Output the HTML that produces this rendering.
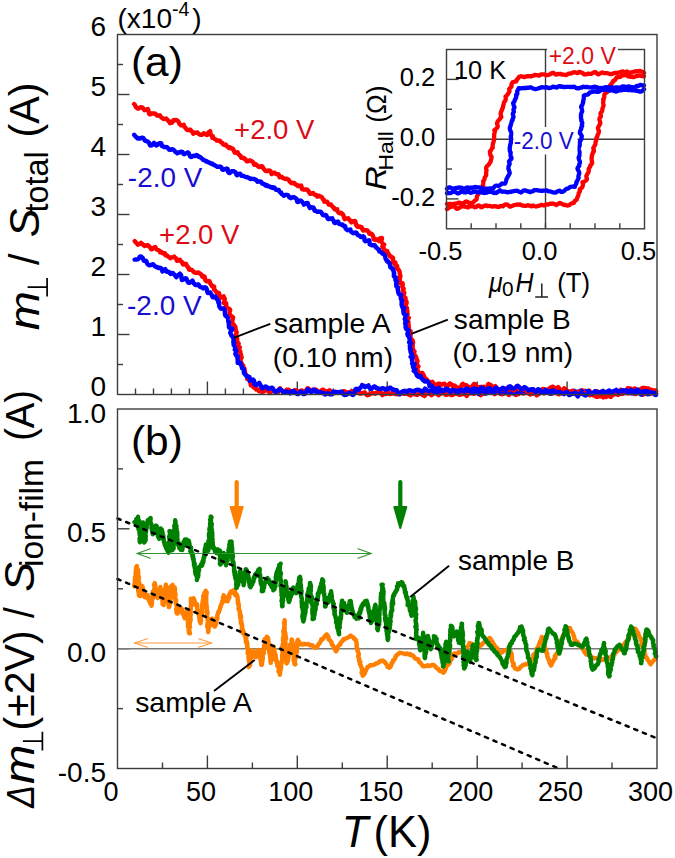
<!DOCTYPE html>
<html><head><meta charset="utf-8"><style>
html,body{margin:0;padding:0;background:#fff;}
svg{display:block;font-family:"Liberation Sans",sans-serif;}
</style></head><body>
<svg width="675" height="858" viewBox="0 0 675 858">
<rect width="675" height="858" fill="#fff"/>
<line x1="117.5" y1="364.5" x2="123.0" y2="364.5" stroke="#3c3c3c" stroke-width="1.40" />
<line x1="117.5" y1="334.5" x2="129.5" y2="334.5" stroke="#3c3c3c" stroke-width="1.40" />
<line x1="117.5" y1="304.5" x2="123.0" y2="304.5" stroke="#3c3c3c" stroke-width="1.40" />
<line x1="117.5" y1="274.5" x2="129.5" y2="274.5" stroke="#3c3c3c" stroke-width="1.40" />
<line x1="117.5" y1="244.5" x2="123.0" y2="244.5" stroke="#3c3c3c" stroke-width="1.40" />
<line x1="117.5" y1="214.5" x2="129.5" y2="214.5" stroke="#3c3c3c" stroke-width="1.40" />
<line x1="117.5" y1="184.5" x2="123.0" y2="184.5" stroke="#3c3c3c" stroke-width="1.40" />
<line x1="117.5" y1="154.5" x2="129.5" y2="154.5" stroke="#3c3c3c" stroke-width="1.40" />
<line x1="117.5" y1="124.5" x2="123.0" y2="124.5" stroke="#3c3c3c" stroke-width="1.40" />
<line x1="117.5" y1="94.5" x2="129.5" y2="94.5" stroke="#3c3c3c" stroke-width="1.40" />
<line x1="117.5" y1="64.5" x2="123.0" y2="64.5" stroke="#3c3c3c" stroke-width="1.40" />
<line x1="135.5" y1="394.5" x2="135.5" y2="388.5" stroke="#3c3c3c" stroke-width="1.40" />
<line x1="153.5" y1="394.5" x2="153.5" y2="388.5" stroke="#3c3c3c" stroke-width="1.40" />
<line x1="171.4" y1="394.5" x2="171.4" y2="388.5" stroke="#3c3c3c" stroke-width="1.40" />
<line x1="189.4" y1="394.5" x2="189.4" y2="388.5" stroke="#3c3c3c" stroke-width="1.40" />
<line x1="207.4" y1="394.5" x2="207.4" y2="381.5" stroke="#3c3c3c" stroke-width="1.40" />
<line x1="225.4" y1="394.5" x2="225.4" y2="388.5" stroke="#3c3c3c" stroke-width="1.40" />
<line x1="243.4" y1="394.5" x2="243.4" y2="388.5" stroke="#3c3c3c" stroke-width="1.40" />
<line x1="261.4" y1="394.5" x2="261.4" y2="388.5" stroke="#3c3c3c" stroke-width="1.40" />
<line x1="279.4" y1="394.5" x2="279.4" y2="388.5" stroke="#3c3c3c" stroke-width="1.40" />
<line x1="297.3" y1="394.5" x2="297.3" y2="381.5" stroke="#3c3c3c" stroke-width="1.40" />
<line x1="315.3" y1="394.5" x2="315.3" y2="388.5" stroke="#3c3c3c" stroke-width="1.40" />
<line x1="333.3" y1="394.5" x2="333.3" y2="388.5" stroke="#3c3c3c" stroke-width="1.40" />
<line x1="351.3" y1="394.5" x2="351.3" y2="388.5" stroke="#3c3c3c" stroke-width="1.40" />
<line x1="369.3" y1="394.5" x2="369.3" y2="388.5" stroke="#3c3c3c" stroke-width="1.40" />
<line x1="387.2" y1="394.5" x2="387.2" y2="381.5" stroke="#3c3c3c" stroke-width="1.40" />
<line x1="405.2" y1="394.5" x2="405.2" y2="388.5" stroke="#3c3c3c" stroke-width="1.40" />
<line x1="423.2" y1="394.5" x2="423.2" y2="388.5" stroke="#3c3c3c" stroke-width="1.40" />
<line x1="441.2" y1="394.5" x2="441.2" y2="388.5" stroke="#3c3c3c" stroke-width="1.40" />
<line x1="459.2" y1="394.5" x2="459.2" y2="388.5" stroke="#3c3c3c" stroke-width="1.40" />
<line x1="477.2" y1="394.5" x2="477.2" y2="381.5" stroke="#3c3c3c" stroke-width="1.40" />
<line x1="495.1" y1="394.5" x2="495.1" y2="388.5" stroke="#3c3c3c" stroke-width="1.40" />
<line x1="513.1" y1="394.5" x2="513.1" y2="388.5" stroke="#3c3c3c" stroke-width="1.40" />
<line x1="531.1" y1="394.5" x2="531.1" y2="388.5" stroke="#3c3c3c" stroke-width="1.40" />
<line x1="549.1" y1="394.5" x2="549.1" y2="388.5" stroke="#3c3c3c" stroke-width="1.40" />
<line x1="567.1" y1="394.5" x2="567.1" y2="381.5" stroke="#3c3c3c" stroke-width="1.40" />
<line x1="585.1" y1="394.5" x2="585.1" y2="388.5" stroke="#3c3c3c" stroke-width="1.40" />
<line x1="603.0" y1="394.5" x2="603.0" y2="388.5" stroke="#3c3c3c" stroke-width="1.40" />
<line x1="621.0" y1="394.5" x2="621.0" y2="388.5" stroke="#3c3c3c" stroke-width="1.40" />
<line x1="639.0" y1="394.5" x2="639.0" y2="388.5" stroke="#3c3c3c" stroke-width="1.40" />
<line x1="117.5" y1="468.9" x2="123.0" y2="468.9" stroke="#3c3c3c" stroke-width="1.40" />
<line x1="117.5" y1="528.8" x2="129.5" y2="528.8" stroke="#3c3c3c" stroke-width="1.40" />
<line x1="117.5" y1="588.8" x2="123.0" y2="588.8" stroke="#3c3c3c" stroke-width="1.40" />
<line x1="117.5" y1="648.7" x2="129.5" y2="648.7" stroke="#3c3c3c" stroke-width="1.40" />
<line x1="117.5" y1="708.6" x2="123.0" y2="708.6" stroke="#3c3c3c" stroke-width="1.40" />
<line x1="162.5" y1="768.5" x2="162.5" y2="762.5" stroke="#3c3c3c" stroke-width="1.40" />
<line x1="207.4" y1="768.5" x2="207.4" y2="755.5" stroke="#3c3c3c" stroke-width="1.40" />
<line x1="252.4" y1="768.5" x2="252.4" y2="762.5" stroke="#3c3c3c" stroke-width="1.40" />
<line x1="297.3" y1="768.5" x2="297.3" y2="755.5" stroke="#3c3c3c" stroke-width="1.40" />
<line x1="342.3" y1="768.5" x2="342.3" y2="762.5" stroke="#3c3c3c" stroke-width="1.40" />
<line x1="387.2" y1="768.5" x2="387.2" y2="755.5" stroke="#3c3c3c" stroke-width="1.40" />
<line x1="432.2" y1="768.5" x2="432.2" y2="762.5" stroke="#3c3c3c" stroke-width="1.40" />
<line x1="477.2" y1="768.5" x2="477.2" y2="755.5" stroke="#3c3c3c" stroke-width="1.40" />
<line x1="522.1" y1="768.5" x2="522.1" y2="762.5" stroke="#3c3c3c" stroke-width="1.40" />
<line x1="567.1" y1="768.5" x2="567.1" y2="755.5" stroke="#3c3c3c" stroke-width="1.40" />
<line x1="612.0" y1="768.5" x2="612.0" y2="762.5" stroke="#3c3c3c" stroke-width="1.40" />
<line x1="117.5" y1="648.7" x2="657.0" y2="648.7" stroke="#7a7a7a" stroke-width="1.60" />
<rect x="446.5" y="49.5" width="198.0" height="179.3" fill="#fff"/>
<polyline fill="none" stroke="#ff0000" stroke-width="4.40" stroke-linejoin="round" stroke-linecap="round" points="134.7,241.1 135.3,241.8 135.9,242.5 136.6,243.1 137.2,243.8 137.8,244.6 138.5,244.5 139.3,244.0 140.0,243.6 140.9,242.8 141.5,243.1 142.1,243.8 142.7,244.4 143.4,244.9 144.1,245.6 144.8,246.0 145.6,245.5 146.2,245.6 146.9,245.1 147.5,245.2 148.1,245.1 148.8,245.9 149.3,246.8 150.1,247.3 150.7,248.2 151.2,249.4 151.8,249.3 152.6,249.0 153.5,248.1 154.4,247.4 155.2,247.1 155.8,248.0 156.3,248.9 156.8,249.7 157.6,249.9 158.5,250.1 159.0,250.4 159.4,250.8 159.9,251.1 160.0,252.2 160.9,251.6 161.6,252.1 162.2,252.9 162.9,253.4 164.0,253.1 164.9,253.2 165.1,253.9 165.3,254.7 165.5,255.4 166.1,255.4 166.8,255.3 167.4,256.0 168.1,256.7 169.0,256.9 169.6,257.5 170.3,258.2 171.2,257.5 171.8,257.5 172.5,257.3 173.3,257.0 174.1,256.5 174.7,257.4 175.3,257.9 176.1,258.3 176.5,259.4 176.8,260.6 177.4,260.8 178.3,260.4 179.1,260.0 179.9,259.8 180.3,260.4 180.9,261.3 181.5,261.9 182.3,262.4 182.6,263.6 183.1,264.5 183.9,264.2 184.7,263.9 185.4,263.8 186.0,263.9 186.3,264.3 186.6,265.5 187.3,266.3 187.8,267.2 188.6,267.7 189.0,268.9 189.1,269.7 189.7,269.8 190.5,269.6 191.2,269.7 191.8,269.8 192.5,270.5 193.1,271.2 193.7,272.0 194.4,272.5 195.3,272.7 195.8,272.7 196.3,272.6 196.8,272.7 197.2,272.9 198.0,272.5 198.9,272.7 199.6,273.3 200.3,273.9 201.1,274.3 201.7,275.2 202.0,275.9 202.2,276.5 202.6,276.9 203.4,276.4 204.1,276.2 204.5,276.6 204.9,277.4 205.0,278.7 205.2,279.8 206.0,280.7 206.7,280.9 206.9,281.4 208.0,281.1 208.8,281.0 209.5,281.1 209.9,282.0 210.1,283.2 210.8,284.0 211.3,284.8 211.7,285.8 212.0,286.2 212.9,286.1 213.3,286.2 213.8,286.5 214.2,286.7 214.0,288.2 214.1,289.5 214.9,290.1 215.6,290.9 216.1,291.8 216.3,292.1 216.5,292.4 216.7,292.8 217.5,292.6 218.1,292.6 219.0,293.2 219.3,294.3 219.4,295.6 219.2,297.0 219.7,298.0 220.2,297.9 220.8,297.8 221.6,297.5 222.6,296.9 223.6,296.4 223.9,297.5 224.7,298.3 224.7,299.8 224.3,301.2 224.1,302.5 223.8,303.1 224.9,303.0 225.7,303.1 226.2,303.3 225.8,304.0 226.3,304.9 225.9,306.3 226.4,307.2 227.3,307.9 228.6,308.5 229.1,308.7 229.5,309.1 229.9,309.4 230.2,309.9 230.1,310.5 229.5,311.7 229.4,312.8 229.8,313.8 229.6,315.0 230.5,315.8 231.3,316.0 231.7,316.4 231.8,316.8 232.6,317.1 233.1,317.4 232.9,318.6 232.5,319.8 232.4,320.9 232.0,322.1 232.0,323.2 232.3,323.4 232.3,323.7 232.5,324.0 232.8,324.1 233.6,324.2 234.1,325.2 235.1,326.2 235.4,327.3 235.5,328.5 235.5,329.7 235.9,330.0 235.9,330.5 235.9,330.9 236.1,331.3 236.2,331.7 236.7,332.5 236.4,333.5 236.0,334.6 235.5,335.6 235.7,336.6 236.1,337.0 236.6,337.3 236.5,337.8 237.1,338.2 237.2,338.7 237.1,339.6 236.7,340.7 237.4,341.5 237.6,342.4 238.0,343.3 238.6,343.7 238.2,344.2 237.9,344.8 237.6,345.3 238.3,345.7 238.7,346.6 239.8,347.3 239.3,348.4 238.7,349.5 238.4,350.6 239.5,350.8 240.0,351.1 240.3,351.4 240.1,351.8 240.3,352.2 240.3,353.2 240.8,354.2 241.1,355.2 241.1,356.3 241.7,357.3 241.5,357.8 241.2,358.4 240.9,358.9 240.7,359.5 240.2,360.1 240.6,361.2 241.1,362.2 241.6,363.2 242.1,364.3 242.6,365.3 243.2,365.5 242.5,366.1 242.4,366.5 242.5,366.9 243.3,367.0 243.6,367.9 244.5,368.6 244.6,369.6 244.7,370.6 244.9,371.6 245.1,372.0 244.7,372.6 244.4,373.1 244.9,373.4 245.4,373.7 245.8,374.5 246.4,375.3 247.2,376.0 248.1,376.6 247.4,377.9 247.4,378.4 247.2,379.0 248.0,379.2 248.8,379.3 250.0,379.2 250.3,380.2 250.4,381.3 250.5,382.3 250.5,383.4 250.7,384.4 250.7,385.0 250.9,385.4 251.8,385.5 252.7,385.5 253.1,385.9 253.2,386.9 253.8,387.5 254.6,388.0 255.3,388.5 256.0,389.1 256.4,389.6 257.2,389.4 257.8,389.3 258.3,389.7 258.7,390.1 259.0,391.3 260.0,391.2 260.7,391.0 261.4,391.5 262.2,392.1 262.9,391.7 263.7,391.6 264.4,391.0 265.1,390.2 265.8,389.8 266.6,390.3 267.3,390.7 268.0,390.9 268.8,391.7 269.6,392.9 270.3,393.0 271.0,391.9 271.7,391.0 272.5,390.5 273.2,390.1 273.9,390.4 274.6,391.2 275.3,391.5 276.0,392.1 276.7,392.5 277.4,391.1 278.1,390.5 278.8,389.8 279.5,389.1 280.2,388.4 280.9,389.6 281.6,390.3 282.3,391.3 283.0,392.6 283.7,392.8 284.4,392.5 285.1,392.1 285.8,391.1 286.5,389.8 287.2,389.6 287.9,389.7 288.6,389.8 289.3,390.2 290.0,391.0 290.7,391.6 291.4,391.6 292.1,391.6 292.9,391.8 293.6,391.6 294.3,390.6 294.9,390.2 295.6,390.1 296.3,390.6 297.1,391.2 297.8,392.0 298.5,391.8 299.2,391.3 299.9,391.1 300.6,390.9 301.3,390.7 302.0,390.5 302.7,391.2 303.4,391.4 304.1,391.4 304.8,391.0 305.5,391.0 306.2,390.3 306.9,389.4 307.6,388.3 308.3,388.4 309.0,389.3 309.8,390.2 310.5,391.5 311.2,391.7 311.9,390.8 312.6,389.8 313.3,390.1 314.0,390.3 314.6,390.2 315.4,389.4 316.1,389.7 316.8,390.2 317.5,391.0 318.1,391.8 318.8,392.5 319.5,391.9 320.2,391.8 320.9,391.2 321.7,390.5 322.4,389.7 323.2,389.8 323.8,390.5 324.5,390.6 325.3,390.8 325.9,391.9 326.5,392.3 327.1,392.4 327.9,391.4 328.7,390.7 329.4,390.2 330.1,390.6 330.7,391.3 331.4,391.9 332.2,392.3 332.8,393.4 333.5,393.4 334.3,393.2 335.0,393.0 335.7,392.5 336.4,391.9 337.1,392.4 337.8,392.9 338.6,392.9 339.3,392.8 340.0,392.7 340.7,392.6 341.4,392.7 342.1,393.1 342.8,392.1 343.6,391.1 344.3,391.1 345.0,391.5 345.7,392.0 346.5,392.1 347.2,392.5 347.9,392.4 348.6,392.8 349.3,392.6 350.0,392.3 350.7,391.9 351.5,391.3 352.2,391.2 352.9,391.3 353.6,391.9 354.3,392.5 355.0,392.5 355.7,392.2 356.5,392.0 357.2,392.3 357.9,391.8 358.6,392.3 359.3,393.1 360.0,393.6 360.7,393.5 361.4,393.6 362.1,393.3 362.8,392.9 363.5,392.8 364.2,392.6 364.9,392.5 365.6,393.6 366.3,394.5 367.0,395.1 367.7,395.2 368.4,395.0 369.1,394.4 369.8,394.3 370.5,393.9 371.2,393.5 371.9,393.1 372.6,392.9 373.3,393.2 374.0,393.4 374.7,393.4 375.4,393.8 376.2,392.7 376.9,392.2 377.6,391.9 378.3,391.6 379.0,390.6 379.7,391.1 380.4,391.7 381.1,393.0 381.7,394.3 382.4,395.1 383.1,394.5 383.9,394.0 384.6,393.3 385.3,393.9 386.0,393.6 386.7,393.8 387.4,393.4 388.1,393.4 388.8,393.0 389.5,393.9 390.2,394.1 390.9,393.8 391.6,393.7 392.3,393.0 393.0,392.1 393.7,392.8 394.4,393.8 395.1,394.1 395.8,394.0 396.5,394.2 397.2,393.9 397.9,394.1 398.6,394.1 399.3,394.0 400.0,392.8 400.7,392.5 401.4,392.2 402.1,393.0 402.8,393.3 403.5,393.8 404.2,393.9 404.9,393.9 405.6,393.6 406.3,393.7 407.0,393.5 407.7,394.2 408.4,394.4 409.1,394.4 409.8,395.0 410.5,395.4 411.2,394.7 411.9,394.3 412.6,394.0 413.3,394.0 414.0,394.0 414.7,394.4 415.4,394.3 416.1,394.8 416.8,394.7 417.5,394.7 418.2,393.9 418.9,393.9 419.6,393.8 420.3,393.7 421.1,393.4 421.8,394.2 422.5,394.9 423.2,395.2 423.9,395.4 424.6,395.9 425.3,395.0 426.0,393.9 426.7,393.0 427.4,393.4 428.1,393.4 428.8,393.8 429.5,393.9 430.2,394.1 430.9,394.9 431.6,395.2 432.3,394.6 433.0,393.9 433.7,393.8 434.4,393.3 435.1,392.8 435.8,393.2 436.5,392.9 437.2,393.6 437.9,394.6 438.6,395.3 439.3,394.4 440.0,393.9 440.7,393.7 441.4,393.6 442.1,392.7 442.8,392.0 443.5,392.1 444.2,393.0 444.9,393.6 445.6,394.9 446.3,394.9 447.0,394.6 447.7,394.4 448.4,394.0 449.1,394.1 449.8,394.4 450.5,394.6 451.2,395.0 451.9,395.0 452.6,395.0 453.3,394.5 454.0,394.2 454.7,393.8 455.4,393.5 456.1,393.4 456.8,393.7 457.5,394.1 458.2,394.3 458.9,394.7 459.7,394.9 460.3,394.1 461.1,394.4 461.8,394.3 462.5,394.2 463.2,393.4 463.9,393.2 464.6,393.0 465.3,394.0 466.0,395.0 466.7,396.0 467.4,394.7 468.1,393.6 468.8,392.6 469.5,392.8 470.2,392.9 470.9,393.4 471.6,393.4 472.3,393.5 473.0,393.5 473.7,393.9 474.4,393.7 475.1,393.2 475.8,392.7 476.5,392.6 477.2,392.6 477.9,393.0 478.6,393.4 479.3,393.6 480.0,394.6 480.7,395.1 481.4,394.1 482.1,394.1 482.8,393.7 483.5,393.6 484.2,392.9 484.9,392.8 485.6,392.1 486.3,392.1 487.0,392.3 487.7,392.7 488.4,392.7 489.1,392.8 489.8,392.4 490.5,391.8 491.2,391.8 491.9,392.7 492.6,392.9 493.3,393.0 494.0,393.2 494.7,394.1 495.4,393.5 496.1,392.8 496.8,392.6 497.5,392.6 498.3,392.7 499.0,392.9 499.7,393.2 500.4,393.9 501.1,393.9 501.8,394.2 502.5,393.8 503.2,394.0 503.9,393.6 504.6,393.4 505.3,392.6 506.0,393.1 506.7,393.1 507.4,393.5 508.1,394.1 508.8,395.0 509.5,394.5 510.2,393.3 510.9,392.1 511.6,391.6 512.3,391.1 513.0,392.5 513.7,393.4 514.4,393.9 515.1,394.3 515.8,395.0 516.5,394.7 517.2,394.3 517.9,393.8 518.6,394.0 519.3,393.4 520.0,392.9 520.7,392.5 521.4,392.2 522.1,393.0 522.8,393.5 523.5,393.5 524.2,393.3 524.9,392.8 525.6,392.2 526.3,391.6 527.0,391.6 527.7,391.8 528.4,392.7 529.1,393.4 529.8,394.2 530.5,394.5 531.2,394.0 531.9,393.7 532.6,393.4 533.3,393.1 534.0,393.1 534.7,393.5 535.4,393.9 536.1,394.1 536.8,395.3 537.5,394.5 538.2,394.5 538.9,394.0 539.6,393.0 540.4,392.0 541.1,391.8 541.8,391.8 542.5,392.2 543.2,393.1 543.9,393.4 544.6,393.1 545.3,392.7 546.0,392.1 546.7,391.9 547.4,391.4 548.1,391.6 548.8,392.2 549.5,392.4 550.2,393.1 550.9,393.8 551.6,393.4 552.3,393.6 553.0,393.0 553.7,392.4 554.4,392.4 555.1,392.2 555.8,392.7 556.5,393.1 557.2,393.3 557.9,393.8 558.6,394.3 559.3,394.1 560.0,393.4 560.7,393.0 561.4,392.4 562.1,392.4 562.8,392.5 563.5,392.6 564.2,392.9 564.9,392.7 565.6,392.2 566.3,392.0 567.0,391.3 567.7,391.3 568.4,391.9 569.1,393.1 569.8,394.4 570.5,393.9 571.2,393.4 571.9,392.6 572.6,392.5 573.3,393.0 574.0,393.5 574.7,393.0 575.4,392.4 576.1,392.8 576.8,392.7 577.5,392.5 578.2,392.6 578.9,393.9 579.6,393.8 580.4,393.4 581.1,392.4 581.8,391.6 582.5,390.4 583.2,391.0 583.9,391.6 584.6,392.2 585.3,392.7 586.0,393.4 586.7,393.2 587.4,392.5 588.1,391.9 588.8,390.7 589.5,390.8 590.2,392.2 590.9,393.7 591.6,393.5 592.3,394.0 593.0,394.1 593.7,393.4 594.4,393.0 595.1,392.2 595.8,391.9 596.5,391.4 597.2,391.2 597.9,392.1 598.6,393.0 599.3,394.1 600.0,394.8 600.7,394.3 601.4,393.4 602.1,393.0 602.8,393.0 603.5,393.1 604.2,393.2 604.9,393.1 605.6,393.2 606.3,393.7 607.0,394.0 607.7,393.8 608.4,393.7 609.1,393.6 609.8,393.2 610.5,393.3 611.2,393.5 611.9,393.4 612.6,393.5 613.3,393.7 614.0,393.8 614.7,393.7 615.4,393.4 616.1,392.9 616.8,392.1 617.5,391.4 618.2,391.6 618.9,391.6 619.6,392.1 620.3,392.7 621.0,393.8 621.7,394.0 622.4,393.9 623.1,393.6 623.8,393.3 624.5,393.0 625.2,392.4 625.9,392.4 626.6,392.4 627.3,392.8 628.0,393.4 628.7,392.7 629.4,392.2 630.1,392.0 630.8,391.8 631.5,391.8 632.2,392.7 632.9,393.4 633.6,393.5 634.3,393.4 635.0,394.1 635.7,394.0 636.4,393.7 637.1,393.0 637.8,392.5 638.5,392.2 639.2,392.8 639.9,392.7 640.6,393.4 641.3,393.9 642.0,394.7 642.7,394.4 643.4,394.5 644.1,394.3 644.8,393.8 645.5,393.3 646.2,393.5 646.9,392.9 647.6,392.2 648.3,392.8 649.0,393.7 649.7,394.1 650.4,393.8 651.1,393.4 651.8,392.9 652.5,391.8 653.2,392.0 653.9,391.9 654.6,392.1 655.3,392.8 656.0,393.2"/>
<polyline fill="none" stroke="#0000ff" stroke-width="4.40" stroke-linejoin="round" stroke-linecap="round" points="134.6,259.6 135.3,259.5 136.0,259.6 136.7,259.6 137.3,259.4 137.9,259.3 138.6,258.7 139.1,257.8 139.7,256.9 140.9,256.4 141.3,256.8 141.9,257.4 142.7,257.8 142.9,258.9 143.4,259.7 143.8,260.6 144.4,260.8 145.2,260.7 145.9,260.6 146.3,261.1 146.6,261.6 146.8,262.9 147.4,263.8 148.0,264.6 148.8,265.0 149.7,265.4 150.4,265.1 151.1,264.9 151.8,264.7 152.4,264.4 153.1,264.2 153.8,264.8 154.3,265.6 154.9,266.4 155.7,266.6 156.4,267.3 157.2,266.9 157.7,267.3 158.2,267.7 158.7,268.0 159.6,267.6 160.3,268.0 161.1,268.2 161.8,268.7 162.1,270.0 162.4,271.6 163.2,271.0 164.3,270.0 165.3,269.1 165.6,269.9 166.0,270.4 166.5,271.6 167.3,271.8 168.3,271.8 169.2,271.9 169.7,273.0 170.2,273.2 170.5,273.9 171.2,273.7 171.9,273.4 172.7,272.9 173.4,273.5 174.0,274.4 174.7,275.0 175.4,275.7 175.9,276.7 176.3,277.2 177.2,276.3 178.1,275.2 179.1,274.3 179.9,273.6 180.6,274.4 181.2,275.4 181.4,277.0 181.6,278.6 181.9,280.1 182.7,279.8 183.5,279.3 184.5,278.7 185.2,278.3 185.9,278.3 186.5,278.8 186.8,280.1 187.3,281.0 187.8,282.0 188.4,282.6 188.9,282.8 189.6,282.7 190.6,281.9 191.6,281.2 192.5,280.5 193.0,281.7 193.4,282.9 194.0,283.7 194.8,284.2 195.4,285.1 196.0,285.1 196.6,285.0 197.2,284.7 197.9,284.3 198.4,284.5 199.0,285.2 199.5,286.2 200.1,286.9 200.9,287.1 201.9,287.1 202.3,287.5 202.6,288.0 203.1,288.4 203.9,287.9 204.8,287.3 205.9,287.6 206.5,288.6 206.9,289.6 207.1,291.0 207.3,292.2 207.8,292.4 207.8,293.0 208.6,292.9 209.5,292.6 210.3,292.5 210.7,293.4 211.3,294.2 211.8,295.1 212.2,296.1 212.6,297.1 213.0,297.1 213.3,297.3 214.0,297.0 214.8,296.6 215.4,296.5 215.8,297.7 216.4,298.6 217.2,299.4 217.8,300.3 218.6,301.3 218.9,301.6 218.7,302.0 218.4,302.5 219.0,302.4 219.2,302.6 219.1,304.1 219.1,305.5 219.4,306.7 220.0,307.8 220.9,308.7 221.6,308.6 222.0,308.6 222.7,308.5 223.0,308.6 223.6,308.5 224.3,309.4 224.7,310.5 224.8,311.8 224.9,313.1 225.0,314.3 225.0,314.7 225.3,315.0 225.3,315.5 225.5,315.8 226.5,315.9 226.8,316.9 227.7,317.7 228.0,318.7 228.1,319.8 228.4,320.8 228.2,321.2 228.3,321.6 228.5,322.0 229.0,322.2 228.9,322.6 228.8,323.7 228.8,324.8 229.0,325.8 228.9,326.9 229.3,327.8 229.8,328.0 230.2,328.2 231.0,328.3 231.6,328.5 232.3,328.7 231.8,330.1 230.6,331.7 230.2,333.0 230.9,334.2 231.4,335.4 231.4,335.6 231.5,335.8 232.1,335.9 232.2,336.1 232.2,336.3 232.9,337.4 233.4,338.5 233.5,339.7 233.5,341.0 233.3,342.3 233.8,342.5 234.1,342.7 234.2,342.9 234.0,343.3 233.7,343.6 233.6,344.9 234.4,345.9 235.0,346.9 235.1,348.1 235.2,349.3 235.1,349.5 234.8,349.8 235.2,350.0 235.4,350.2 236.2,350.2 236.3,351.3 236.0,352.5 235.3,353.8 235.8,354.9 236.5,355.8 237.2,355.9 237.5,356.1 237.7,356.3 237.8,356.5 237.8,356.7 237.4,358.1 237.6,359.2 237.7,360.4 237.7,361.6 237.7,362.9 238.9,362.6 239.6,362.6 240.1,362.7 240.1,363.1 240.7,363.1 240.6,364.4 241.1,365.3 241.7,366.1 241.8,367.3 242.1,368.3 242.5,368.5 243.0,368.7 243.4,369.0 243.9,369.1 243.9,369.6 243.8,370.8 243.9,371.9 243.9,373.1 244.8,373.8 245.3,374.8 245.8,375.0 246.2,375.3 246.5,375.8 246.6,376.4 247.4,376.3 248.3,376.7 249.5,376.9 249.6,378.1 249.6,379.5 249.6,380.9 250.7,380.3 251.2,380.3 252.2,379.8 253.1,379.5 253.2,379.9 254.0,380.5 254.2,381.6 254.2,382.9 254.2,384.2 255.2,384.8 255.9,384.8 256.4,385.1 257.3,384.5 258.2,383.7 259.2,382.8 259.8,383.8 260.3,384.8 260.9,385.7 261.4,387.0 261.9,388.1 262.5,388.2 263.4,387.6 264.2,387.1 265.1,386.6 265.8,386.4 266.5,387.0 267.2,387.4 267.7,388.5 268.3,388.8 269.0,388.7 269.6,388.6 270.4,387.9 271.0,387.8 271.6,388.1 272.3,387.8 273.0,388.5 273.6,389.7 274.2,390.8 274.9,391.6 275.6,392.3 276.3,391.4 277.1,391.0 277.8,390.5 278.5,390.1 279.3,389.1 280.1,389.4 280.8,389.8 281.5,390.1 282.2,391.0 282.9,391.8 283.6,391.8 284.3,391.8 285.0,391.5 285.6,391.9 286.3,391.7 287.1,391.9 287.8,392.2 288.6,392.4 289.2,393.0 290.0,393.5 290.7,392.6 291.5,391.6 292.2,391.1 292.9,391.1 293.6,390.9 294.3,391.6 295.0,392.3 295.7,392.9 296.4,393.3 297.1,394.0 297.8,394.1 298.5,393.9 299.3,393.0 300.0,391.9 300.7,391.5 301.4,392.1 302.3,392.9 303.1,394.0 303.7,393.6 304.4,394.0 305.2,393.7 305.8,392.8 306.4,391.3 307.0,390.2 307.6,389.3 308.3,389.5 309.1,390.0 310.0,391.5 310.7,391.9 311.5,392.4 312.1,391.4 312.7,390.5 313.4,389.7 314.2,389.7 314.6,389.9 314.9,391.2 315.8,391.3 316.6,391.3 317.4,391.6 317.9,392.6 318.7,392.2 319.4,392.0 320.0,392.2 320.4,392.7 321.1,392.6 322.0,392.8 322.8,393.0 323.7,393.2 324.4,393.7 325.1,394.5 325.7,394.3 326.4,394.0 326.7,393.8 327.1,393.4 328.1,393.3 329.0,393.9 329.8,394.3 330.3,394.1 331.0,394.3 331.7,394.4 332.2,393.4 332.8,392.6 333.3,391.6 334.3,391.7 335.2,391.7 335.7,392.3 336.1,392.2 336.9,392.2 337.8,392.1 338.6,392.1 339.3,392.2 340.0,391.9 340.7,391.8 341.4,391.7 342.1,391.8 342.6,392.9 343.3,393.7 343.8,394.6 344.6,395.0 345.4,394.9 346.2,394.8 347.1,394.4 347.7,393.7 348.4,393.1 349.2,392.7 349.9,393.1 350.7,393.6 351.3,393.7 352.2,394.7 353.0,395.1 353.9,394.1 354.5,392.7 355.0,391.6 355.2,390.1 355.6,388.9 356.1,388.9 356.6,388.8 357.4,389.1 358.1,389.5 358.9,389.8 359.4,388.7 360.2,388.0 360.9,387.2 361.6,386.3 362.0,385.1 362.4,385.4 362.8,385.4 363.6,385.6 364.3,386.1 364.9,387.2 365.7,386.6 366.4,386.3 367.0,386.1 367.7,385.7 368.4,385.4 369.0,386.7 369.5,387.9 370.3,388.0 371.0,388.9 371.8,388.8 372.6,387.7 373.3,387.0 374.0,386.5 374.7,386.5 375.5,386.9 376.2,387.9 376.9,387.9 377.6,388.2 378.4,388.7 379.1,389.0 379.8,388.7 380.6,388.9 381.3,388.8 382.0,388.5 382.7,388.1 383.5,388.3 384.2,388.5 384.9,389.3 385.6,389.7 386.4,389.3 387.1,388.5 387.7,388.5 388.2,388.6 388.7,388.8 389.7,387.7 390.6,387.8 391.3,388.5 391.9,389.3 392.9,389.1 393.5,390.0 394.1,390.1 394.8,390.0 395.3,390.2 396.1,390.1 396.7,390.1 397.3,391.1 397.7,392.7 398.6,393.6 399.4,394.3 400.1,394.2 400.7,393.1 401.5,392.4 402.2,391.7 402.9,391.3 403.7,390.9 404.4,391.4 405.1,391.1 405.8,391.5 406.5,391.9 407.3,392.3 407.9,390.7 408.6,390.4 409.4,390.3 410.2,390.4 410.9,390.6 411.6,390.7 412.3,391.2 413.0,391.4 413.7,391.0 414.4,391.5 415.1,390.8 415.8,390.2 416.5,390.0 417.2,389.9 417.9,389.7 418.6,390.0 419.3,390.0 420.0,390.7 420.7,390.6 421.4,391.4 422.1,391.7 422.8,391.6 423.6,390.9 424.3,389.7 425.0,388.6 425.7,389.1 426.4,389.8 427.2,390.4 427.9,390.8 428.6,391.1 429.3,391.3 430.0,391.0 430.7,390.6 431.4,390.3 432.1,390.0 432.9,390.4 433.6,391.1 434.3,391.8 435.0,392.7 435.7,392.8 436.4,392.7 437.1,392.5 437.8,392.2 438.6,390.8 439.3,390.1 440.0,390.0 440.7,390.1 441.4,390.2 442.2,389.8 442.9,390.8 443.6,391.0 444.3,390.5 445.0,390.4 445.7,390.2 446.4,390.0 447.1,390.2 447.9,390.4 448.6,390.2 449.3,390.8 450.0,391.6 450.7,392.0 451.4,390.8 452.1,390.5 452.9,390.1 453.6,389.2 454.3,389.8 455.0,390.2 455.7,390.9 456.4,391.7 457.2,391.9 457.9,391.9 458.6,391.8 459.3,391.8 460.0,390.7 460.7,389.9 461.4,389.8 462.2,390.4 462.9,390.3 463.6,391.3 464.3,391.7 465.0,391.2 465.7,390.8 466.4,390.5 467.2,390.0 467.9,389.7 468.6,390.4 469.3,390.9 470.0,391.3 470.7,391.5 471.4,392.0 472.1,391.9 472.9,391.8 473.6,392.1 474.3,392.2 475.0,391.2 475.7,391.3 476.4,391.2 477.1,391.6 477.9,392.5 478.6,393.9 479.3,392.7 480.0,391.7 480.7,390.6 481.4,389.9 482.1,390.2 482.9,390.9 483.6,391.2 484.3,391.6 485.0,392.3 485.7,393.6 486.4,393.4 487.1,392.7 487.9,391.2 488.6,390.2 489.3,389.6 490.0,390.4 490.7,390.8 491.4,391.5 492.1,392.1 492.9,392.7 493.6,392.6 494.3,392.4 495.0,391.8 495.7,391.1 496.4,390.0 497.1,390.0 497.9,390.2 498.6,390.8 499.3,391.3 500.0,392.1 500.7,392.1 501.4,391.7 502.1,391.5 502.8,391.3 503.5,390.6 504.2,390.7 504.9,391.5 505.6,392.1 506.3,392.1 507.0,392.8 507.7,392.5 508.4,392.0 509.1,391.7 509.8,392.2 510.5,391.7 511.2,391.9 511.9,392.6 512.6,392.4 513.3,393.2 514.0,393.4 514.7,392.7 515.4,392.7 516.1,392.0 516.8,391.2 517.5,391.0 518.2,391.4 518.9,392.0 519.6,391.9 520.4,391.9 521.1,392.0 521.8,391.7 522.5,391.6 523.2,391.4 523.9,391.1 524.6,390.9 525.3,391.0 526.0,391.4 526.7,391.7 527.4,391.8 528.1,391.5 528.8,391.1 529.5,390.5 530.2,389.9 530.9,389.8 531.6,389.5 532.3,390.3 533.0,390.9 533.7,391.0 534.4,391.3 535.1,391.5 535.8,391.0 536.5,390.7 537.2,389.7 537.9,389.3 538.6,389.8 539.3,391.0 540.0,391.7 540.7,391.6 541.4,391.8 542.1,392.1 542.8,392.0 543.5,392.1 544.2,392.0 544.9,391.4 545.6,391.0 546.4,391.0 547.1,391.8 547.8,392.2 548.5,392.3 549.2,393.4 549.9,393.6 550.6,393.7 551.3,393.1 552.0,391.9 552.7,392.3 553.4,391.8 554.1,391.4 554.8,391.8 555.5,391.8 556.2,391.5 557.0,391.0 557.7,391.4 558.4,391.5 559.1,391.5 559.8,391.5 560.5,392.0 561.2,392.3 561.9,392.6 562.6,392.8 563.3,392.7 564.0,392.1 564.7,392.4 565.4,392.4 566.1,391.9 566.8,391.3 567.5,391.2 568.2,391.8 568.9,392.2 569.6,392.6 570.4,392.8 571.1,392.7 571.8,391.8 572.5,391.4 573.2,391.7 573.9,390.8 574.6,391.1 575.3,391.6 576.0,391.8 576.7,391.6 577.4,392.1 578.1,392.1 578.8,391.9 579.5,391.2 580.2,390.7 580.9,390.6 581.6,391.6 582.3,393.0 583.1,392.2 583.8,392.4 584.5,392.6 585.2,392.2 585.9,391.5 586.6,391.4 587.3,391.2 588.0,390.9 588.7,390.9 589.4,391.9 590.1,393.3 590.8,394.4 591.5,394.0 592.2,393.5 592.9,392.8 593.7,392.2 594.4,391.7 595.1,391.1 595.8,391.9 596.5,392.6 597.2,393.4 597.9,393.6 598.6,393.5 599.3,393.5 600.0,393.4 600.7,393.1 601.4,393.1 602.1,392.4 602.8,392.0 603.5,391.7 604.2,392.5 604.9,393.4 605.6,393.9 606.3,393.1 607.0,392.6 607.7,391.4 608.4,390.9 609.1,390.5 609.8,390.8 610.5,392.0 611.2,392.7 611.9,393.9 612.6,394.7 613.3,393.8 614.0,393.1 614.7,392.2 615.4,391.5 616.1,390.9 616.8,391.9 617.5,393.0 618.2,393.8 618.9,393.1 619.6,393.6 620.3,392.5 621.0,392.0 621.7,391.6 622.4,391.4 623.1,390.5 623.8,390.4 624.5,390.5 625.2,390.9 625.9,392.2 626.6,392.9 627.3,392.5 628.0,391.9 628.7,391.8 629.4,392.0 630.1,392.2 630.8,393.1 631.5,392.6 632.2,393.0 632.9,393.0 633.6,393.0 634.3,392.9 635.0,392.4 635.7,392.1 636.4,391.8 637.1,391.1 637.8,391.3 638.5,392.1 639.2,392.7 639.9,393.3 640.6,394.3 641.3,394.5 642.0,394.1 642.7,393.3 643.4,392.0 644.1,391.4 644.8,391.4 645.5,391.5 646.2,392.7 646.9,393.2 647.6,394.3 648.3,394.1 649.0,393.5 649.7,392.7 650.4,392.6 651.1,392.2 651.8,392.5 652.5,392.6 653.2,393.3 653.9,393.8 654.6,394.5 655.3,394.6 656.0,393.9"/>
<polyline fill="none" stroke="#ff0000" stroke-width="4.40" stroke-linejoin="round" stroke-linecap="round" points="134.1,104.1 134.9,104.7 135.4,106.0 135.9,107.3 136.7,107.6 137.4,108.4 137.9,108.6 138.6,108.5 139.4,107.8 140.0,107.8 140.9,107.1 141.8,107.3 142.7,107.6 143.2,108.7 143.9,109.4 144.5,110.2 145.2,109.8 145.9,109.5 146.3,109.8 147.1,109.4 147.8,109.1 148.3,110.1 148.6,111.5 148.9,112.9 149.4,114.1 150.3,114.4 151.1,113.9 152.0,113.3 152.4,113.5 152.9,113.6 153.5,113.7 154.5,113.5 155.3,113.7 156.0,114.2 156.5,115.1 157.2,115.7 157.8,115.6 158.4,115.7 159.0,115.7 159.8,115.2 160.2,115.8 160.8,116.7 161.4,117.5 162.1,117.9 162.8,118.4 163.6,119.0 164.4,118.9 165.2,118.9 166.1,118.6 166.4,119.2 167.1,119.4 167.7,120.1 168.2,121.0 169.2,121.2 169.8,121.9 169.9,123.2 170.5,122.7 171.7,122.9 172.4,122.3 172.9,121.3 173.3,120.2 174.2,120.6 174.6,120.2 175.2,120.0 175.8,120.0 176.2,119.9 176.3,120.2 176.9,120.3 177.5,120.5 177.7,121.0 178.2,121.3 178.7,122.2 179.1,123.2 179.6,124.1 180.5,124.6 181.1,125.4 181.9,125.4 182.8,125.2 183.8,124.8 183.6,125.9 184.1,126.2 184.6,127.0 185.4,127.5 185.8,128.5 186.5,129.1 187.0,129.9 187.6,129.9 188.1,130.1 188.9,129.8 189.7,129.6 190.4,129.6 190.8,130.7 191.6,131.2 192.3,131.8 192.8,132.7 193.3,133.7 194.1,132.7 194.8,132.6 195.4,132.7 196.0,132.8 196.7,132.4 197.5,132.5 198.2,133.2 198.8,134.0 199.6,134.3 200.1,134.8 200.8,134.9 201.6,134.9 202.4,134.6 203.1,133.8 203.8,133.2 204.4,133.5 205.1,133.8 205.8,134.3 206.6,134.9 207.2,135.0 207.7,134.0 208.3,133.0 208.8,132.0 209.6,131.7 210.1,131.2 210.4,132.0 210.4,133.2 210.6,134.3 211.3,135.2 211.9,136.1 212.8,136.2 212.4,136.8 212.2,137.2 212.3,137.8 213.2,137.7 213.8,138.4 214.6,138.9 215.4,139.3 216.1,139.9 216.8,140.6 217.4,140.6 218.0,140.5 218.6,140.5 219.0,140.7 219.7,140.6 220.2,141.6 221.0,142.2 221.9,142.6 222.6,143.3 223.1,144.5 223.6,144.6 224.0,144.8 224.4,145.1 225.2,144.8 225.8,144.6 226.4,145.4 226.9,146.3 227.7,146.7 228.3,147.4 229.0,148.0 230.0,147.3 230.2,148.0 230.6,148.3 231.1,148.5 231.8,148.4 232.8,148.7 233.4,149.5 233.8,150.7 234.3,151.8 234.9,152.7 235.6,152.6 236.3,152.5 237.0,152.4 237.7,152.3 237.9,152.9 238.3,153.9 239.1,154.5 239.7,155.2 240.5,155.8 240.9,156.9 241.1,157.3 241.3,157.7 242.2,157.4 242.3,158.0 243.0,158.0 244.0,158.0 244.5,159.0 245.5,159.1 246.0,159.9 246.5,161.0 246.9,161.4 247.6,161.2 248.2,161.2 248.8,161.1 249.8,160.3 250.5,160.9 251.5,161.0 252.2,161.5 252.9,162.1 253.5,162.8 253.8,163.5 254.0,164.2 254.3,164.8 255.0,164.7 255.7,164.3 256.5,164.7 257.2,165.4 257.7,166.3 258.6,166.4 259.3,167.1 260.0,166.7 260.8,166.3 261.2,166.7 262.1,166.2 262.5,166.5 262.9,167.8 263.4,168.7 264.1,169.1 264.6,170.0 265.2,170.8 265.9,170.7 266.4,171.0 267.0,171.1 267.7,171.0 268.6,170.4 269.5,170.5 270.3,170.8 270.8,171.8 271.2,172.8 271.6,174.1 272.5,173.4 273.2,173.3 274.0,172.8 274.7,172.7 275.1,173.2 275.8,173.8 276.6,174.1 277.5,174.3 278.5,174.1 278.9,175.3 279.2,176.2 279.5,177.2 280.2,177.1 280.9,177.0 281.7,176.7 282.3,177.4 282.9,178.1 283.8,178.2 284.5,178.7 285.3,179.0 286.1,178.6 286.8,178.6 287.3,178.9 287.8,179.3 288.4,179.5 289.0,180.4 289.5,181.3 290.2,182.0 290.8,182.6 291.5,183.2 292.4,182.8 292.9,183.0 293.5,183.0 294.1,183.0 294.7,183.1 295.0,184.3 295.8,184.6 296.6,184.9 297.4,185.3 297.9,186.1 298.4,186.2 299.1,186.0 300.0,185.6 300.5,185.7 301.2,185.5 301.5,186.7 301.8,188.1 302.1,189.3 303.2,189.2 304.0,189.7 304.8,189.5 305.4,189.5 306.1,189.4 306.7,189.6 307.3,189.7 307.9,190.4 308.4,191.1 308.9,192.0 309.4,192.6 309.9,193.5 310.2,193.9 310.9,193.7 311.7,193.4 312.4,193.2 313.1,193.0 313.7,193.9 314.4,194.5 315.3,194.8 316.3,195.0 316.8,195.9 317.1,196.6 317.6,196.7 318.4,196.2 319.2,195.8 319.6,196.2 320.5,196.5 321.3,196.8 322.1,197.6 322.6,198.6 323.2,199.5 323.8,199.6 323.9,200.4 324.3,200.7 324.3,201.7 325.1,201.5 326.1,201.7 327.2,201.7 327.6,202.7 328.2,203.6 328.7,204.5 329.2,204.6 329.6,204.7 330.4,204.4 330.9,204.5 331.2,204.9 331.8,205.6 332.4,206.5 333.1,207.2 334.0,207.7 334.3,208.9 334.6,209.2 335.0,209.5 335.7,209.5 336.1,209.7 337.2,209.2 337.3,210.4 337.7,211.4 338.1,212.2 338.8,212.8 339.7,213.2 340.8,212.7 341.3,213.0 341.3,213.7 341.9,213.8 342.5,213.9 343.1,214.7 343.6,215.7 343.8,217.1 344.3,218.3 344.8,219.2 345.7,218.7 346.4,218.5 346.9,218.6 347.6,218.5 348.3,218.3 348.9,219.2 349.5,219.9 350.2,220.6 350.7,221.5 351.3,222.4 352.2,221.7 353.1,221.2 353.7,221.1 354.2,221.1 354.9,220.9 355.5,221.7 355.7,223.1 355.9,224.6 356.8,225.2 357.1,226.4 357.4,226.8 357.9,226.9 358.4,227.0 359.1,226.8 359.9,226.5 360.7,226.8 361.6,227.1 361.8,228.4 362.4,229.0 362.8,230.1 363.3,230.5 364.3,230.0 364.9,230.2 365.6,230.2 366.4,230.1 367.3,230.3 367.9,231.2 368.6,231.8 369.1,232.8 369.3,233.7 370.1,233.7 370.8,233.6 371.4,233.7 371.8,233.9 371.6,234.5 372.6,235.1 373.1,236.0 373.3,237.1 373.6,238.1 373.7,239.3 374.1,239.4 374.4,239.6 374.7,239.8 375.2,240.0 375.7,239.3 375.8,239.3 376.5,239.4 377.1,239.4 378.1,240.3 378.9,240.9 379.4,239.8 379.9,238.4 380.6,238.2 381.9,237.9 382.0,238.7 381.6,239.9 381.2,241.0 381.7,242.0 382.2,242.9 382.8,243.8 383.2,244.2 384.2,244.5 383.7,245.1 383.0,245.7 382.3,246.3 382.7,247.3 383.8,248.3 384.4,249.3 383.9,250.5 384.7,251.2 385.0,251.3 385.4,251.3 385.9,251.4 386.5,251.3 387.1,251.0 387.6,252.2 388.1,253.2 388.8,254.1 389.4,255.0 389.8,256.2 390.3,256.4 390.9,256.5 391.0,257.0 391.5,257.2 392.3,257.1 393.1,258.0 393.0,259.2 392.8,260.5 392.6,261.8 393.5,262.6 394.3,262.5 395.4,262.4 395.2,262.9 394.8,263.4 394.4,264.0 395.3,264.7 396.4,265.3 397.2,266.1 397.3,267.2 397.0,268.5 397.7,268.6 397.7,268.9 397.7,269.3 398.0,269.5 398.4,269.7 399.1,270.6 399.6,271.5 399.6,272.6 399.9,273.6 399.9,274.7 399.7,275.2 399.7,275.6 400.4,275.8 400.5,276.2 400.2,276.7 400.0,277.9 399.8,279.1 399.8,280.3 399.6,281.5 399.9,282.5 400.4,282.7 400.0,283.1 401.3,283.0 402.0,283.1 402.6,283.2 402.8,284.3 402.5,285.4 402.3,286.6 402.8,287.5 403.5,288.4 403.7,288.9 403.1,289.6 402.8,290.1 402.7,290.6 403.2,291.0 403.7,291.9 404.3,292.7 404.1,293.7 403.6,294.7 402.9,295.8 403.0,296.2 403.6,296.6 404.4,296.9 404.9,297.3 405.3,297.6 405.6,298.7 405.5,299.9 406.2,300.9 406.6,302.0 406.4,303.2 406.3,303.4 406.5,303.6 406.0,303.9 405.6,304.3 405.0,304.6 405.4,305.7 405.9,306.9 406.9,307.9 407.0,309.1 406.8,310.4 406.4,310.7 407.0,310.8 407.4,311.0 407.4,311.3 407.2,311.5 407.4,312.7 407.6,313.8 407.4,315.0 407.2,316.2 407.2,317.3 407.7,317.5 408.3,317.7 408.9,317.8 408.5,318.1 408.4,318.4 407.8,319.7 407.7,320.8 408.5,321.8 408.4,323.0 408.3,324.1 408.3,324.3 408.2,324.6 408.1,324.8 408.4,325.0 408.7,325.2 408.6,326.4 408.9,327.6 408.6,328.8 409.1,330.0 409.8,331.1 410.6,331.2 410.3,331.5 410.1,331.8 410.1,332.1 410.3,332.4 410.1,333.6 410.4,334.7 410.5,335.9 410.5,337.1 410.0,338.4 410.2,338.7 410.6,339.0 410.7,339.3 410.9,339.6 412.0,339.7 412.8,340.6 412.9,341.6 413.1,342.5 412.9,343.6 412.7,344.7 412.7,345.1 412.7,345.6 412.7,346.0 412.3,346.6 412.1,347.1 412.4,348.0 413.0,348.8 413.1,349.7 413.6,350.5 414.1,351.3 414.5,351.6 414.2,352.1 413.9,352.5 413.5,352.9 414.1,353.2 414.2,354.4 415.1,355.4 415.8,356.5 416.3,357.5 416.6,358.7 416.6,359.0 416.5,359.3 416.5,359.5 416.7,359.7 417.0,359.9 417.5,361.0 417.2,362.1 416.7,363.4 415.9,364.7 416.9,365.6 417.6,365.9 418.3,366.1 418.5,366.4 417.8,367.0 417.4,367.5 417.4,368.8 417.7,370.1 418.0,371.1 418.5,372.0 419.1,372.8 419.6,372.9 419.9,373.3 420.4,373.4 421.3,373.2 422.3,372.9 422.8,373.8 423.4,374.6 423.8,375.6 424.3,376.5 424.6,377.6 424.5,378.3 425.1,378.5 425.5,378.8 425.9,379.1 426.7,379.1 427.0,380.0 427.4,380.9 428.1,381.5 429.4,381.7 429.5,382.8 429.3,383.5 429.7,384.1 430.5,383.5 431.6,382.7 432.5,381.9 433.1,382.7 433.7,383.7 434.1,384.9 434.5,386.1 434.9,387.3 435.3,387.6 436.6,387.4 437.1,385.6 437.4,384.3 438.1,383.6 438.8,383.8 439.2,383.7 439.9,383.9 440.7,384.2 441.0,385.0 441.0,384.7 441.9,384.5 442.8,384.2 443.8,383.9 444.6,383.7 445.1,384.6 445.6,385.4 446.2,386.2 446.1,386.9 446.1,386.9 447.0,386.6 447.8,386.0 448.4,384.8 449.2,384.2 449.9,383.4 450.7,384.0 451.5,384.4 452.0,385.1 452.3,385.7 453.3,386.1 454.3,385.4 454.7,385.6 455.0,386.0 455.4,386.2 455.8,386.4 456.2,387.5 457.1,387.7 458.1,388.7 458.9,388.1 459.1,387.6 460.2,387.4 460.8,386.7 461.5,386.1 461.8,385.0 462.2,384.1 462.9,384.0 463.0,383.9 463.4,384.3 464.1,384.9 464.8,385.6 465.8,385.2 466.5,385.2 466.9,385.8 467.4,386.2 467.9,386.7 468.8,386.9 469.5,387.3 470.4,388.3 470.8,387.4 471.4,387.6 472.0,386.8 472.6,385.8 473.2,385.1 474.1,383.9 475.0,384.1 475.6,384.9 476.2,385.7 476.8,386.5 477.4,387.2 478.1,387.9 478.9,387.4 479.7,387.1 480.1,386.9 480.7,386.9 481.5,387.0 482.3,387.5 482.8,386.9 483.4,386.8 484.1,386.8 484.8,387.4 485.7,387.5 486.6,387.9 487.3,386.9 487.8,385.3 488.3,383.9 489.1,384.3 490.0,384.7 491.0,385.2 491.6,386.1 492.1,387.4 492.7,387.6 493.6,387.0 494.4,386.6 495.2,386.1 495.7,386.6 496.3,387.9 496.8,389.1 497.7,389.3 498.5,389.5 499.3,389.8 500.0,389.6 500.7,389.6 501.4,389.4 502.2,389.0 502.9,388.6 503.6,389.4 504.3,388.9 505.0,388.7 505.7,388.4 506.4,389.2 507.1,389.8 507.9,390.2 508.6,389.8 509.3,389.2 510.0,388.8 510.7,389.1 511.4,389.0 512.1,388.9 512.9,389.6 513.6,390.1 514.3,390.4 515.0,389.3 515.7,388.0 516.4,386.6 517.1,386.9 517.9,388.1 518.6,389.2 519.3,388.3 520.1,388.2 521.1,388.7 521.5,389.4 521.8,390.1 522.4,390.2 523.3,389.7 524.1,389.4 525.0,389.7 525.8,390.0 526.4,390.8 527.2,391.3 527.8,391.9 528.2,392.6 528.6,393.2 529.1,393.7 529.9,394.2 530.9,393.8 531.5,393.6 532.1,393.2 532.6,392.9 533.4,393.2 534.1,393.3 534.8,392.7 535.4,392.1 536.1,391.5 537.0,391.6 537.6,390.7 538.2,390.5 538.8,390.3 539.6,390.8 540.2,390.9 540.9,391.1 541.5,390.4 542.2,389.8 542.7,389.0 543.5,389.1 544.3,389.2 545.1,389.7 545.8,389.7 546.5,390.0 547.3,390.5 548.0,390.5 548.6,389.8 549.1,388.7 549.8,388.1 550.5,387.6 551.2,387.2 551.9,387.3 552.4,386.8 553.0,386.8 554.0,387.9 554.8,388.2 555.3,388.7 556.1,388.3 556.8,387.8 557.5,387.7 558.2,387.1 558.9,387.9 559.5,389.2 560.1,390.4 560.9,390.6 561.7,391.0 562.5,390.2 563.3,389.3 564.1,388.3 564.7,388.5 565.3,388.9 565.8,390.3 566.6,390.5 567.2,391.2 567.8,392.1 568.5,392.7 569.2,392.4 570.0,391.5 570.7,391.3 571.4,391.0 572.1,390.8 572.8,391.5 573.5,391.5 574.3,391.6 574.9,392.3 575.5,393.4 576.2,392.9 576.9,392.8 577.6,392.5 578.4,391.8 579.2,391.5 579.8,392.3 580.5,392.9 581.2,393.2 582.0,393.0 582.8,393.5 583.4,393.4 584.1,393.1 584.9,392.8 585.5,393.0 586.1,393.3 586.7,394.2 587.5,394.3 588.2,394.6 588.9,394.9 589.6,395.2 590.3,394.9 591.2,393.8 591.7,394.3 592.4,394.5 593.0,394.6 593.7,395.6 594.5,395.3 595.2,396.0 595.9,396.6 596.6,396.8 597.4,396.8 598.1,396.7 598.8,396.3 599.5,395.6 600.3,395.5 601.0,396.1 601.7,396.6 602.4,396.7 603.2,397.4 603.9,396.8 604.6,396.8 605.3,397.0 606.1,397.0 606.8,396.1 607.5,395.5 608.3,395.8 609.0,396.1 609.7,396.2 610.5,396.9 611.1,396.9 611.6,395.7 612.3,395.1 613.1,394.7 613.9,394.4 614.7,394.1 615.2,393.8 615.9,394.1 616.5,394.1 617.2,394.5 618.0,394.9 618.7,394.4 619.3,393.5 619.9,392.4 620.3,391.0 620.8,389.8 621.8,390.9 622.5,391.1 623.1,391.1 623.8,391.5 624.6,392.0 625.1,391.2 625.8,390.6 626.4,390.0 627.2,389.6 627.8,388.2 628.5,388.3 629.2,388.7 629.8,388.8 630.5,388.6 631.2,389.7 632.0,390.1 632.7,389.9 633.4,389.0 634.1,388.8 634.8,388.4 635.5,388.8 636.3,389.6 637.0,390.5 637.7,390.7 638.4,390.8 639.1,390.0 639.7,389.4 640.5,389.3 641.2,389.2 641.9,388.3 642.5,387.9 643.2,387.9 643.9,388.1 644.5,388.0 645.3,388.4 646.0,388.3 646.7,388.4 647.3,388.5 647.8,388.8 648.6,388.5 649.2,389.2 650.0,389.6 650.8,390.0 651.8,389.8 652.5,390.5 653.0,390.6 653.6,390.8 654.3,390.4 655.0,390.4 655.5,390.5 656.1,391.3"/>
<polyline fill="none" stroke="#0000ff" stroke-width="4.40" stroke-linejoin="round" stroke-linecap="round" points="134.2,134.9 134.9,135.6 135.6,136.5 136.2,137.4 137.0,137.5 137.7,138.6 138.4,138.4 139.1,138.5 139.8,138.6 140.6,138.1 141.4,137.9 142.2,137.6 143.3,137.8 143.7,138.8 144.4,139.4 144.8,140.4 145.1,140.7 145.8,140.6 145.9,141.1 146.5,141.1 147.2,141.1 147.8,141.9 148.8,142.5 149.3,143.6 149.7,144.7 150.4,145.5 151.1,144.9 151.9,145.2 152.6,144.4 153.3,143.5 154.0,142.8 154.8,143.6 155.5,144.7 156.2,145.5 156.9,145.2 157.6,145.0 158.4,143.6 159.1,143.4 160.0,143.3 161.0,143.1 161.3,143.6 161.6,144.9 162.0,146.2 162.8,146.4 163.7,146.6 164.4,147.1 165.0,147.2 165.6,147.1 166.2,147.0 166.6,147.3 167.2,147.3 167.7,148.0 168.5,148.4 168.9,149.5 169.7,149.9 170.6,149.8 171.5,149.3 172.1,149.2 172.7,149.3 173.3,149.5 173.7,149.9 174.5,150.6 175.0,151.6 175.8,152.1 176.7,152.3 177.3,153.3 178.2,152.4 178.8,152.5 179.3,152.6 180.0,152.4 180.8,151.6 181.6,151.8 182.4,151.9 183.0,152.7 183.5,154.0 184.3,154.2 185.1,153.5 185.8,153.3 186.5,153.1 187.3,152.6 188.0,152.4 188.6,153.1 189.2,154.3 189.7,155.5 190.3,156.6 191.1,157.0 191.8,156.8 192.6,156.1 193.4,155.8 194.3,155.9 195.2,156.0 195.7,155.5 196.2,155.0 196.9,155.1 197.6,155.6 198.3,156.1 198.5,156.7 198.9,157.0 199.5,157.0 200.2,156.9 200.5,157.4 201.3,158.0 202.0,158.7 202.8,159.3 203.4,160.1 204.6,160.3 205.1,160.5 205.5,160.7 205.9,160.9 206.2,161.5 206.9,161.3 207.5,161.9 208.3,162.3 209.1,162.5 209.8,162.9 210.4,163.5 211.1,163.4 211.7,163.3 212.2,163.5 212.5,164.1 212.9,164.6 213.8,164.7 214.7,165.0 215.3,165.7 216.1,166.2 216.9,166.4 217.3,166.9 218.0,166.7 218.6,166.6 219.2,166.8 220.0,166.4 220.7,166.8 221.4,167.3 221.8,168.4 222.3,169.5 223.0,169.9 223.7,169.6 224.4,169.4 225.2,169.1 225.7,169.2 226.6,168.5 227.5,168.8 227.9,170.3 228.2,172.0 228.8,172.9 229.7,173.1 230.6,172.3 231.4,171.4 232.1,171.1 232.7,171.2 233.3,171.1 234.2,171.3 234.9,171.9 235.6,172.4 236.1,173.6 236.6,174.9 237.1,175.3 238.1,174.5 238.9,174.1 239.6,173.7 240.2,173.9 240.8,174.9 241.5,175.7 242.3,175.8 243.2,175.9 244.0,176.1 244.5,176.7 245.1,176.8 245.8,176.9 246.4,177.2 247.1,177.0 247.8,177.5 248.5,177.8 249.3,177.9 249.9,178.8 250.6,179.1 251.4,178.8 252.1,178.8 252.7,178.9 253.3,178.9 254.0,178.9 254.7,179.4 255.5,179.7 256.3,179.9 256.8,180.9 257.4,181.7 258.2,181.4 259.0,181.4 259.6,181.5 260.4,181.4 261.0,181.7 261.6,182.4 262.0,183.5 262.9,183.8 263.8,183.9 264.6,184.3 265.0,184.8 265.2,185.4 265.7,185.7 266.6,185.0 267.1,185.1 267.7,186.2 268.7,186.3 269.7,186.4 270.4,187.1 271.3,187.5 272.0,187.1 272.6,187.1 272.8,187.9 273.6,187.3 274.1,187.4 274.8,188.1 275.4,188.9 276.0,189.9 276.9,189.9 277.8,190.1 278.7,189.9 279.0,190.7 279.4,191.3 279.7,191.9 280.3,192.2 281.2,192.6 281.5,194.0 282.4,194.3 283.3,194.8 283.8,195.8 284.9,195.1 285.6,194.9 286.1,194.8 286.6,194.9 287.3,194.9 288.1,195.3 288.8,196.3 289.4,197.4 290.2,197.8 290.9,198.2 291.9,197.5 292.7,197.0 293.1,197.4 293.7,197.4 294.3,197.3 295.1,197.9 295.9,198.4 296.6,199.0 296.9,200.6 297.3,201.9 297.8,202.0 298.5,201.7 299.4,201.0 300.0,200.7 300.7,200.5 301.4,201.1 302.1,201.8 302.8,202.6 303.4,203.5 304.0,204.6 304.8,204.0 305.7,203.4 306.5,203.1 307.0,203.1 307.7,202.9 308.0,204.2 308.5,205.3 309.0,206.2 309.4,207.3 310.0,208.1 310.8,207.7 311.6,207.3 312.3,207.2 312.8,207.4 313.4,207.4 313.9,208.4 314.3,209.4 314.5,210.7 315.6,210.8 316.4,211.2 317.0,211.3 317.4,211.8 318.3,211.5 318.8,211.8 319.6,211.6 320.6,211.7 321.3,212.3 321.8,213.1 322.2,213.8 322.7,214.7 323.0,215.2 323.6,215.3 324.2,215.2 325.0,215.1 325.7,214.9 326.4,215.5 326.8,216.6 327.3,217.7 327.8,218.8 328.5,219.2 329.5,218.6 330.2,218.4 330.7,218.7 331.5,218.5 332.2,218.3 332.6,219.4 333.1,220.3 333.8,220.9 334.1,222.1 334.6,223.0 335.2,223.0 336.1,222.5 337.0,221.9 337.9,221.5 338.3,221.9 338.7,223.0 339.1,224.0 340.0,224.0 340.8,224.5 341.6,224.8 342.4,224.6 342.6,225.3 343.0,225.7 343.7,225.7 344.4,225.7 345.2,226.1 345.3,227.6 345.7,228.6 346.3,229.3 347.0,229.9 347.4,230.3 348.2,230.0 349.0,229.7 349.5,229.9 350.4,229.5 350.6,230.7 351.1,231.7 351.7,232.3 352.6,232.6 353.3,233.2 354.1,232.8 354.7,232.8 355.2,232.9 356.0,232.5 356.5,232.7 357.0,233.7 357.4,234.8 358.1,235.4 359.0,235.5 359.8,235.9 360.2,236.4 360.7,236.9 361.3,237.1 362.2,236.6 363.2,236.2 363.9,236.9 364.3,237.8 364.5,239.1 364.6,240.5 365.3,241.2 366.4,240.6 366.9,240.7 367.4,240.9 368.1,240.8 369.2,240.2 369.5,241.5 369.6,243.0 369.7,244.3 370.8,244.6 371.6,245.2 372.2,245.2 372.8,245.3 373.5,245.2 374.3,245.1 374.8,245.1 375.3,245.9 375.6,246.8 376.0,247.6 376.9,247.9 377.5,248.6 377.8,249.0 378.3,249.2 378.9,249.3 379.1,249.7 379.2,250.4 379.2,251.6 380.4,251.7 381.1,252.3 381.8,252.9 382.3,253.7 383.0,253.7 383.3,254.1 383.7,254.3 384.1,254.5 384.4,255.0 385.0,255.8 385.3,256.9 385.4,258.2 385.8,259.1 386.4,260.1 386.9,260.3 387.3,260.6 387.7,260.9 387.3,261.6 388.2,261.6 388.9,262.5 389.5,263.4 389.9,264.4 390.0,265.5 390.3,266.5 390.6,266.9 390.5,267.5 391.2,267.7 391.6,268.0 392.3,268.2 393.1,268.8 392.9,270.0 393.5,270.8 393.7,271.8 393.9,272.7 394.2,273.1 394.2,273.6 394.0,274.2 393.9,274.7 393.8,275.2 393.9,276.2 395.0,276.8 395.9,277.6 395.4,278.7 395.5,279.7 395.4,280.1 395.9,280.4 396.2,280.7 396.1,281.2 396.8,281.4 396.5,282.5 396.1,283.7 396.3,284.6 396.3,285.7 396.5,286.7 397.2,286.9 398.0,287.2 397.8,287.7 398.0,288.1 398.0,288.6 397.7,289.8 398.1,290.8 398.1,291.9 398.5,292.9 398.7,293.9 399.0,294.1 399.6,294.2 400.1,294.3 400.7,294.5 401.2,294.6 400.6,295.9 400.8,297.0 400.8,298.1 401.0,299.1 401.5,300.1 402.1,300.3 402.2,300.6 402.2,300.9 402.1,301.3 401.6,301.8 401.7,302.9 401.6,304.0 401.6,305.0 402.0,306.0 402.3,307.0 403.1,307.3 403.7,307.6 404.3,307.9 403.7,308.5 403.3,309.1 403.2,310.1 403.4,311.0 403.5,312.0 403.5,313.0 403.9,313.9 404.3,314.1 404.6,314.4 404.7,314.7 405.5,314.9 406.5,315.0 406.0,316.3 405.3,317.7 404.7,319.0 405.3,320.1 406.2,321.1 406.7,321.4 406.0,321.8 405.7,322.2 405.6,322.6 405.1,323.0 405.3,324.0 405.7,325.1 405.8,326.1 405.5,327.3 406.1,328.3 405.9,328.6 406.0,328.9 406.5,329.1 407.4,329.3 408.0,329.5 408.6,330.6 408.1,331.8 407.5,333.1 407.4,334.3 407.8,335.4 408.0,335.6 408.9,335.7 408.6,336.0 408.7,336.2 409.1,336.4 409.1,337.5 409.6,338.5 409.6,339.6 409.6,340.8 409.5,341.9 409.1,342.4 409.9,342.6 410.6,342.9 411.1,343.2 411.0,343.6 410.0,344.8 409.8,345.9 410.0,346.9 410.0,347.9 409.9,349.0 410.2,349.3 410.6,349.6 410.9,349.9 410.4,350.4 410.4,350.8 410.5,351.9 411.0,353.0 411.9,354.0 411.8,355.2 411.1,356.4 410.7,356.6 410.6,356.8 411.0,356.8 412.1,356.8 412.9,356.7 412.4,358.2 412.0,359.6 412.1,360.9 412.5,362.1 412.7,363.4 412.2,363.8 413.0,364.0 414.0,364.0 414.8,364.2 413.9,364.7 413.8,365.8 413.0,367.0 413.5,367.8 414.3,368.6 415.1,369.4 414.8,369.8 414.3,370.4 413.8,370.9 414.3,371.2 414.9,371.6 415.6,372.5 416.1,373.3 416.5,374.2 416.7,375.4 417.5,375.9 417.9,376.1 418.1,376.6 419.1,376.2 420.1,375.8 420.7,375.9 420.8,377.2 421.2,378.2 422.2,378.7 422.7,379.6 423.3,380.5 424.1,380.2 424.4,380.6 424.7,380.9 424.8,381.5 425.6,381.3 427.0,381.3 428.0,381.7 428.6,382.8 429.1,383.9 429.6,385.0 429.4,385.9 429.7,386.2 430.1,386.4 430.9,386.3 431.7,385.8 432.3,386.8 433.0,387.5 433.8,387.9 434.3,389.2 434.9,390.2 435.6,389.9 436.3,389.4 437.0,388.9 437.8,388.5 438.6,387.8 439.2,388.6 439.9,389.5 440.6,390.8 441.4,391.2 442.1,391.2 442.9,390.1 443.5,390.5 444.3,389.8 444.9,389.9 445.7,389.1 446.5,388.6 447.2,389.0 447.9,389.4 448.6,389.8 449.3,390.7 450.0,390.7 450.7,390.6 451.4,390.5 452.1,390.4 452.8,389.8 453.6,390.3 454.3,390.5 455.0,390.8 455.7,390.8 456.4,392.1 457.2,391.7 457.9,391.0 458.6,390.4 459.3,390.1 460.0,389.8 460.7,389.9 461.4,390.0 462.1,390.0 462.8,390.5 463.6,390.7 464.3,389.9 465.0,389.7 465.7,389.2 466.4,388.6 467.1,388.4 467.8,389.0 468.6,390.3 469.3,390.7 470.0,390.5 470.7,390.2 471.4,390.6 472.1,389.6 472.8,389.0 473.6,388.7 474.3,388.4 475.0,389.6 475.7,389.3 476.4,389.1 477.1,389.4 477.8,390.0 478.6,389.6 479.3,389.4 480.0,389.2 480.7,388.5 481.4,387.6 482.1,388.0 482.8,388.5 483.5,388.7 484.3,390.1 485.0,390.8 485.7,390.8 486.4,390.4 487.1,389.4 487.8,388.6 488.6,388.3 489.3,388.4 489.9,388.3 490.7,389.4 491.5,390.3 492.2,391.1 492.9,390.7 493.6,390.2 494.3,389.2 495.0,388.3 495.7,388.1 496.3,387.5 497.1,388.6 497.9,389.5 498.6,389.9 499.3,389.9 500.0,389.6 500.8,389.3 501.5,388.8 502.2,388.3 502.9,387.7 503.6,388.3 504.3,389.0 505.1,389.5 505.8,389.9 506.5,389.8 507.2,388.7 507.9,388.0 508.6,386.8 509.3,386.5 510.1,386.2 510.9,386.8 511.7,388.2 512.4,388.1 513.1,388.3 513.8,388.5 514.6,388.0 515.3,387.8 516.0,387.2 516.8,386.3 517.5,385.7 518.3,386.2 519.0,386.8 519.7,387.5 520.4,388.4 521.1,389.2 521.8,389.5 522.5,389.3 523.3,388.3 524.1,387.3 524.8,387.2 525.5,387.8 526.3,388.2 527.0,388.8 527.7,389.5 528.3,390.4 529.0,390.1 529.6,389.9 530.3,389.6 530.9,389.9 531.7,389.2 532.5,389.2 533.3,389.2 533.9,390.4 534.5,391.3 535.1,392.0 535.8,391.7 536.5,391.3 537.1,391.2 537.9,390.3 538.7,389.4 539.5,389.8 540.1,390.2 540.7,391.1 541.4,391.9 542.1,392.6 542.8,392.3 543.5,392.4 544.2,391.6 544.9,390.8 545.6,389.8 546.3,390.5 547.0,391.4 547.7,392.4 548.4,392.3 549.1,392.0 549.8,391.0 550.5,391.2 551.2,391.5 551.9,391.7 552.6,390.7 553.3,390.5 554.0,390.6 554.7,391.3 555.5,391.7 556.2,391.8 556.9,391.9 557.6,392.1 558.3,392.2 559.0,392.0 559.7,391.9 560.4,392.6 561.2,392.7 561.9,393.3 562.6,393.5 563.4,393.6 564.0,394.1 564.8,393.3 565.6,392.5 566.3,392.1 567.0,391.8 567.6,393.1 568.3,394.1 568.9,395.0 569.7,394.8 570.6,394.6 571.4,393.7 572.0,393.8 572.7,393.7 573.4,393.7 574.1,393.2 574.9,393.2 575.8,393.0 576.4,394.2 577.0,395.5 577.8,396.5 578.4,395.4 579.0,394.0 579.7,393.8 580.4,393.1 581.0,392.5 581.8,393.0 582.5,393.8 583.3,394.4 584.0,394.8 584.7,395.2 585.5,395.5 586.2,394.7 586.8,394.0 587.5,393.5 588.2,392.7 588.8,393.0 589.5,392.8 590.2,393.0 590.9,393.6 591.6,393.7 592.3,393.5 593.0,393.3 593.7,392.9 594.4,392.4 595.1,392.0 595.8,392.3 596.5,392.4 597.2,392.5 597.8,392.4 598.5,392.4 599.3,392.2 600.0,392.2 600.7,392.8 601.4,391.8 602.1,391.1 602.9,391.3 603.6,391.2 604.3,391.9 605.0,391.9 605.7,392.5 606.4,392.7 607.2,392.7 607.9,392.4 608.6,392.1 609.3,391.7 610.0,392.1 610.7,392.3 611.4,392.0 612.1,391.7 612.8,391.7 613.5,391.0 614.3,390.7 615.0,390.6 615.7,390.6 616.4,389.8 617.1,390.6 617.9,391.6 618.6,391.8 619.3,391.5 620.0,391.2 620.7,391.0 621.4,390.9 622.1,390.3 622.9,390.9 623.6,390.8 624.3,391.3 625.0,391.2 625.7,390.6 626.4,390.3 627.1,391.5 627.9,392.4 628.6,392.6 629.3,391.8 630.0,390.9 630.7,390.0 631.4,390.6 632.1,390.6 632.8,390.8 633.6,391.2 634.3,391.7 635.0,391.6 635.7,390.9 636.4,390.3 637.1,389.7 637.8,389.7 638.6,390.6 639.3,391.7 640.0,392.0 640.7,392.2 641.4,391.8 642.1,391.8 642.8,391.7 643.6,391.4 644.3,391.5 645.0,391.2 645.7,391.5 646.4,391.2 647.2,391.6 647.9,391.4 648.6,392.6 649.3,392.8 649.9,392.4 650.5,392.2 651.0,392.4 651.6,392.5 652.5,392.7 653.5,392.6 654.3,393.0 654.9,393.9 655.5,394.8 655.9,395.0"/>
<line x1="545.5" y1="49.5" x2="545.5" y2="228.8" stroke="#3c3c3c" stroke-width="1.40" />
<line x1="446.5" y1="139.2" x2="644.5" y2="139.2" stroke="#3c3c3c" stroke-width="1.40" />
<line x1="471.2" y1="228.8" x2="471.2" y2="223.3" stroke="#3c3c3c" stroke-width="1.40" />
<line x1="496.0" y1="228.8" x2="496.0" y2="223.3" stroke="#3c3c3c" stroke-width="1.40" />
<line x1="520.8" y1="228.8" x2="520.8" y2="223.3" stroke="#3c3c3c" stroke-width="1.40" />
<line x1="545.5" y1="228.8" x2="545.5" y2="223.3" stroke="#3c3c3c" stroke-width="1.40" />
<line x1="570.2" y1="228.8" x2="570.2" y2="223.3" stroke="#3c3c3c" stroke-width="1.40" />
<line x1="595.0" y1="228.8" x2="595.0" y2="223.3" stroke="#3c3c3c" stroke-width="1.40" />
<line x1="619.8" y1="228.8" x2="619.8" y2="223.3" stroke="#3c3c3c" stroke-width="1.40" />
<line x1="446.5" y1="79.4" x2="458.5" y2="79.4" stroke="#3c3c3c" stroke-width="1.40" />
<line x1="446.5" y1="109.3" x2="452.0" y2="109.3" stroke="#3c3c3c" stroke-width="1.40" />
<line x1="446.5" y1="169.0" x2="452.0" y2="169.0" stroke="#3c3c3c" stroke-width="1.40" />
<line x1="446.5" y1="198.9" x2="458.5" y2="198.9" stroke="#3c3c3c" stroke-width="1.40" />
<polyline fill="none" stroke="#ff0000" stroke-width="4.30" stroke-linejoin="round" stroke-linecap="round" points="644.0,72.8 643.0,72.2 642.0,71.7 641.0,71.3 640.0,71.0 639.0,71.0 638.0,71.4 637.0,71.5 636.0,71.2 635.0,71.4 634.0,71.8 633.0,72.0 632.0,72.1 631.0,72.7 630.0,73.1 629.0,72.8 628.0,72.2 627.0,71.4 626.0,71.8 625.0,72.0 624.0,71.8 623.0,71.3 622.0,71.5 621.0,72.0 620.0,72.2 619.0,72.3 618.0,73.1 617.0,72.9 616.0,72.9 615.0,73.0 614.0,73.2 613.0,73.6 612.0,74.0 611.0,74.1 610.0,74.0 609.0,73.7 608.0,73.3 607.0,73.2 606.0,73.1 605.0,73.2 604.0,73.2 603.0,72.7 602.0,72.4 601.0,73.1 600.0,73.3 599.0,74.2 598.0,74.4 597.0,73.6 596.0,72.5 595.0,72.0 594.0,72.4 593.0,72.8 592.0,73.5 591.0,73.9 590.0,73.9 589.0,73.7 588.0,73.6 587.0,74.2 586.0,74.3 585.0,74.5 584.0,74.3 583.0,73.2 582.0,73.1 581.0,72.3 580.0,72.0 579.0,72.0 578.0,73.0 577.0,73.0 576.0,72.6 575.0,72.4 574.0,72.2 573.0,72.5 572.0,73.0 571.0,73.4 570.0,73.6 569.0,73.6 568.0,73.9 567.0,74.6 566.0,75.1 565.0,74.9 564.0,74.7 563.0,74.6 562.0,74.5 561.0,74.0 560.0,74.0 559.0,74.1 558.0,73.9 557.0,74.4 556.0,74.7 555.0,74.0 554.0,73.2 553.0,72.8 552.0,73.1 551.0,73.7 550.0,74.3 549.1,74.7 548.1,75.0 547.1,75.1 546.1,75.2 545.0,74.6 544.0,74.4 543.0,74.4 542.0,74.4 541.0,74.5 540.0,75.0 539.1,75.7 538.0,75.3 537.0,75.1 536.0,75.2 534.9,74.8 534.0,75.5 533.0,75.8 532.0,75.9 531.0,76.5 530.0,76.1 529.0,76.1 527.9,76.3 526.9,76.1 525.9,76.6 524.8,77.0 523.8,77.0 522.7,76.6 521.7,76.6 520.7,76.2 519.6,76.5 519.0,77.0 518.6,77.7 517.9,78.5 517.2,79.3 516.6,80.2 516.3,81.4 514.8,81.6 513.6,82.0 512.4,82.4 511.9,83.4 511.5,84.4 511.5,85.8 511.4,86.7 510.4,87.5 509.8,88.4 509.1,89.2 509.4,90.4 509.5,91.5 508.9,92.4 508.4,93.3 507.8,94.1 507.3,95.0 506.4,95.8 505.5,96.6 505.7,97.7 505.8,98.8 505.5,99.8 505.3,100.8 504.5,101.6 504.0,102.5 503.7,103.6 503.6,104.6 503.1,105.6 503.1,106.7 502.9,107.7 502.2,108.6 502.1,109.7 501.6,110.6 501.2,111.6 500.8,112.6 500.6,113.6 500.8,114.8 501.1,115.9 501.3,117.1 500.4,117.9 500.0,118.8 499.2,119.7 498.4,120.5 497.8,121.4 497.3,122.3 497.0,123.3 497.3,124.5 497.6,125.6 497.7,126.7 497.2,127.7 496.3,128.5 495.4,129.4 494.3,130.2 494.9,131.4 494.7,132.5 494.3,133.5 494.2,134.6 494.1,135.6 494.1,136.7 494.2,137.8 494.1,138.9 494.0,139.9 493.8,140.9 493.5,141.9 493.3,142.8 492.8,143.8 492.7,144.8 492.6,145.8 492.6,146.8 492.7,147.9 491.7,148.7 491.3,149.6 490.8,150.6 489.9,151.4 490.0,152.5 490.1,153.5 490.3,154.6 490.7,155.7 491.6,156.9 491.4,157.9 491.3,158.9 491.0,159.9 490.7,160.9 490.6,161.9 489.9,162.8 489.2,163.7 488.8,164.6 487.9,165.4 486.9,166.2 486.4,167.2 486.1,168.1 486.2,169.2 486.6,170.4 486.3,171.3 486.1,172.3 486.1,173.4 486.3,174.5 486.0,175.5 485.5,176.4 484.9,177.3 484.5,178.3 484.5,179.4 483.9,180.3 483.2,181.1 483.3,182.2 483.2,183.3 482.9,184.3 482.9,185.4 483.5,186.6 482.5,187.4 482.2,188.4 481.6,189.3 480.8,190.0 480.5,191.0 480.0,191.8 479.2,192.5 478.4,193.2 478.2,194.3 477.6,195.1 477.1,196.0 476.8,197.0 476.8,198.2 476.5,199.4 475.4,200.2 474.5,200.9 473.7,201.8 472.8,202.6 471.4,202.9 470.2,203.0 469.2,203.3 468.1,202.2 467.1,201.7 466.1,201.5 465.1,201.9 464.1,202.9 463.1,202.9 462.1,203.6 461.0,203.4 460.0,202.9 459.0,202.6 458.0,203.0 457.0,203.5 456.0,203.7 455.0,203.5 454.0,204.0 453.0,204.1 452.0,204.1 451.0,204.1 450.0,203.7 449.0,204.0 448.0,204.4 447.0,203.9"/>
<polyline fill="none" stroke="#ff0000" stroke-width="4.30" stroke-linejoin="round" stroke-linecap="round" points="447.0,209.1 448.0,208.6 449.0,207.7 450.0,207.0 451.0,206.9 452.0,206.5 453.0,206.4 454.0,206.3 455.0,207.2 456.0,208.2 457.0,208.8 458.0,208.6 459.0,207.9 460.0,207.5 460.9,206.8 461.9,206.4 462.9,206.3 463.9,206.5 465.0,206.6 466.0,206.8 467.0,207.1 468.1,207.5 469.0,206.4 470.0,206.4 471.0,206.3 472.0,206.3 473.0,206.4 474.0,206.7 475.0,207.3 476.0,207.0 477.0,206.2 478.0,205.6 479.0,205.4 480.0,206.2 481.0,207.2 482.0,207.2 483.0,206.4 484.0,205.9 485.0,205.5 486.0,205.3 487.0,206.1 488.0,206.0 489.0,205.8 490.0,206.1 491.0,206.1 492.0,206.6 493.0,206.6 494.0,206.2 495.0,206.1 496.0,206.3 497.0,206.6 498.0,206.9 499.0,206.9 500.0,206.2 501.0,206.0 502.0,206.2 503.0,206.3 504.0,205.1 505.0,204.6 506.0,204.3 507.0,204.5 508.0,205.0 509.0,205.9 510.0,206.7 511.0,206.4 512.0,205.9 513.0,205.5 514.0,205.2 515.0,205.0 516.0,204.8 517.0,204.4 518.0,204.7 519.0,204.6 520.0,204.3 521.0,205.1 522.0,205.5 523.0,205.5 524.0,205.8 525.0,205.9 526.0,205.8 527.0,205.3 528.0,205.2 529.0,205.7 530.0,205.6 531.0,206.3 532.0,206.1 533.0,205.5 534.0,206.0 535.0,206.3 536.0,206.5 537.0,206.3 538.0,205.9 539.0,205.9 540.0,205.4 541.0,204.9 542.1,204.9 543.2,205.3 544.2,205.4 545.2,205.0 546.2,204.3 547.2,204.5 548.3,204.5 549.3,204.1 550.3,203.6 551.3,203.8 552.3,203.5 553.4,203.7 554.4,204.0 555.5,204.5 556.5,205.0 557.6,204.3 558.7,203.6 559.8,202.9 560.8,203.4 561.9,203.7 562.9,204.4 563.9,205.0 565.0,204.8 566.1,205.2 567.1,205.5 568.3,205.4 569.6,205.0 570.6,203.9 571.7,203.4 572.9,203.1 574.0,202.9 574.1,201.8 574.7,201.0 575.7,200.3 576.7,199.7 577.0,198.7 577.3,197.7 577.7,196.7 578.1,195.8 578.5,194.9 578.6,193.7 578.9,192.7 579.5,191.9 580.0,191.0 579.6,189.8 580.1,188.9 581.1,188.2 582.0,187.5 582.5,186.6 582.8,185.6 582.9,184.6 582.9,183.5 582.4,182.2 584.2,181.8 585.2,181.1 586.1,180.4 586.8,179.6 586.9,178.5 586.4,177.3 586.3,176.1 586.7,175.2 587.2,174.3 587.7,173.4 588.3,172.5 588.7,171.5 588.8,170.4 588.6,169.3 589.1,168.3 589.7,167.4 590.2,166.5 590.3,165.4 591.2,164.6 591.8,163.7 592.2,162.7 591.9,161.5 591.8,160.4 591.6,159.3 591.6,158.2 591.8,157.2 591.8,156.1 592.0,155.1 592.4,154.1 592.8,153.1 593.0,152.1 593.9,151.3 593.9,150.2 593.5,149.0 593.3,147.9 594.0,147.0 594.4,146.0 594.9,145.1 595.4,144.2 595.5,143.1 595.6,142.1 595.9,141.1 596.2,140.1 596.3,139.0 596.4,138.0 596.9,137.1 597.5,136.1 597.5,135.1 598.1,134.1 598.5,133.2 598.8,132.2 599.0,131.1 598.5,130.0 598.0,128.9 598.0,127.9 598.4,126.9 598.9,125.9 599.4,125.0 600.1,124.0 600.3,123.0 600.1,122.0 599.8,120.9 599.4,119.8 599.5,118.8 599.7,117.8 600.7,116.9 600.9,115.9 600.7,114.9 600.4,113.8 600.8,112.8 601.6,111.9 602.1,111.0 602.4,110.0 602.3,108.9 602.7,108.0 603.0,107.0 603.4,106.0 603.6,105.1 603.3,103.9 603.1,102.8 603.2,101.7 603.5,100.6 603.2,99.4 603.8,98.5 604.2,97.5 604.3,96.4 604.3,95.2 604.5,94.1 605.5,93.3 606.4,92.6 607.3,91.8 607.4,90.6 607.6,89.4 607.8,88.3 608.4,87.4 609.5,86.8 609.9,85.7 610.6,84.9 611.2,84.0 611.9,83.2 612.6,82.4 613.0,81.3 613.7,80.5 614.9,80.3 615.4,79.3 616.0,78.4 616.8,77.4 617.9,77.1 619.0,77.2 620.0,77.0 620.9,76.4 621.7,75.6 622.8,75.3 624.0,75.3 625.0,74.9 626.0,74.9 627.0,75.5 628.0,76.3 629.0,76.5 630.0,76.6 631.0,76.9 632.0,76.5 633.0,77.0 634.0,77.0 635.0,76.7 636.0,76.1 637.0,76.0 638.0,75.9 639.0,75.6 640.0,75.5 641.0,75.9 642.0,76.0 643.0,76.3 644.0,76.1"/>
<polyline fill="none" stroke="#0000ff" stroke-width="4.30" stroke-linejoin="round" stroke-linecap="round" points="644.0,85.4 643.0,85.7 642.0,85.3 641.0,84.9 640.0,85.0 639.0,85.7 638.0,86.0 637.0,85.9 636.0,86.3 635.0,87.2 634.0,87.6 633.0,87.4 632.0,87.1 631.0,87.2 630.0,86.7 629.0,86.5 628.0,86.5 627.0,87.0 626.0,87.2 625.0,86.7 624.0,86.4 623.0,86.4 622.0,86.6 621.0,87.1 620.0,87.6 619.0,87.9 618.0,87.6 617.0,87.4 616.0,87.5 615.0,87.5 614.0,87.7 613.0,87.5 612.0,87.4 611.0,87.3 610.0,87.3 609.0,87.6 608.0,87.5 607.0,87.2 606.0,87.1 605.0,87.8 604.0,87.6 603.0,88.0 602.0,88.4 601.0,88.2 600.0,87.9 599.0,88.2 598.0,87.9 597.0,87.1 596.0,87.5 595.0,86.7 594.0,86.8 593.0,87.1 592.0,87.6 591.0,87.4 590.0,87.3 589.0,87.3 588.0,87.2 587.0,86.8 586.0,87.1 585.0,87.1 584.0,86.8 583.0,86.7 582.0,87.5 581.0,87.6 580.0,87.6 579.0,88.4 578.0,88.2 577.0,88.3 576.0,87.9 575.0,87.1 574.0,86.6 573.0,87.0 572.0,87.1 571.0,86.8 570.0,87.0 569.0,86.9 568.0,86.8 567.0,86.9 566.0,86.9 565.0,87.0 564.0,87.1 563.0,86.9 562.0,86.3 561.0,86.8 560.0,86.1 559.0,86.2 558.0,86.7 557.0,87.5 556.0,87.4 555.0,87.1 554.0,86.9 553.0,86.7 552.0,87.3 551.0,87.6 550.0,87.9 549.0,88.0 548.0,87.9 547.0,87.3 546.0,87.1 545.0,87.5 544.0,87.4 543.0,87.3 542.0,87.2 541.0,87.3 540.0,87.9 539.0,88.1 538.0,88.5 537.0,88.8 536.0,89.0 535.0,89.1 534.0,88.8 533.0,88.4 532.0,88.0 531.0,87.3 530.0,87.4 529.0,87.6 528.0,87.8 527.0,87.6 526.0,88.1 525.0,88.0 524.0,88.0 523.0,88.3 522.0,88.0 521.0,88.4 520.0,88.4 518.7,88.1 518.3,89.4 517.6,90.3 517.2,91.4 517.3,92.8 517.3,94.1 516.2,94.6 516.2,95.5 516.3,96.6 515.9,97.5 515.8,98.5 515.1,99.4 514.7,100.4 514.6,101.4 513.5,102.2 513.1,103.2 513.4,104.2 513.6,105.3 514.2,106.4 514.5,107.5 513.9,108.5 513.5,109.6 513.6,110.7 513.9,111.8 513.3,112.8 512.8,113.8 512.9,114.9 513.4,116.0 513.5,117.1 513.1,118.1 512.5,119.1 512.6,120.2 511.8,121.2 511.5,122.2 511.3,123.2 510.9,124.2 510.7,125.3 510.4,126.3 510.0,127.3 509.8,128.4 510.0,129.4 510.4,130.5 510.8,131.6 511.4,132.6 511.5,133.7 511.4,134.7 510.9,135.8 510.7,136.8 511.2,137.9 511.0,138.9 511.1,139.9 511.0,141.0 510.8,142.0 510.9,143.0 510.4,144.1 510.2,145.1 510.1,146.1 509.8,147.2 509.7,148.2 509.8,149.2 509.8,150.3 509.9,151.3 510.7,152.4 510.6,153.4 510.5,154.4 510.6,155.5 510.7,156.5 511.5,157.5 511.5,158.6 510.7,159.6 509.7,160.6 509.0,161.6 509.4,162.7 509.7,163.8 509.3,164.8 508.8,165.8 508.5,166.8 508.4,167.9 508.4,168.9 509.0,170.1 509.2,171.1 509.6,172.3 509.7,173.3 509.1,174.3 508.7,175.3 508.0,176.3 507.5,177.2 507.1,178.0 506.6,178.9 506.3,179.9 506.1,181.0 505.8,182.0 505.3,182.9 505.0,183.6 504.1,183.7 503.0,183.7 501.9,183.5 501.0,184.5 500.0,185.1 499.1,185.8 498.0,185.8 496.8,185.7 495.7,185.7 494.8,186.3 494.1,187.2 493.4,188.0 492.3,188.6 491.3,188.5 490.2,188.5 489.2,188.4 488.1,188.8 487.1,188.7 486.1,188.7 485.0,189.4 484.0,188.8 483.0,188.5 482.0,188.1 481.0,187.9 480.0,187.7 479.0,187.3 478.0,187.3 477.0,187.3 476.0,187.1 475.0,187.0 474.0,187.3 473.0,187.7 472.0,187.9 471.0,187.6 470.0,187.9 469.0,187.8 468.0,187.3 467.0,187.5 466.0,187.8 465.0,188.3 464.0,188.9 463.0,188.6 462.0,187.9 461.0,187.6 460.0,187.6 459.0,187.4 458.0,187.8 457.0,187.9 456.0,188.0 455.0,188.2 454.0,188.6 453.0,188.6 452.0,188.3 451.0,188.0 450.0,187.4 449.0,187.3 448.0,188.0 447.0,188.9"/>
<polyline fill="none" stroke="#0000ff" stroke-width="4.30" stroke-linejoin="round" stroke-linecap="round" points="447.0,193.2 448.0,193.1 449.0,193.1 450.0,193.2 451.0,192.8 452.0,192.3 453.0,191.7 454.0,191.2 455.0,191.8 456.0,192.4 457.0,193.1 458.0,193.4 459.0,193.1 460.0,192.5 461.0,191.7 462.0,191.6 463.0,191.7 464.0,192.3 465.0,192.5 466.0,192.3 467.0,191.8 468.0,191.2 469.0,191.9 470.0,192.6 471.0,192.8 472.0,192.5 473.0,192.1 474.0,191.9 475.0,191.3 476.0,191.6 477.0,192.3 478.0,192.4 479.0,192.2 480.0,192.2 481.0,192.5 482.0,192.1 483.0,192.7 484.0,193.0 485.0,192.9 486.0,192.5 487.0,192.6 488.0,192.0 489.0,191.4 490.0,191.9 491.0,191.9 492.0,192.1 493.0,192.5 494.0,193.0 495.0,192.4 496.0,193.1 497.0,192.5 498.0,191.7 499.0,191.1 500.0,190.3 501.0,191.0 502.0,191.7 503.0,191.8 504.0,191.5 505.0,191.7 506.0,192.0 507.0,192.1 508.0,192.3 509.0,191.8 510.0,191.8 511.0,192.0 512.0,191.4 513.0,191.4 514.0,191.0 515.0,190.8 516.0,191.0 517.0,190.7 518.0,191.2 519.0,191.7 520.0,192.1 521.0,192.5 522.0,191.8 523.0,191.1 524.0,190.3 525.0,190.3 526.0,190.7 527.0,191.1 528.0,191.3 529.0,191.4 530.0,192.2 531.0,191.9 532.0,191.4 533.0,191.2 534.0,190.1 535.0,190.2 536.0,190.2 537.0,190.1 538.0,190.3 539.0,190.7 540.0,190.7 541.0,190.8 542.0,191.0 543.0,190.6 544.0,190.7 545.0,190.7 546.0,190.5 547.1,190.5 548.1,191.1 549.2,191.3 550.2,191.4 551.3,191.8 552.3,192.1 553.4,192.4 554.4,192.6 555.5,192.6 556.6,191.9 557.6,191.3 558.7,190.9 559.8,190.7 560.8,191.8 562.1,191.8 563.1,191.6 564.1,190.9 565.0,190.0 565.9,189.2 566.8,188.6 567.9,188.5 568.8,188.1 569.6,187.2 570.7,186.8 571.8,186.7 573.0,186.6 574.8,186.9 575.2,185.5 575.8,184.5 576.4,183.5 576.3,182.3 577.0,181.3 577.5,180.3 578.1,179.2 578.6,178.0 578.4,177.0 578.4,176.0 578.7,175.0 579.2,174.0 579.3,173.0 579.0,171.9 578.4,170.8 577.9,169.7 577.4,168.6 577.8,167.7 578.6,166.7 579.2,165.8 579.2,164.7 579.5,163.7 579.9,162.8 580.0,161.7 579.6,160.7 579.0,159.6 578.8,158.6 578.6,157.5 579.2,156.5 579.5,155.5 579.3,154.5 579.5,153.5 579.6,152.5 579.4,151.4 579.0,150.4 578.8,149.3 578.7,148.3 578.7,147.3 579.4,146.3 579.7,145.3 579.7,144.3 579.7,143.2 579.8,142.2 580.0,141.2 580.7,140.2 581.3,139.2 581.6,138.2 581.5,137.2 581.8,136.2 581.3,135.1 580.7,134.1 579.6,133.0 579.8,132.0 580.2,131.0 580.6,130.0 581.3,129.0 581.1,127.9 581.7,126.9 582.2,125.9 581.8,124.9 582.1,123.8 582.3,122.8 581.9,121.8 581.3,120.7 581.5,119.7 581.0,118.6 580.9,117.6 581.1,116.5 580.9,115.5 581.1,114.5 581.3,113.4 581.5,112.4 582.2,111.4 582.1,110.4 581.9,109.3 581.6,108.2 581.1,107.1 581.3,106.1 582.2,105.2 582.6,104.2 582.7,103.1 583.3,102.2 583.1,101.1 583.4,100.1 583.7,99.1 583.8,98.0 583.9,97.0 583.7,95.8 584.7,95.2 585.9,94.9 587.2,94.7 588.4,94.3 589.1,93.3 589.9,92.4 590.9,92.3 591.9,92.0 592.8,91.5 593.8,91.3 594.9,91.7 596.0,91.7 597.1,91.9 598.1,91.9 599.1,91.5 600.1,90.9 601.0,90.0 602.1,89.9 603.2,89.9 604.2,89.7 605.3,89.9 606.4,89.8 607.4,89.8 608.5,90.3 609.5,90.6 610.5,90.5 611.6,90.3 612.6,90.4 613.7,90.8 614.7,91.2 615.8,91.6 616.8,91.3 617.9,90.9 619.0,90.4 620.0,90.3 621.0,90.4 622.0,90.2 623.0,89.9 624.0,89.7 625.0,89.8 626.0,89.9 627.0,89.9 628.0,90.1 629.0,90.1 630.0,90.1 631.0,90.0 632.0,90.4 633.0,90.3 634.0,90.1 635.0,90.1 636.0,90.9 637.0,90.6 638.0,90.8 639.0,91.5 640.0,91.5 641.0,91.6 642.0,91.1 643.0,90.3 644.0,89.2"/>
<rect x="446.5" y="49.5" width="198.0" height="179.3" fill="none" stroke="#3c3c3c" stroke-width="1.40"/>
<rect x="547" y="40" width="71" height="14" fill="#fff"/>
<text x="548.72" y="63.80" font-size="23.50" fill="#dc0c16" textLength="67.00" lengthAdjust="spacingAndGlyphs">+2.0 V</text>
<rect x="513.5" y="127" width="64" height="27.5" fill="#fff"/>
<text x="513.85" y="149.00" font-size="23.50" fill="#1a0cd2" textLength="59.87" lengthAdjust="spacingAndGlyphs">-2.0 V</text>
<text x="453.91" y="78.80" font-size="25.50" fill="#000" textLength="52.15" lengthAdjust="spacingAndGlyphs">10 K</text>
<text x="435.3" y="85.9" font-size="25.5" text-anchor="end" fill="#000" >0.2</text>
<text x="435.3" y="145.9" font-size="25.5" text-anchor="end" fill="#000" >0.0</text>
<text x="435.3" y="205.9" font-size="25.5" text-anchor="end" fill="#000" >-0.2</text>
<text x="440.5" y="260.0" font-size="25.5" text-anchor="middle" fill="#000" >-0.5</text>
<text x="539.6" y="260.0" font-size="25.5" text-anchor="middle" fill="#000" >0.0</text>
<text x="638.5" y="260.0" font-size="25.5" text-anchor="middle" fill="#000" >0.5</text>
<text transform="translate(386.40,190.24) rotate(-90)" font-size="29.00" fill="#000" font-style="italic" textLength="23.93" lengthAdjust="spacingAndGlyphs">R</text>
<text transform="translate(392.50,170.49) rotate(-90)" font-size="21.00" fill="#000" textLength="39.38" lengthAdjust="spacingAndGlyphs">Hall</text>
<text transform="translate(386.40,122.84) rotate(-90)" font-size="28.00" fill="#000" textLength="37.35" lengthAdjust="spacingAndGlyphs">(Ω)</text>
<text x="488.89" y="292.00" font-size="28.00" fill="#000" font-style="italic" textLength="13.62" lengthAdjust="spacingAndGlyphs">μ</text>
<text x="502.01" y="296.40" font-size="21.00" fill="#000" textLength="11.57" lengthAdjust="spacingAndGlyphs">0</text>
<text x="515.51" y="292.00" font-size="28.00" fill="#000" font-style="italic" textLength="18.01" lengthAdjust="spacingAndGlyphs">H</text>
<path d="M541.8 283.6 V297 M535.2 297 H548" stroke="#222" stroke-width="1.5" fill="none"/>
<text x="557.28" y="292.00" font-size="28.00" fill="#000" textLength="32.73" lengthAdjust="spacingAndGlyphs">(T)</text>
<polyline fill="none" stroke="#ff8000" stroke-width="4.40" stroke-linejoin="round" stroke-linecap="round" points="134.2,585.2 134.2,585.6 134.4,586.0 134.5,586.4 134.4,584.9 134.6,583.4 135.0,581.9 135.3,582.6 135.3,583.2 135.3,583.8 135.1,582.4 134.9,581.1 134.8,579.7 135.1,579.8 134.8,579.7 135.0,579.8 135.1,578.5 135.0,577.3 135.4,576.1 135.5,576.5 135.6,576.8 135.9,577.2 135.7,575.8 135.8,574.5 135.5,573.1 135.5,573.4 136.0,573.8 136.5,574.1 136.5,572.8 136.3,571.5 136.1,570.2 136.2,570.6 136.0,570.9 135.7,571.3 135.9,569.8 136.1,568.4 136.3,566.9 136.4,567.2 136.5,567.5 136.6,567.8 136.6,566.7 136.7,566.3 136.9,566.0 136.8,567.4 136.5,568.8 136.6,570.1 137.1,569.7 137.3,569.4 137.7,569.0 138.1,570.3 138.2,571.6 138.3,573.0 138.1,572.9 137.8,572.7 137.5,572.6 137.7,574.0 138.0,575.4 138.2,576.7 138.4,576.6 138.6,576.4 138.8,576.2 138.7,577.4 138.7,578.6 138.6,579.8 138.5,579.3 138.8,578.8 138.6,578.4 138.3,580.0 138.1,581.6 137.7,583.2 138.3,582.6 138.5,582.1 138.9,581.5 139.1,582.9 139.2,584.3 138.9,585.7 138.7,585.6 138.6,585.5 138.8,585.4 138.7,586.3 138.6,587.3 138.7,588.2 138.8,588.3 138.4,588.3 138.2,588.4 138.2,589.5 138.2,590.7 138.3,591.8 138.6,591.5 139.0,591.2 139.3,590.9 139.1,592.3 139.5,593.6 139.6,595.0 139.3,594.7 138.8,594.4 138.7,594.1 139.1,595.7 139.9,595.6 140.3,595.9 140.1,594.5 139.7,593.1 139.6,591.7 140.2,592.1 140.7,592.5 141.0,592.8 141.1,591.6 141.3,590.4 141.6,589.3 141.7,589.6 141.7,589.9 141.9,590.2 142.0,588.8 141.7,587.3 141.8,585.8 142.3,586.3 142.6,586.9 142.4,587.9 142.6,587.5 142.6,587.3 142.6,587.0 142.9,588.3 143.4,589.7 143.7,591.0 143.7,591.0 143.8,590.9 143.7,590.8 143.6,592.0 143.7,593.1 144.0,594.2 144.3,593.9 144.5,593.7 144.7,593.4 144.8,594.7 144.8,595.9 144.6,597.2 144.7,596.9 144.9,596.5 144.9,595.9 145.1,596.4 145.5,596.8 146.1,597.4 146.7,596.8 147.2,596.0 147.6,595.1 148.1,595.6 147.9,596.7 147.8,597.9 148.0,597.5 148.1,597.1 148.3,596.7 148.5,598.0 148.8,599.2 148.8,600.5 149.0,600.3 149.1,600.1 149.0,599.9 149.6,601.0 150.0,602.2 150.2,603.4 150.5,603.0 150.9,602.6 151.1,602.2 151.2,603.4 151.3,604.6 151.5,605.8 151.4,605.6 151.4,604.5 151.5,603.4 151.7,603.8 151.8,604.2 151.8,604.5 151.9,603.3 152.0,602.0 152.0,600.8 151.9,600.9 151.8,601.0 151.6,601.1 152.1,599.7 152.1,598.3 152.3,596.9 152.6,597.3 152.6,597.7 153.0,598.2 153.1,597.0 153.2,595.9 153.3,594.8 153.1,594.9 153.2,595.0 153.3,595.2 153.1,594.1 152.8,593.0 152.7,591.8 152.9,592.1 153.1,592.3 153.3,592.6 153.9,591.1 154.2,589.7 154.4,588.2 154.4,588.8 154.2,589.4 154.2,590.0 154.4,588.7 154.6,587.3 154.8,585.9 154.7,586.0 154.5,586.0 154.2,586.0 154.1,585.0 154.4,584.0 154.7,583.1 154.8,583.3 154.7,584.3 154.6,585.4 155.0,585.3 155.2,585.2 155.3,585.1 155.2,586.3 155.0,587.6 154.8,588.8 155.1,588.5 155.6,588.2 155.6,587.9 155.9,589.2 156.2,590.5 156.4,591.8 156.4,591.5 156.4,591.3 156.5,591.0 156.2,592.2 156.0,593.5 155.7,594.7 156.2,594.1 156.7,593.6 157.2,593.1 157.1,594.3 157.2,595.6 157.3,596.8 157.2,596.8 157.1,596.8 157.0,596.8 157.3,597.3 157.7,597.7 157.8,598.0 157.9,596.8 158.2,595.5 158.5,594.4 158.6,594.5 158.5,594.6 158.6,594.8 158.9,593.4 158.9,591.8 159.2,590.4 159.7,591.0 160.0,591.5 160.2,592.0 160.2,590.4 160.0,588.7 160.3,586.9 160.6,588.4 160.5,589.8 160.7,591.0 160.9,590.9 160.9,590.8 160.9,590.8 161.1,592.1 161.0,593.4 161.0,594.7 161.5,594.4 161.8,594.1 162.3,593.7 162.3,594.9 162.3,596.1 162.6,597.3 162.7,597.1 162.6,596.9 162.6,596.8 162.6,598.2 162.4,599.7 162.4,601.2 162.6,600.6 162.8,600.0 162.8,599.4 162.8,600.9 162.6,602.6 162.5,604.2 162.8,603.6 163.1,603.0 163.3,602.4 163.7,604.1 163.8,604.5 163.7,605.1 163.9,603.8 164.1,602.5 164.2,601.2 164.4,601.5 164.5,601.8 164.7,602.1 164.6,600.6 164.6,599.2 164.2,597.7 164.0,597.9 163.9,598.0 164.1,598.3 164.2,596.9 164.4,595.6 164.8,594.3 164.9,594.7 164.9,595.2 164.8,595.7 164.6,594.1 164.6,592.5 165.0,591.0 164.6,591.6 164.7,592.3 164.7,592.9 164.6,591.3 164.7,589.7 165.1,588.2 165.6,588.4 165.9,588.7 166.2,588.9 165.8,587.6 165.5,586.4 165.9,584.6 166.4,586.5 166.1,587.9 166.0,589.2 166.3,588.8 166.4,588.4 166.6,588.0 166.9,589.4 167.1,590.7 167.1,592.1 167.0,592.0 166.7,591.9 166.5,591.7 166.8,592.9 166.8,594.0 167.4,595.1 167.4,594.8 167.5,594.6 167.8,594.2 167.7,595.7 167.6,597.2 167.6,598.7 167.6,598.1 167.6,597.6 167.7,597.0 167.9,598.3 168.0,599.6 168.3,600.9 168.2,600.9 168.1,600.9 167.9,600.9 168.0,602.0 168.3,603.1 168.7,604.2 168.8,604.2 168.7,604.2 168.6,604.1 168.7,605.1 168.7,606.1 168.7,607.0 169.2,607.1 169.4,605.9 169.4,604.9 169.5,604.8 169.6,604.8 169.7,604.8 169.7,603.7 169.7,602.6 169.6,601.5 169.5,601.6 169.3,601.7 169.3,601.9 169.4,600.9 169.3,599.8 169.3,598.8 169.8,599.1 170.3,599.4 170.6,599.7 170.6,598.3 170.5,597.0 170.4,595.7 170.5,596.1 170.7,596.5 170.8,597.0 170.8,595.5 170.8,594.1 170.7,592.6 170.7,592.8 170.9,592.9 171.0,593.0 170.9,591.9 170.5,590.7 170.4,589.5 170.9,589.6 171.3,589.7 171.7,589.8 171.3,588.7 171.0,587.7 170.8,586.6 170.7,586.8 171.0,587.0 171.3,587.2 171.4,585.9 171.9,585.5 172.6,584.9 172.7,586.4 172.9,587.8 173.3,589.1 173.9,588.3 174.2,587.9 174.6,587.3 175.0,588.4 174.8,589.7 175.0,590.9 174.8,590.9 174.7,590.9 174.7,590.8 175.0,592.0 175.1,593.1 175.1,594.2 175.3,594.0 175.5,593.8 175.5,593.7 175.4,594.9 175.4,596.2 174.9,597.5 174.9,597.0 175.2,596.5 175.3,596.0 175.2,597.4 175.2,598.8 175.2,600.3 175.6,600.1 176.2,600.0 176.2,600.0 176.1,601.1 175.9,602.1 175.8,603.2 175.8,603.2 175.7,603.1 175.8,603.0 176.2,604.0 176.4,604.9 176.5,605.9 176.5,606.0 176.5,606.0 176.7,606.0 176.7,607.3 176.5,608.6 176.2,609.9 176.4,609.4 176.6,609.0 176.7,608.5 176.7,609.6 176.8,610.8 176.7,611.9 176.6,612.0 176.5,612.0 176.4,612.1 176.9,613.5 177.6,613.6 177.6,613.6 177.9,612.2 178.3,611.0 178.7,609.9 178.9,610.2 179.3,610.6 179.6,611.0 180.0,609.9 180.5,609.1 181.0,608.2 181.4,608.5 181.6,609.5 181.7,610.6 182.0,610.2 182.2,609.9 182.3,609.5 182.6,610.7 182.4,612.2 182.3,613.6 182.8,613.5 183.3,613.3 183.7,613.3 183.8,614.5 184.0,615.7 184.2,616.8 184.2,616.6 184.4,616.3 184.3,616.1 184.3,617.1 184.8,618.3 184.8,618.0 184.9,616.7 185.1,615.4 185.2,614.1 185.8,614.7 186.0,615.2 186.2,615.6 186.1,614.5 186.4,613.5 186.1,612.3 186.2,612.6 186.4,612.8 186.6,613.1 187.0,611.4 187.6,611.0 187.9,610.4 187.7,612.0 187.5,613.6 187.3,615.2 187.3,614.6 187.3,614.1 187.4,613.5 187.4,615.2 187.4,616.8 187.5,618.4 188.0,617.9 187.9,617.5 188.1,617.0 188.3,618.3 188.4,619.5 188.5,620.8 188.5,620.4 188.2,620.0 187.9,619.7 188.0,621.1 187.9,622.5 187.9,623.9 188.2,623.7 188.4,623.4 188.7,623.2 188.4,624.4 188.0,625.5 187.9,626.7 188.2,626.4 188.4,626.1 188.6,625.9 188.6,627.2 188.8,628.6 188.8,630.0 188.6,629.9 188.5,629.7 188.6,629.5 188.7,630.8 189.1,632.1 189.3,633.4 189.0,632.9 189.2,632.5 189.2,632.2 189.6,632.5 189.7,632.9 190.0,633.4 189.6,632.1 189.4,630.9 189.4,629.6 189.4,629.7 189.5,629.7 189.4,629.8 189.2,628.6 189.0,627.4 189.1,626.3 189.4,626.5 189.7,626.8 190.0,627.0 189.7,625.6 189.6,624.2 189.4,622.8 189.4,623.3 189.7,623.7 189.7,624.2 189.9,622.7 190.1,621.2 190.3,619.7 190.4,619.9 190.4,620.1 190.6,620.4 190.7,619.1 190.3,617.7 190.5,616.5 190.4,617.0 190.2,617.5 190.1,618.0 190.3,616.8 190.6,615.7 190.8,614.5 190.7,614.8 190.3,615.0 190.0,615.3 190.1,614.0 190.3,612.7 190.5,611.5 190.5,611.8 190.6,612.1 190.7,612.4 190.7,610.8 190.7,609.3 190.9,607.8 191.0,608.0 190.7,608.1 190.4,608.2 190.7,607.0 190.9,605.7 190.9,604.5 191.2,604.8 191.3,605.2 191.4,605.5 191.1,604.2 191.1,602.8 190.8,601.5 191.2,602.0 191.5,602.4 191.5,602.8 191.2,601.6 191.0,600.3 190.8,598.7 191.7,599.3 192.3,600.2 193.0,601.3 193.5,600.2 193.5,599.0 193.6,598.2 194.1,599.4 194.5,600.6 194.9,601.9 194.8,601.7 194.5,601.5 194.5,601.3 194.8,602.5 195.1,603.7 195.4,604.9 195.9,604.7 196.4,604.6 196.9,604.4 197.2,605.4 197.3,606.4 197.3,607.5 197.2,607.5 197.1,607.5 197.4,607.4 197.3,608.8 197.1,610.2 197.0,611.6 197.3,611.3 197.8,610.9 198.4,610.5 198.6,611.4 198.9,612.3 198.7,613.3 198.8,613.3 198.9,613.4 198.7,613.5 198.9,614.7 199.0,616.0 199.3,617.2 199.3,616.9 199.4,616.6 199.3,616.4 199.4,617.5 199.5,618.7 199.7,619.9 199.5,619.5 199.8,619.1 200.0,618.7 199.9,620.3 200.1,621.8 200.6,623.2 200.3,622.1 199.7,621.2 200.0,619.7 200.1,620.0 200.6,620.3 201.1,620.7 200.9,619.3 200.9,618.0 200.8,616.6 200.9,616.9 201.0,617.2 200.9,617.5 201.0,616.3 201.1,615.0 201.1,613.7 201.3,614.0 201.3,614.2 201.6,614.4 202.0,613.2 202.1,611.9 202.0,610.6 201.9,611.1 202.0,611.7 202.2,612.3 202.0,610.8 202.2,609.3 202.3,607.8 202.1,608.1 202.2,608.4 202.2,608.7 202.2,607.3 202.2,605.8 202.1,604.3 202.0,604.7 202.0,605.2 202.0,605.6 202.2,604.2 202.7,602.9 203.1,601.5 202.9,601.8 202.6,602.2 202.6,602.5 202.7,601.3 202.9,600.0 203.3,598.8 203.6,599.3 203.8,599.7 204.0,600.2 203.8,598.9 203.6,597.6 203.4,596.3 203.3,596.4 203.2,596.5 203.3,596.6 203.6,595.3 204.0,594.1 204.4,592.8 204.9,593.4 205.1,593.9 205.4,594.4 205.7,593.3 205.8,592.1 205.7,590.8 205.9,591.3 205.7,592.2 205.7,593.4 206.0,593.0 206.3,592.7 206.7,592.3 206.5,593.8 206.2,595.2 205.6,596.7 206.0,596.2 206.2,595.7 206.3,595.3 206.2,596.5 206.2,597.8 206.3,599.0 206.3,598.8 206.1,598.5 205.8,598.3 206.0,599.8 206.2,601.2 206.3,602.7 206.3,602.4 206.3,602.1 206.2,601.7 206.2,602.8 206.1,603.9 206.3,605.0 206.1,604.8 206.2,604.5 206.4,604.2 206.6,605.6 206.6,606.9 206.9,608.3 206.9,607.8 206.6,607.5 206.6,607.1 206.8,608.6 206.9,610.2 206.6,611.9 206.7,611.4 206.8,610.9 207.1,610.5 207.4,611.6 207.5,612.7 207.5,613.9 207.2,613.9 207.0,613.9 207.0,613.9 207.0,615.0 206.8,616.1 206.8,617.1 207.0,616.8 207.0,616.5 207.1,616.1 207.4,617.6 207.6,619.1 207.8,620.6 207.7,620.3 207.6,620.0 207.7,619.7 208.0,621.0 208.0,622.2 207.9,623.5 207.7,623.0 207.9,622.5 207.9,622.0 207.5,623.6 207.3,625.2 207.1,626.8 207.3,626.3 207.8,625.8 208.0,625.3 208.0,626.6 208.1,628.0 208.2,629.3 208.1,629.2 208.1,629.1 208.1,629.0 208.4,630.1 208.4,631.2 208.1,632.1 208.1,630.9 208.3,629.7 208.8,628.5 208.8,628.6 208.6,628.7 208.6,628.9 208.8,627.8 208.8,626.6 208.8,625.4 209.3,625.9 209.4,626.2 209.3,626.5 209.3,625.1 209.5,623.6 209.6,622.2 210.1,622.9 210.6,623.6 211.0,624.2 210.8,622.5 210.8,620.9 210.6,619.3 210.8,619.6 211.3,620.0 211.5,620.3 211.4,619.1 211.8,618.8 212.2,618.5 212.2,620.0 212.0,621.5 212.0,623.0 212.6,622.5 212.9,622.0 213.2,621.6 213.2,622.8 213.3,624.1 213.3,625.4 213.5,625.1 214.0,624.8 214.4,624.4 214.7,625.3 215.1,626.2 214.7,626.6 214.4,626.0 214.8,624.9 214.9,623.8 215.0,623.9 215.5,624.2 216.1,624.4 216.1,623.3 216.0,622.1 215.8,620.9 216.0,621.2 216.3,621.4 216.5,621.7 216.4,620.4 216.5,619.1 216.6,617.8 216.9,618.3 217.0,618.7 217.3,619.1 217.5,618.0 217.4,616.9 217.3,615.7 217.4,615.7 217.3,615.7 217.1,615.7 217.7,614.4 218.1,613.1 218.4,611.7 218.4,612.1 218.3,612.5 218.3,612.9 218.8,611.9 219.3,610.9 219.5,609.7 219.5,609.7 219.7,609.7 219.8,609.6 220.0,608.4 220.4,607.3 220.6,606.1 220.4,606.3 220.4,606.6 220.7,606.9 220.8,605.7 221.3,604.6 221.8,603.5 221.8,603.5 221.9,603.6 221.9,603.7 222.0,602.6 222.2,601.5 222.7,600.5 222.6,600.9 222.8,601.4 223.1,601.9 222.9,600.3 222.9,598.7 223.0,597.1 223.3,597.5 223.5,597.8 223.6,598.1 223.5,597.0 223.6,595.9 223.7,595.1 223.9,596.2 224.3,597.3 224.7,598.5 224.9,598.0 225.3,597.3 225.2,597.0 225.3,598.4 225.6,599.8 225.8,601.1 226.2,600.6 226.5,600.1 227.0,599.6 227.2,600.1 227.4,600.7 227.6,601.3 228.0,600.0 228.4,598.7 228.6,597.3 228.8,597.4 229.1,597.5 229.4,597.5 229.3,596.5 229.2,595.5 229.2,594.6 229.4,594.5 229.5,594.3 229.7,594.2 230.0,593.0 230.6,592.1 231.1,591.4 231.4,591.9 231.7,592.3 232.0,592.8 232.6,592.0 233.0,591.0 233.7,590.2 233.7,590.5 234.0,591.4 234.4,592.5 234.5,592.0 234.6,591.5 234.8,590.9 235.0,592.3 235.0,593.9 235.3,595.3 235.5,594.8 235.8,594.3 236.1,593.8 236.8,594.7 237.1,595.8 237.4,596.9 237.4,596.7 237.3,596.5 237.4,596.2 237.6,597.7 237.7,599.2 237.7,600.7 238.0,600.3 238.0,599.9 237.9,599.5 238.0,600.9 238.1,602.3 238.6,603.7 238.4,603.4 237.9,603.2 237.8,602.9 238.1,603.9 238.5,605.0 238.9,606.0 239.0,605.9 239.0,605.8 238.9,605.7 238.7,606.8 238.8,607.9 238.5,609.1 238.7,608.8 238.9,608.7 238.9,608.5 239.2,609.9 239.6,611.3 239.9,612.7 239.7,612.2 239.7,611.8 239.9,611.3 240.0,612.6 240.0,613.9 239.9,615.3 240.1,615.1 240.2,615.0 240.5,614.8 240.9,615.8 241.1,616.7 241.0,617.7 240.9,617.5 240.7,617.3 240.1,617.2 240.5,618.5 240.8,619.8 241.3,621.0 241.4,621.0 241.1,620.9 240.8,620.9 240.8,621.9 240.9,622.9 241.1,623.8 241.4,623.5 241.4,623.1 241.4,622.8 241.9,624.1 242.1,625.4 242.2,626.8 242.0,626.5 241.9,626.2 241.8,626.0 241.9,627.4 241.9,628.9 241.8,630.4 242.2,630.2 242.5,630.0 242.9,629.8 242.7,630.8 242.8,631.8 242.6,632.9 242.9,632.7 243.2,632.4 243.6,632.0 244.2,633.2 244.4,634.5 244.7,635.8 245.0,635.5 245.1,635.2 245.5,634.8 245.9,636.2 246.2,637.7 246.1,639.3 246.0,639.1 245.8,638.9 245.7,638.7 246.0,640.0 245.8,641.3 246.0,642.5 246.2,642.1 246.3,641.7 246.7,641.2 247.0,642.5 247.1,643.9 247.1,645.2 247.2,644.6 247.3,644.0 247.4,643.5 247.4,644.9 247.3,646.3 247.1,647.7 247.3,647.5 247.5,647.4 247.5,647.2 247.6,648.4 248.0,649.5 248.3,650.6 248.2,650.3 248.2,649.9 248.0,649.5 247.9,650.8 247.8,652.1 247.6,653.4 247.9,653.4 248.3,653.3 248.8,653.3 248.8,654.7 248.5,656.1 248.6,657.5 248.7,657.1 248.7,656.6 248.5,656.2 248.6,657.7 248.7,659.1 248.9,660.6 249.1,660.0 249.2,659.3 249.5,658.7 249.4,660.2 249.3,661.7 249.3,663.1 249.6,662.8 249.7,662.5 249.6,662.2 249.3,663.8 249.0,665.4 248.7,667.0 248.8,666.5 248.8,666.0 249.2,666.0 249.7,665.7 249.7,665.8 249.7,665.9 249.9,664.9 250.2,663.9 250.4,662.9 250.2,662.9 250.1,662.9 249.8,662.8 249.8,661.6 249.9,660.4 250.0,659.1 250.2,659.5 250.5,659.8 250.8,660.2 250.9,659.1 250.8,657.9 250.9,656.7 251.0,656.8 251.2,656.9 251.5,657.1 251.3,656.0 251.4,655.0 251.3,653.9 251.1,653.9 251.3,654.0 251.6,654.0 251.8,652.7 251.8,651.4 252.1,650.2 252.4,650.8 252.1,651.7 251.9,653.0 252.2,652.5 252.9,651.8 253.4,651.2 253.6,652.3 254.0,653.3 253.9,654.5 254.5,654.1 255.0,653.8 255.3,653.6 255.4,654.7 255.3,656.0 255.3,657.2 255.6,657.1 256.1,657.1 256.7,655.8 256.8,655.8 256.8,655.9 256.6,655.8 256.8,654.6 256.7,653.3 256.6,652.0 257.0,652.4 257.5,653.0 258.0,653.5 258.2,652.3 258.3,651.1 258.4,650.0 258.3,650.2 258.2,650.4 258.7,650.3 259.0,650.5 258.6,650.2 258.5,649.9 258.8,651.1 259.0,652.3 259.1,653.5 259.1,653.4 259.3,653.2 259.7,653.0 259.7,654.3 259.7,655.7 259.9,657.0 260.0,656.4 260.1,655.7 260.4,655.1 260.3,656.7 260.3,658.2 260.3,659.8 260.4,659.6 260.4,659.4 260.6,659.1 260.8,660.2 261.0,661.2 261.1,662.3 261.0,662.2 260.9,662.0 261.0,661.8 261.0,663.2 261.3,664.8 261.8,664.9 262.0,663.6 261.9,662.4 262.0,661.1 262.2,661.3 262.4,661.5 262.3,661.6 262.3,660.3 262.3,659.0 262.3,657.7 262.4,658.1 262.6,658.5 262.8,658.9 262.8,657.6 262.7,656.3 262.5,654.9 262.7,655.3 262.7,655.7 262.7,656.1 262.9,654.8 263.2,653.6 263.3,652.3 263.4,652.5 263.6,652.7 264.0,652.9 263.6,651.6 263.3,650.4 263.2,649.1 263.5,649.5 263.5,649.8 263.8,650.2 264.1,648.7 264.1,647.2 264.0,645.6 264.3,645.9 264.6,646.3 264.8,646.6 264.7,645.5 264.8,644.4 265.1,643.4 265.0,643.4 264.9,643.3 265.0,643.3 265.0,641.9 264.9,640.6 264.6,639.2 264.9,639.7 265.2,640.1 265.7,640.8 266.1,639.4 266.4,637.9 266.9,636.7 267.3,637.3 267.7,637.8 268.0,638.4 267.7,638.1 267.8,637.8 267.9,637.5 267.9,638.6 268.2,639.7 268.4,640.9 268.3,640.9 268.2,641.0 268.6,641.0 268.5,642.3 268.4,643.5 268.5,644.7 268.8,644.5 269.0,644.3 269.4,644.0 269.6,645.3 269.3,646.6 269.2,647.8 269.2,647.5 269.1,647.2 268.8,646.9 268.8,647.9 268.6,649.0 268.7,650.0 269.1,649.8 269.1,649.6 269.1,649.5 269.4,651.0 269.7,652.5 269.7,654.0 269.6,653.5 269.4,652.9 269.2,652.4 269.6,653.6 269.8,654.7 270.2,655.9 270.4,655.8 270.4,655.7 270.0,655.7 270.2,656.9 270.5,658.1 270.8,659.3 270.4,659.2 270.6,659.0 270.5,658.9 270.5,660.3 270.5,661.6 270.7,662.9 270.7,661.4 270.9,659.9 271.2,658.4 271.6,659.0 271.8,659.5 271.9,660.0 271.6,658.5 271.4,657.2 271.3,655.8 271.4,656.1 271.6,656.3 272.1,656.7 272.1,655.6 272.3,654.5 272.3,653.4 272.0,653.6 272.2,653.9 272.1,654.2 272.3,652.6 272.3,651.1 271.9,649.5 272.6,649.9 273.0,650.4 273.5,650.8 273.6,649.3 273.3,647.8 273.3,646.5 273.2,647.6 273.5,648.8 273.6,650.1 273.9,649.9 274.2,649.6 274.5,649.4 274.2,650.8 274.3,652.2 274.3,653.6 274.6,653.4 274.6,653.2 274.9,653.0 275.3,654.2 275.5,655.3 275.6,656.5 275.6,656.2 275.7,655.8 275.8,655.4 275.8,656.6 276.0,657.7 276.1,658.9 276.0,659.0 276.0,659.2 276.1,659.3 276.2,660.4 276.5,661.6 276.7,662.7 276.8,662.3 276.8,661.8 277.0,661.3 277.1,662.8 277.2,664.2 277.2,665.7 277.5,665.3 277.6,664.9 277.6,664.6 277.9,666.0 278.4,667.4 278.8,668.8 278.7,668.5 278.6,668.3 278.9,668.0 278.9,669.1 278.7,670.3 278.5,671.5 278.7,671.1 279.0,670.7 279.1,670.3 279.3,671.8 279.7,673.2 279.9,674.7 279.8,674.5 279.8,674.3 280.0,674.3 280.0,673.9 279.9,673.8 279.8,673.7 280.1,672.6 280.2,671.4 280.1,670.1 280.0,670.7 279.9,671.2 279.9,671.8 280.5,670.3 280.8,668.8 281.0,667.2 280.9,667.4 280.9,667.6 281.1,667.9 281.1,666.7 281.0,665.4 281.1,664.3 281.1,664.7 281.0,665.2 281.1,665.7 281.2,664.4 281.3,663.2 281.2,661.9 281.4,661.9 281.6,661.9 281.9,662.0 282.1,660.8 282.3,659.7 282.4,658.5 282.2,658.6 282.1,658.7 282.1,658.9 282.3,658.0 282.4,657.0 282.6,656.1 282.4,656.1 282.2,656.0 282.0,655.9 282.3,654.7 282.6,653.5 282.9,652.3 282.8,652.6 282.6,652.9 282.4,653.2 282.4,652.0 282.4,650.9 282.6,649.8 282.6,650.1 282.9,650.5 283.1,650.8 282.7,649.4 282.5,648.0 282.3,646.5 282.4,647.0 282.5,647.4 282.3,647.8 282.7,646.5 282.7,645.2 282.7,643.9 283.0,644.2 283.0,644.5 283.2,644.7 283.4,643.3 283.6,641.8 283.9,640.4 283.6,640.7 283.5,640.9 283.3,641.2 282.9,639.8 283.0,638.5 283.1,637.2 283.4,637.8 283.4,638.4 284.0,639.0 283.9,637.6 284.0,636.2 284.2,634.8 284.3,635.2 284.4,635.5 284.3,635.9 283.8,634.4 283.5,633.0 283.2,631.5 283.4,631.7 283.5,631.9 283.5,632.1 283.6,630.8 283.8,629.5 284.1,628.3 284.3,628.5 284.5,628.7 284.8,629.0 284.6,627.9 284.3,626.8 284.3,625.8 284.3,625.9 284.5,626.1 284.7,626.2 284.3,625.2 284.4,624.2 284.0,623.2 284.1,623.3 284.3,623.4 284.3,623.5 284.5,622.1 284.5,620.7 284.6,620.2 284.8,621.6 284.6,623.1 284.8,624.5 284.8,624.3 284.6,624.1 284.5,623.9 284.4,625.0 284.3,626.2 284.4,627.3 284.6,627.0 284.3,626.7 284.3,626.4 284.5,627.6 284.6,628.7 284.8,629.9 284.8,629.7 284.6,629.6 284.4,629.5 284.4,630.9 284.3,632.4 284.4,633.9 284.8,633.3 284.7,632.8 285.1,632.3 285.4,633.8 285.5,635.3 285.3,636.8 285.5,636.6 285.5,636.3 285.6,636.0 285.9,637.0 286.0,638.0 286.1,638.9 285.6,638.7 285.2,638.4 285.2,638.1 285.1,639.8 285.1,641.4 285.3,643.0 285.6,642.7 285.5,642.5 285.3,642.2 285.2,643.2 285.1,644.2 285.1,645.2 285.4,645.0 285.5,644.8 285.5,644.6 285.5,646.0 285.7,647.5 285.8,649.0 285.8,648.6 286.1,648.2 285.9,647.8 286.2,648.9 286.3,650.1 286.4,651.2 286.3,651.3 286.4,651.3 286.5,651.3 286.6,652.5 286.5,653.7 286.4,654.9 286.2,654.6 286.0,654.2 285.9,653.8 286.1,654.9 286.2,656.1 286.1,657.2 286.0,657.2 286.2,657.2 286.3,657.2 286.4,658.4 286.3,659.6 286.8,660.7 286.7,660.6 286.6,660.4 286.5,660.3 286.6,661.2 286.8,662.1 286.8,663.0 286.9,662.9 287.1,662.7 286.8,662.0 286.3,662.8 286.4,663.2 286.7,663.5 287.2,662.5 287.5,661.5 287.9,660.5 288.0,660.8 287.8,660.9 288.0,661.2 288.0,659.8 287.9,658.4 287.8,657.0 287.8,657.2 288.2,657.4 288.5,657.7 288.6,656.5 288.7,655.3 289.0,654.1 289.0,654.5 288.9,654.9 288.6,655.2 288.9,653.8 289.1,652.3 289.2,650.8 289.3,651.3 289.5,651.8 289.9,652.3 289.9,650.8 289.8,649.3 290.0,647.8 290.1,648.2 290.3,648.6 290.8,649.1 290.9,647.8 290.3,646.3 289.9,644.8 290.5,645.3 291.2,645.8 291.6,646.2 291.4,644.7 291.4,643.3 291.5,641.8 291.7,642.2 291.5,642.4 291.6,642.7 291.7,641.6 291.5,640.5 291.6,639.4 292.0,639.9 291.9,641.2 291.9,642.5 291.8,642.1 291.9,641.6 292.1,641.1 292.3,642.5 292.6,644.0 292.9,645.4 292.9,644.9 292.9,644.4 293.1,643.9 292.9,645.4 293.1,646.8 293.3,648.3 293.0,648.2 292.7,648.1 292.8,648.0 293.0,648.8 293.0,649.7 293.0,650.6 293.2,650.5 293.3,650.4 293.4,650.4 293.5,651.6 293.5,652.9 293.5,654.1 293.7,654.0 293.8,653.9 293.8,653.8 293.8,654.9 294.0,656.1 294.1,657.3 293.9,656.9 293.7,656.4 293.6,656.0 293.7,657.2 293.7,658.5 293.9,659.7 293.7,659.8 293.6,659.9 293.8,660.0 294.0,660.9 294.2,661.9 294.4,662.8 294.4,662.6 294.4,662.5 294.3,662.4 294.7,664.2 295.3,664.1 295.5,664.3 295.0,663.1 294.6,661.7 294.3,660.2 294.6,660.5 294.8,660.6 295.0,660.7 295.2,659.6 295.2,658.6 295.3,657.6 295.7,657.8 295.8,657.8 295.7,657.8 295.7,656.8 295.7,655.8 295.5,654.8 295.6,654.9 295.9,655.0 296.3,655.0 296.1,654.0 295.9,653.0 295.7,651.9 296.1,652.0 296.6,652.1 297.1,651.9 296.9,651.1 296.5,650.1 296.7,649.2 296.8,649.0 296.8,648.8 296.8,648.6 297.0,647.7 297.1,646.8 297.3,646.0 297.5,645.8 297.5,645.6 297.8,645.3 297.7,644.5 297.6,643.7 297.6,642.9 297.3,642.6 297.4,642.4 297.4,642.2 297.3,641.5 297.4,640.8 297.7,640.2 297.9,639.9 298.2,640.5 298.3,641.2 298.7,641.4 299.0,641.6 299.4,642.0 299.3,642.6 299.6,643.1 299.4,643.8 299.8,644.4 300.5,644.2 301.0,644.0 301.5,644.1 302.0,644.3 302.5,644.6 303.0,644.4 303.5,644.0 304.0,643.7 304.5,643.8 305.0,644.1 305.5,644.4 306.0,644.3 306.5,644.2 307.0,644.1 307.5,644.1 308.0,644.0 308.5,644.1 309.0,644.4 309.3,645.0 309.7,645.3 310.3,645.3 310.9,645.2 311.6,645.1 312.1,645.3 312.5,645.5 313.0,645.8 313.3,646.3 313.6,646.9 314.0,647.3 314.6,647.4 315.1,647.4 315.7,647.4 316.0,647.8 316.2,647.5 316.5,647.1 317.1,646.9 317.4,646.5 317.7,646.1 317.8,645.6 318.1,645.1 318.3,644.7 318.5,644.2 318.8,643.8 319.3,643.5 319.7,643.2 319.9,642.7 320.1,642.3 320.4,641.9 320.6,641.4 321.0,641.0 321.2,640.5 321.3,640.0 321.3,639.3 322.0,639.3 322.6,639.2 323.1,638.9 323.3,638.4 323.6,638.0 324.0,637.7 324.3,637.3 324.6,636.8 324.7,636.2 325.1,635.9 325.4,635.5 325.7,635.1 326.1,634.9 326.7,634.4 327.2,635.0 327.5,635.4 327.9,635.7 328.0,636.3 328.3,636.7 328.5,637.1 328.5,637.7 328.6,638.2 328.5,638.9 328.6,639.4 329.0,639.7 329.5,640.0 330.0,640.3 330.2,640.8 330.6,641.1 331.0,641.5 331.2,641.9 331.5,642.3 331.7,642.8 331.7,643.4 331.8,643.9 331.7,644.5 332.0,644.9 332.5,645.2 333.0,645.5 333.2,646.0 333.5,646.4 333.9,646.7 334.0,647.3 334.2,647.7 334.1,648.3 334.5,648.7 334.9,649.0 335.1,649.5 335.4,649.9 335.4,650.5 336.0,651.4 336.7,650.5 336.9,650.0 336.8,649.4 336.9,648.9 337.3,648.5 337.5,648.1 337.7,647.6 337.9,647.1 338.1,646.7 338.2,646.1 338.4,645.7 338.8,645.3 339.4,645.1 339.9,644.8 340.4,644.5 340.5,644.0 340.5,643.4 340.5,642.8 341.1,642.6 341.3,642.1 341.7,641.7 342.0,641.4 342.6,641.1 342.9,640.7 342.8,640.2 343.1,639.7 343.5,639.3 344.2,639.4 344.5,639.0 344.9,638.6 345.5,638.5 346.0,638.4 346.6,638.3 347.0,638.0 347.4,637.7 347.9,637.5 348.4,637.4 348.9,637.1 349.2,636.6 349.6,636.1 350.1,636.1 350.7,635.5 351.4,636.0 351.6,636.5 352.0,636.8 352.5,637.0 353.0,637.2 353.5,637.4 353.7,637.9 353.9,638.6 354.2,639.0 354.8,639.1 355.2,639.3 355.6,639.7 355.9,640.1 355.9,640.5 355.9,641.0 356.3,641.5 356.3,642.0 356.4,642.5 356.4,643.0 356.7,643.5 356.5,644.0 356.6,644.5 356.6,645.0 356.8,645.5 356.7,646.0 356.7,646.6 356.7,647.1 356.9,647.6 357.0,648.1 357.4,648.5 357.5,649.0 357.5,649.5 357.3,650.1 357.4,650.6 357.6,651.0 357.9,651.5 358.2,652.0 358.4,652.5 358.5,653.0 358.6,653.4 358.9,653.9 358.8,654.4 358.6,655.0 358.3,655.6 358.1,656.1 358.5,656.6 358.5,657.1 358.6,657.6 358.8,658.1 359.0,658.5 359.3,659.0 359.1,659.6 359.0,660.1 359.0,660.6 359.3,661.1 359.9,661.5 360.3,661.9 360.0,662.5 359.8,663.1 359.8,663.6 360.0,664.1 360.2,664.5 360.3,665.0 360.7,665.5 361.0,665.9 361.3,666.4 361.3,666.9 361.3,667.4 361.6,667.9 361.8,668.4 362.0,668.9 362.1,669.4 362.0,669.9 362.1,670.4 362.2,670.9 361.8,671.5 361.9,672.0 361.6,672.6 361.8,673.1 362.2,673.5 362.2,674.0 362.4,674.5 362.8,674.9 363.1,675.4 362.7,675.8 362.8,675.5 363.1,675.1 363.6,674.7 364.1,674.5 364.3,674.0 364.6,673.6 364.9,673.2 365.1,672.7 365.0,672.0 365.3,671.6 365.3,671.0 365.5,670.6 366.0,670.3 366.3,669.8 366.4,669.3 366.6,668.8 366.9,668.4 367.1,668.0 367.3,667.5 367.5,667.0 367.9,666.6 368.5,666.6 369.0,666.5 369.4,666.0 369.8,665.6 370.2,665.2 370.7,665.1 371.3,665.2 371.9,665.2 372.3,664.9 372.9,665.1 373.4,665.0 373.9,664.8 374.4,664.5 374.7,664.1 375.3,664.1 375.8,663.8 376.1,663.4 376.6,663.1 377.3,663.2 377.7,663.0 378.2,662.7 378.6,662.4 379.1,662.2 379.5,661.9 379.9,661.5 380.2,661.0 380.9,661.1 381.5,661.1 382.0,660.9 382.4,660.6 382.6,660.5 382.8,660.6 383.2,660.9 383.5,661.4 383.9,661.7 384.6,661.8 384.9,662.2 385.3,662.6 385.5,663.0 385.8,663.5 386.1,663.9 386.4,664.3 386.7,664.8 387.0,665.2 387.3,665.6 387.3,666.3 387.4,666.9 388.0,667.0 388.7,667.2 389.2,667.4 389.3,667.8 389.5,667.5 390.0,667.3 390.4,666.9 390.7,666.4 390.8,665.9 390.8,665.3 391.2,665.0 391.5,664.5 391.5,664.0 391.6,663.4 391.6,662.9 392.2,662.6 392.6,662.3 393.0,661.9 393.3,661.5 393.1,660.8 393.1,660.2 393.6,659.9 394.1,659.6 394.5,659.3 394.9,658.9 395.1,658.4 395.2,657.9 395.3,657.4 395.5,656.9 395.7,656.4 396.0,656.0 396.3,655.4 396.6,655.0 397.2,654.8 397.7,654.6 398.0,654.1 398.3,653.7 398.8,653.4 399.3,653.1 399.9,652.7 400.5,653.0 401.0,653.1 401.5,653.1 402.0,653.1 402.6,653.1 403.0,653.3 403.5,653.5 404.0,653.7 404.5,654.1 405.0,653.9 405.5,654.1 406.1,653.9 406.6,653.6 407.1,653.4 407.6,653.8 408.1,654.2 408.5,654.5 409.1,654.1 409.7,654.0 410.3,654.1 410.6,654.6 410.8,655.2 411.3,655.4 411.9,655.3 412.4,655.4 413.0,655.4 413.3,655.9 413.6,656.4 414.0,656.7 414.4,657.0 414.5,657.7 414.8,658.2 415.3,658.5 415.7,658.7 416.2,658.8 416.7,659.0 417.3,659.0 418.0,659.1 418.4,659.4 418.4,660.1 418.6,660.5 418.8,661.0 418.9,661.6 419.1,662.1 419.5,662.4 420.0,662.7 420.6,662.9 420.8,663.3 421.2,663.7 421.4,664.2 421.7,664.6 422.0,665.0 422.4,665.3 422.6,665.8 423.0,666.2 423.2,666.4 423.6,666.4 424.1,666.3 424.6,666.3 425.1,666.2 425.6,666.1 426.1,665.9 426.6,665.7 427.1,665.5 427.6,665.2 428.2,665.7 428.8,666.0 429.3,666.1 429.8,665.8 430.3,665.8 430.8,665.5 431.3,665.3 431.8,665.0 432.3,664.9 432.8,664.8 433.3,665.0 433.9,665.1 434.4,665.4 434.6,666.0 435.1,666.2 435.5,666.5 435.8,667.0 436.0,667.6 436.5,667.9 436.9,668.2 437.3,668.5 437.9,668.7 438.3,669.1 438.8,669.2 439.0,669.8 439.2,670.4 439.6,670.8 440.1,670.9 440.7,671.0 441.2,671.1 441.7,671.3 442.1,671.7 442.6,671.8 443.0,672.1 443.4,672.7 443.7,672.1 444.1,671.7 444.6,671.4 444.9,671.0 444.9,670.4 444.9,669.8 445.0,669.3 445.5,668.9 445.7,668.5 446.0,668.1 446.0,667.5 446.0,666.9 446.1,666.3 446.5,665.9 446.9,665.6 447.4,665.3 447.9,665.0 448.5,664.7 448.8,664.3 448.9,663.8 449.2,663.4 449.7,663.1 449.6,662.4 449.6,661.8 449.6,661.2 449.9,660.8 450.5,660.5 450.9,660.2 451.2,659.7 451.4,659.3 451.8,658.9 451.8,658.4 451.7,657.7 451.6,657.1 452.2,656.8 452.5,656.4 453.1,656.1 453.2,655.7 453.2,655.1 453.0,654.4 453.4,654.0 453.9,653.7 454.2,653.5 454.6,653.5 455.1,653.4 455.6,653.5 456.2,653.6 456.7,653.5 457.2,653.4 457.7,653.1 458.2,652.8 458.6,652.2 459.2,652.3 459.7,652.4 460.3,652.3 460.7,652.0 461.3,652.0 461.8,651.6 462.2,651.3 462.7,651.0 463.1,650.5 463.5,650.2 463.9,649.8 464.3,649.4 464.9,649.3 465.4,649.3 466.0,649.1 466.4,648.7 466.7,648.3 466.9,647.8 467.2,647.3 467.4,646.9 467.6,646.4 467.9,646.0 468.3,645.6 468.6,645.2 468.9,644.7 469.2,644.3 469.5,643.9 469.5,643.3 469.5,642.9 469.6,643.2 470.1,643.3 470.6,643.5 471.2,643.5 471.7,643.7 471.9,644.3 472.3,644.7 472.8,644.8 473.3,645.0 473.8,645.0 474.2,645.4 474.7,645.6 475.2,645.8 475.5,646.2 475.7,646.8 476.0,647.3 476.5,647.4 477.1,647.6 477.6,647.1 478.0,646.8 478.4,646.5 478.9,646.3 479.4,646.1 480.0,646.0 480.4,645.7 480.8,645.3 481.4,645.3 481.8,644.9 482.0,644.2 482.3,643.7 482.7,643.3 483.1,643.0 483.5,642.7 484.0,642.5 484.4,642.2 484.9,641.9 485.3,641.6 485.7,641.2 486.0,640.8 486.3,640.4 486.7,640.1 487.3,640.0 487.8,639.7 488.1,639.2 488.6,639.0 488.8,638.5 489.3,638.2 489.6,638.1 489.7,638.3 490.0,638.7 490.5,639.0 491.0,639.3 491.2,639.8 491.3,640.3 491.6,640.7 491.9,641.1 492.2,641.5 492.5,641.9 492.7,642.4 493.0,642.8 493.2,643.3 493.3,643.8 493.7,644.1 494.1,644.5 494.3,645.0 494.6,645.3 494.8,645.8 495.1,646.3 495.4,646.7 495.8,647.1 496.2,647.4 496.6,647.7 497.1,648.0 497.2,648.5 497.3,649.2 497.4,649.7 497.7,650.2 498.1,650.5 498.7,650.7 498.7,651.3 499.0,651.8 499.2,652.3 499.5,652.7 500.2,652.9 500.6,652.5 501.2,652.5 501.8,652.5 502.2,652.2 502.5,651.6 503.0,651.4 503.5,651.3 503.9,650.9 504.2,650.4 504.7,650.3 505.3,650.3 505.8,650.1 506.0,650.0 506.4,649.8 507.0,649.8 507.5,649.8 507.8,650.5 508.2,650.9 508.7,651.1 509.2,651.0 509.7,651.2 510.3,651.2 510.6,651.5 510.3,651.9 510.2,652.4 510.9,652.8 511.2,653.3 511.7,653.7 511.7,654.2 511.4,654.8 511.3,655.3 511.6,655.8 511.8,656.2 511.8,656.8 512.0,657.2 512.0,657.8 511.8,658.3 511.7,658.8 512.0,659.3 512.0,659.8 512.0,660.3 511.9,660.9 512.1,661.3 512.5,661.8 512.7,662.3 513.0,662.7 513.4,663.2 513.4,663.7 513.8,664.1 513.7,664.7 513.4,665.2 513.0,665.8 513.5,666.2 513.9,666.6 514.4,666.7 514.5,667.4 514.8,667.9 515.0,668.5 515.6,668.6 516.2,668.7 516.6,669.0 517.1,669.3 517.5,669.6 517.9,669.3 518.4,669.1 518.9,668.9 519.4,668.7 519.7,668.3 520.0,667.8 520.1,667.1 520.7,666.9 521.2,666.6 521.5,666.1 522.0,665.8 522.4,665.5 522.9,665.2 523.4,664.9 523.8,664.6 524.4,664.8 524.9,664.7 525.4,664.3 525.8,664.0 526.4,664.0 527.0,664.2 527.5,664.2 527.9,663.6 528.4,663.2 528.9,663.1 529.4,663.1 529.9,662.8 530.4,662.7 530.3,662.0 530.5,661.5 530.7,661.0 530.8,660.5 531.4,660.2 531.8,659.9 532.0,659.4 532.2,658.9 532.7,658.6 532.9,658.1 533.2,657.7 533.5,657.3 533.4,656.7 533.3,656.0 533.3,655.5 533.6,655.0 533.7,654.5 534.2,654.1 534.7,653.8 535.1,653.5 535.5,653.1 535.6,652.6 535.8,652.1 536.1,651.7 536.5,651.3 536.9,650.9 537.1,650.4 536.9,649.8 536.8,649.2 536.6,648.6 537.3,648.3 537.6,647.9 537.8,647.4 538.0,647.0 538.4,646.6 538.5,646.1 538.5,645.6 538.6,645.0 539.1,644.7 539.4,644.3 539.5,643.8 539.7,643.3 539.6,642.8 539.7,642.2 539.8,641.8 540.2,641.4 540.5,641.0 540.8,640.6 541.0,640.1 541.4,639.7 541.9,639.4 541.8,638.8 541.4,638.1 541.8,636.9 542.4,638.0 542.0,638.7 542.0,639.2 542.2,639.7 542.4,640.2 542.3,640.7 542.3,641.3 542.5,641.7 542.7,642.2 543.2,642.6 543.4,643.0 543.8,643.4 543.8,644.0 543.8,644.5 543.8,645.0 544.0,645.5 544.2,646.0 544.3,646.5 544.6,646.9 544.8,647.4 545.2,647.8 545.3,648.3 545.3,648.8 545.4,649.3 545.7,649.7 546.0,650.2 546.2,650.6 546.4,651.1 546.0,651.8 546.0,652.3 546.6,652.7 546.9,653.1 547.3,653.5 547.3,654.0 547.3,654.6 547.1,655.2 547.1,655.7 547.2,656.2 547.3,656.8 547.5,657.2 547.9,657.6 548.0,658.1 548.3,658.6 548.4,659.0 548.5,659.6 548.9,660.0 549.2,660.4 549.6,660.8 549.7,661.3 549.5,661.9 549.5,662.5 549.7,662.9 550.0,663.4 550.2,663.8 550.4,664.3 550.6,664.8 551.0,665.2 551.1,665.5 551.3,665.2 551.3,664.7 551.5,664.2 551.9,663.8 552.0,663.3 552.3,662.9 552.5,662.4 552.8,662.0 552.9,661.4 553.2,661.0 553.6,660.6 553.8,660.2 553.9,659.6 554.0,659.1 554.5,658.8 555.0,658.5 555.4,658.1 555.0,657.4 555.1,656.8 554.8,656.1 555.0,655.7 555.5,655.3 556.1,655.0 556.2,654.5 556.3,654.0 556.4,653.5 557.1,653.2 557.4,652.8 557.8,652.4 558.0,651.9 558.3,651.5 558.3,651.0 558.5,650.5 558.6,650.0 558.5,649.4 558.8,649.0 558.8,648.5 559.0,648.0 559.3,647.5 559.4,647.0 559.4,646.5 559.7,646.1 559.9,645.6 560.0,645.1 560.0,644.6 560.1,644.1 560.1,643.5 560.2,643.1 560.9,642.8 561.3,642.4 561.4,641.8 561.5,641.3 561.3,640.8 561.4,640.2 561.6,639.8 561.7,639.3 561.9,638.8 561.9,638.3 562.0,637.8 562.4,637.4 562.6,636.9 562.7,636.4 562.9,635.9 563.1,635.5 563.3,635.0 563.6,634.6 564.0,634.3 564.4,634.0 564.8,633.6 564.8,633.0 565.2,632.7 565.5,632.2 565.6,631.6 565.7,631.1 566.0,630.7 566.4,630.4 567.0,630.2 567.5,630.0 567.7,629.4 568.1,629.1 568.6,628.9 569.1,628.7 569.7,628.6 570.0,628.1 569.7,627.9 569.5,628.0 569.9,628.4 570.0,628.8 570.3,629.2 570.5,629.7 570.8,630.2 570.8,630.7 571.1,631.1 571.5,631.5 572.0,631.8 572.3,632.2 572.5,632.7 572.7,633.2 572.9,633.6 573.1,634.1 573.4,634.5 573.4,635.0 573.4,635.6 573.8,635.9 573.9,636.5 574.0,637.0 574.2,637.4 574.5,637.8 574.5,638.4 574.4,638.9 574.6,639.4 574.8,639.9 574.9,640.6 575.4,640.8 575.9,641.1 576.4,641.4 576.9,641.6 577.3,641.9 577.7,642.3 578.0,642.7 578.3,643.2 578.5,643.7 578.6,644.3 578.8,644.8 579.1,645.3 579.7,645.4 579.9,645.9 580.3,646.3 580.6,646.7 580.8,647.2 581.0,647.7 581.5,648.0 582.1,648.2 582.9,648.3 583.0,648.8 583.1,649.4 583.3,650.0 583.6,650.4 583.8,650.9 584.2,651.3 584.5,651.7 584.7,652.2 584.9,652.7 585.4,653.1 585.7,653.5 585.9,654.0 586.2,654.5 586.9,654.4 587.5,654.4 588.0,654.6 588.5,654.7 589.0,654.9 589.4,655.2 589.9,655.4 590.4,655.6 590.7,656.1 591.0,656.6 591.3,657.3 591.8,657.4 592.4,657.3 592.8,657.7 593.3,657.7 593.8,657.9 594.2,658.3 594.7,658.3 595.2,658.4 595.8,658.1 596.3,658.3 596.8,658.7 597.3,659.0 597.8,659.3 598.3,659.5 598.8,659.6 599.3,659.4 599.9,659.2 600.5,658.8 600.9,659.1 601.4,659.5 601.9,660.1 602.4,659.9 603.0,659.8 603.5,659.5 604.0,659.0 604.5,658.9 605.0,658.7 605.5,658.6 606.0,658.7 606.5,658.4 607.1,658.6 607.7,658.8 608.2,658.8 608.7,658.6 609.2,658.6 609.7,658.3 610.1,658.0 610.3,657.4 610.7,657.1 611.3,657.0 611.7,656.8 612.2,656.6 612.3,655.8 612.4,655.2 612.6,654.6 613.3,654.7 613.8,654.5 614.4,654.5 614.7,654.0 614.8,653.3 614.9,652.7 615.4,652.4 615.8,652.1 616.1,651.8 616.8,651.8 617.0,651.2 617.3,650.8 617.6,650.4 618.0,650.1 618.5,649.9 619.2,649.8 619.7,649.6 620.0,649.2 620.4,648.9 620.6,648.3 620.8,647.8 621.2,647.5 621.6,647.2 621.8,646.7 622.3,646.5 622.9,646.4 623.4,646.1 623.7,645.7 623.8,645.1 624.0,644.5 624.3,644.1 624.7,643.9 625.0,643.5 625.2,643.0 625.3,642.4 625.6,642.1 626.0,641.7 626.2,641.3 626.6,640.9 627.3,640.7 627.5,640.3 627.9,639.9 628.2,639.5 628.5,639.1 628.8,638.7 628.5,638.0 628.5,637.3 628.6,636.8 629.0,636.5 629.3,636.1 629.6,635.7 630.0,635.3 630.2,634.9 630.6,634.5 630.8,634.0 631.0,633.6 631.2,633.1 631.6,632.8 632.0,632.4 632.3,632.0 632.8,631.7 633.4,631.6 633.5,631.0 633.5,630.4 633.7,629.9 633.9,629.4 634.1,628.9 634.7,628.8 635.1,628.7 635.3,628.8 635.6,629.3 636.1,629.6 636.3,630.1 636.4,630.6 636.5,631.1 636.8,631.5 637.2,631.9 637.5,632.3 637.7,632.8 638.2,633.1 638.4,633.5 638.4,634.1 638.6,634.6 638.6,635.1 638.9,635.6 639.1,636.1 639.3,636.5 639.6,637.0 639.9,637.4 640.2,637.7 640.5,638.2 640.6,638.7 640.7,639.2 640.9,639.7 641.1,640.1 641.4,640.6 641.7,641.0 641.9,641.5 642.0,642.0 641.7,642.6 641.6,643.2 641.3,643.8 641.6,644.2 641.9,644.7 642.1,645.2 642.0,645.7 642.3,646.2 642.5,646.6 642.7,647.1 643.3,647.5 643.8,647.9 643.9,648.3 644.1,648.8 644.3,649.3 644.3,649.8 644.1,650.4 643.9,651.0 644.1,651.5 644.4,651.9 644.7,652.4 644.6,652.9 644.7,653.4 644.6,654.0 645.0,654.4 645.3,654.9 645.3,655.4 645.2,656.0 645.4,656.4 645.5,657.0 645.8,657.4 646.5,657.6 646.8,658.0 647.1,658.4 647.4,658.9 647.4,659.4 647.6,659.9 648.0,660.3 648.4,660.7 648.8,661.1 648.9,661.5 649.3,662.0 649.4,662.5 649.7,662.9 650.1,663.2 650.5,663.6 650.8,664.1 650.7,664.4 650.9,664.2 650.9,663.6 651.2,663.1 651.6,662.7 652.0,662.3 652.5,662.0 652.7,661.6 653.0,661.1 653.4,660.7 653.9,660.4 654.1,659.9 654.4,659.5 654.9,659.2 655.4,658.8"/>
<polyline fill="none" stroke="#008000" stroke-width="4.40" stroke-linejoin="round" stroke-linecap="round" points="134.5,522.1 134.8,522.4 135.2,522.7 135.4,523.0 135.5,521.6 136.1,520.4 136.4,519.0 136.8,519.5 137.3,519.9 137.8,520.5 137.9,519.2 138.0,518.0 138.1,516.8 138.1,518.0 137.8,519.4 138.0,520.8 138.5,520.6 138.7,520.4 138.8,520.2 138.7,521.3 138.5,522.3 138.4,523.4 138.6,523.3 138.3,523.2 138.1,523.2 138.3,524.3 138.5,525.4 138.6,526.5 138.4,526.4 138.5,526.3 138.6,526.3 138.3,527.4 138.4,528.5 138.6,529.5 138.9,529.1 139.3,528.6 139.5,528.2 139.6,529.5 139.7,530.8 139.9,532.0 139.6,531.9 139.5,531.6 139.4,531.4 139.6,532.9 139.6,534.4 140.1,535.8 140.3,535.3 140.3,534.9 140.3,534.5 140.2,535.8 140.1,537.1 139.8,538.5 139.5,538.5 139.7,538.4 139.7,538.3 139.7,539.4 139.7,540.6 139.8,541.7 139.8,541.5 139.7,541.3 140.2,541.8 140.7,541.5 140.2,541.8 140.0,542.2 140.1,540.9 140.1,539.6 140.0,538.3 140.2,538.5 140.3,538.7 140.3,538.9 140.8,537.8 141.3,536.7 141.8,535.6 141.4,535.5 140.8,535.4 140.5,535.3 140.7,534.1 140.9,532.8 140.7,531.5 141.0,532.0 141.0,532.5 140.9,532.9 140.8,531.4 140.9,530.0 141.2,528.6 141.4,529.1 141.4,529.6 141.3,530.1 141.4,528.7 141.6,527.2 141.9,525.8 141.7,526.1 141.6,526.4 141.8,526.8 142.1,525.4 142.0,523.9 142.1,522.4 142.3,523.0 142.6,523.6 143.0,524.2 142.6,523.2 142.5,522.8 143.0,522.6 142.9,523.7 142.9,524.9 142.5,526.1 142.6,525.9 142.7,525.8 142.6,525.6 142.9,526.8 143.0,527.9 143.2,529.0 143.3,528.7 143.1,528.5 143.2,528.2 143.1,529.5 143.0,530.7 143.0,532.0 143.4,531.8 143.6,531.6 143.7,531.4 143.6,532.7 144.0,533.9 144.1,535.1 144.2,534.9 144.2,534.6 144.2,534.4 144.2,535.6 144.2,536.8 144.4,538.0 144.4,537.7 144.3,537.5 144.5,537.2 144.5,538.6 144.2,540.1 144.1,541.5 144.4,540.9 144.7,540.3 145.0,539.7 145.2,541.0 144.8,541.7 144.2,542.5 144.4,541.4 144.7,540.4 145.1,539.4 145.2,539.7 145.3,540.0 145.6,540.3 145.7,538.9 145.5,537.4 145.4,536.0 145.7,536.2 145.5,536.4 145.6,536.6 145.5,535.4 145.4,534.1 145.1,532.9 145.4,533.2 145.5,533.5 145.5,533.8 145.9,532.3 145.9,530.8 146.2,529.3 146.0,529.7 145.8,530.0 145.6,530.4 145.8,529.4 146.2,528.3 146.5,527.3 146.4,527.5 146.7,527.8 146.7,528.0 146.7,526.7 146.7,525.3 146.5,523.9 146.7,524.2 146.9,524.5 146.8,524.7 147.1,523.2 147.5,521.8 147.7,520.2 148.2,520.6 148.7,521.1 149.2,521.6 149.4,520.6 149.6,519.6 149.7,518.6 150.1,518.8 150.6,519.0 150.2,519.6 150.0,518.7 150.2,518.4 150.6,518.1 150.6,519.4 150.4,520.7 150.4,522.0 150.3,521.9 150.3,521.8 150.3,521.6 150.5,522.6 150.9,523.5 151.2,524.4 151.3,524.3 151.2,524.3 151.5,524.2 151.5,525.6 151.5,527.0 151.5,528.4 151.6,528.0 151.7,527.6 152.0,527.2 152.2,528.4 152.4,529.5 152.0,530.7 152.1,530.3 152.1,529.9 151.9,529.6 152.2,531.1 152.6,532.7 152.8,534.2 152.6,533.9 152.9,532.4 153.5,531.0 153.4,531.4 153.4,531.8 153.8,532.4 153.9,531.2 154.2,530.1 154.3,528.9 154.5,528.9 155.1,529.1 155.2,529.0 155.3,527.9 155.5,526.7 155.9,525.6 155.8,526.0 155.9,526.2 156.4,527.7 156.4,527.1 156.5,526.6 156.6,526.0 156.9,527.3 157.4,528.6 157.4,530.0 157.5,529.9 157.7,529.7 157.9,529.6 157.6,530.8 157.3,532.0 157.0,533.3 157.3,533.1 157.6,533.0 157.8,532.8 157.8,534.1 157.9,535.3 157.9,536.6 158.0,536.2 158.4,535.8 158.7,535.4 158.9,536.6 159.0,537.8 159.2,538.9 159.3,537.9 159.7,536.9 160.2,535.8 160.1,535.8 160.4,535.9 160.6,536.0 160.6,534.9 160.2,533.7 160.1,532.6 160.2,532.8 160.4,533.0 160.4,533.1 160.5,531.6 160.6,530.0 160.7,528.5 160.7,529.1 161.1,529.8 161.4,530.1 161.7,530.1 161.6,529.9 161.8,529.6 162.0,530.7 162.3,531.7 162.6,532.7 162.5,532.4 162.2,532.2 162.0,531.9 162.0,533.2 162.2,534.5 161.9,535.9 162.6,535.7 163.0,535.5 163.3,535.4 163.4,536.6 163.3,537.9 163.1,539.1 163.3,538.8 163.6,538.4 163.6,538.2 163.7,539.6 163.9,541.0 164.2,542.3 164.0,542.1 163.9,541.7 163.9,541.4 164.2,542.6 164.6,543.8 164.8,545.1 164.7,544.7 164.8,544.3 165.0,543.9 165.3,545.3 165.8,546.6 166.3,547.9 166.0,547.8 165.8,547.6 165.8,547.4 166.4,548.5 166.9,549.6 167.4,550.7 167.6,550.3 168.0,549.8 168.4,549.4 168.2,550.9 168.1,552.4 168.4,552.8 168.4,551.6 168.5,550.3 168.6,549.1 168.5,549.2 168.6,549.4 168.9,549.5 168.9,548.5 168.8,547.5 168.9,546.5 169.0,546.5 169.0,546.4 168.8,546.3 168.7,545.1 168.6,543.9 168.4,542.7 168.4,543.0 168.7,543.3 168.9,543.6 169.0,542.5 169.3,541.3 169.9,540.2 169.9,540.6 169.8,541.0 170.1,541.4 169.7,539.8 169.3,538.1 169.2,536.4 169.5,536.8 169.5,537.1 169.5,537.4 169.6,536.2 169.8,535.0 169.9,533.8 170.0,534.1 170.3,534.4 170.7,534.7 170.3,533.5 169.8,532.4 169.5,531.2 169.9,531.3 170.3,531.2 170.1,532.4 170.4,532.3 170.6,532.2 170.7,532.1 170.8,533.2 170.8,534.4 170.8,535.6 171.0,535.4 171.3,535.1 171.3,534.9 171.4,536.1 171.5,537.3 171.4,538.5 171.1,538.1 171.1,537.8 170.8,537.5 170.8,538.8 171.1,540.0 171.3,541.3 171.2,541.3 171.3,541.3 171.3,541.3 171.1,542.7 171.2,544.1 171.3,545.4 171.1,545.0 171.3,544.5 171.4,544.0 171.9,545.3 172.4,546.6 172.6,547.9 172.6,547.5 172.4,547.2 172.0,546.9 172.0,548.0 171.8,549.1 171.6,550.2 171.9,550.2 172.4,550.0 172.6,549.7 172.3,550.1 172.2,550.2 172.2,550.4 172.4,549.3 172.3,548.2 172.4,547.1 172.9,547.5 173.5,548.0 173.6,548.4 173.6,546.7 173.6,545.1 173.7,543.4 173.3,543.7 173.0,543.9 172.8,544.2 173.1,543.2 173.0,542.1 173.0,541.1 173.1,541.1 173.5,541.2 174.0,541.3 173.6,540.2 173.6,539.0 173.8,537.9 173.7,538.3 173.4,538.7 173.4,539.2 173.8,537.8 174.2,536.4 174.4,535.1 174.5,535.4 174.5,535.6 174.3,535.9 173.9,534.7 174.2,533.6 174.0,532.4 173.7,532.4 173.6,532.3 173.8,532.3 173.9,531.2 174.1,530.1 174.6,529.0 174.7,529.1 174.9,529.2 174.8,529.4 174.5,528.2 174.6,527.2 174.3,526.0 174.2,526.2 174.3,526.3 174.3,526.5 174.6,525.5 174.9,524.5 175.2,523.5 175.3,523.5 175.6,523.6 175.6,523.7 175.3,522.6 175.1,521.5 175.2,520.3 175.5,521.6 175.5,522.7 175.5,523.9 175.6,523.5 175.6,523.1 175.4,522.7 175.5,524.1 175.8,525.6 175.9,527.0 176.1,526.6 176.3,526.3 176.5,525.9 176.2,527.1 176.3,528.2 176.3,529.3 176.4,529.1 176.6,529.0 176.6,528.8 176.7,530.0 176.7,531.2 176.7,532.5 177.1,532.3 177.2,532.1 177.3,532.0 177.3,533.3 177.2,534.6 177.2,535.9 177.2,535.5 177.1,535.2 177.3,534.8 177.3,536.1 177.2,537.4 177.0,538.8 177.1,538.7 177.5,538.5 177.5,538.4 177.5,539.8 177.5,541.2 177.2,542.6 177.3,542.2 177.5,541.8 177.6,541.4 177.7,542.6 177.8,543.8 178.2,544.9 178.5,544.4 178.9,543.8 179.1,543.3 179.0,545.1 179.1,546.7 179.3,548.3 179.4,547.9 179.9,547.3 180.2,546.8 180.5,547.8 180.7,548.7 180.7,549.8 181.2,549.7 181.4,549.5 181.4,548.6 181.7,549.0 182.0,549.5 182.3,549.9 182.4,548.6 182.8,547.3 182.9,546.0 183.0,546.0 183.0,546.0 183.1,546.0 183.3,544.6 183.4,543.2 183.6,541.8 184.0,542.4 184.5,543.1 185.1,543.8 185.1,542.4 185.1,541.0 184.9,539.5 185.4,539.9 185.9,540.4 186.4,540.8 185.9,539.9 186.1,539.5 186.4,539.4 186.8,540.4 187.3,541.3 187.9,542.2 188.3,541.6 188.6,541.1 188.7,540.6 189.1,542.0 189.4,543.5 189.6,545.0 189.4,544.9 189.3,544.9 189.5,544.7 189.7,545.8 189.9,546.8 190.2,547.8 190.3,547.7 190.8,547.5 191.1,547.4 190.8,548.7 190.5,550.0 190.3,551.2 190.5,551.0 190.7,550.8 191.1,550.6 191.0,551.8 191.4,552.9 191.8,553.9 192.0,553.5 192.2,553.1 192.1,552.8 192.4,554.1 192.9,555.4 193.2,556.7 193.0,556.5 192.7,556.2 192.4,555.9 192.7,557.2 192.9,558.5 193.3,559.7 193.5,559.3 193.6,558.9 193.5,558.5 193.7,559.8 193.7,561.1 193.8,562.4 194.0,562.3 194.0,562.2 194.1,562.1 194.4,563.1 194.7,564.2 194.7,565.3 194.5,565.1 194.2,564.9 193.9,564.7 194.4,565.9 194.6,567.2 194.9,568.5 195.1,568.4 195.4,568.3 195.3,568.2 195.1,569.5 195.1,570.8 195.1,572.1 195.2,571.7 195.3,571.3 195.5,570.9 195.6,572.1 195.4,573.3 195.7,574.4 195.9,574.1 195.9,573.9 195.9,573.6 196.3,574.7 196.5,575.8 196.7,577.0 197.0,577.0 196.9,577.0 197.2,577.0 197.3,578.3 197.0,579.4 196.9,580.0 197.1,578.7 197.2,577.4 197.4,576.1 197.5,576.4 197.6,576.7 198.0,577.0 198.3,575.6 198.3,574.1 198.3,572.5 198.4,572.8 198.4,573.1 198.3,573.3 198.4,572.2 198.6,571.1 198.5,570.0 198.5,570.1 199.0,570.3 199.1,570.5 199.0,569.3 199.0,568.2 199.1,567.1 199.0,567.2 198.8,567.2 199.3,567.4 199.8,566.4 200.5,565.6 201.0,564.6 201.4,565.0 201.8,565.4 202.1,565.6 202.3,564.4 202.4,563.0 202.4,561.6 202.5,561.9 202.8,562.2 203.2,562.6 203.4,561.5 203.5,560.4 203.6,559.4 203.4,559.7 203.2,560.0 203.2,560.3 203.5,558.8 203.8,557.3 204.1,555.8 204.2,556.4 204.0,556.9 204.2,557.6 204.4,556.4 204.5,555.1 204.6,553.9 204.9,553.9 204.9,553.8 205.1,553.7 205.1,552.5 205.0,551.2 205.2,550.0 204.9,550.6 204.7,551.1 204.7,551.6 204.7,550.0 205.1,548.5 205.5,547.0 205.5,547.6 205.7,548.2 205.7,548.8 205.7,547.4 205.7,546.1 205.9,544.5 206.3,545.7 206.4,546.8 206.5,547.9 206.8,547.9 206.9,548.0 207.4,547.9 207.4,548.9 207.4,550.0 207.6,551.0 207.8,550.9 208.1,550.9 208.6,549.5 208.6,549.7 208.0,549.7 207.7,549.8 208.1,548.6 208.2,547.4 209.0,546.3 208.9,546.8 208.9,547.4 209.0,547.9 208.8,546.6 208.6,545.2 208.5,543.9 208.7,543.9 208.8,544.0 208.8,544.0 208.6,543.0 208.5,541.9 208.4,540.8 208.4,540.9 208.4,541.0 208.5,541.1 209.0,539.7 209.4,538.3 209.5,537.0 209.5,537.3 209.6,537.6 209.5,538.0 209.1,536.9 209.0,535.9 209.0,534.8 208.9,535.0 209.0,535.3 208.9,535.5 209.0,534.3 209.1,533.2 209.7,532.0 209.8,532.3 209.7,532.5 209.6,532.7 210.1,531.4 210.3,530.1 210.5,528.7 210.2,529.0 209.8,529.3 209.3,529.6 209.6,528.1 210.0,526.6 210.4,525.0 210.4,525.6 210.0,526.1 209.9,526.7 210.1,525.3 210.1,523.8 210.3,522.4 210.5,522.7 210.7,523.0 210.7,523.2 210.5,522.0 210.4,520.8 210.1,519.6 210.2,520.0 210.9,520.4 211.0,520.7 211.0,519.4 211.1,518.0 210.7,516.6 210.8,516.9 210.8,517.0 211.1,518.3 211.1,517.8 211.5,517.4 211.4,517.0 211.1,518.3 211.0,519.5 211.0,520.8 210.8,520.6 210.8,520.5 210.8,520.3 210.7,521.7 211.2,523.0 211.3,524.3 211.3,524.1 211.6,524.0 211.8,523.8 211.7,525.1 211.4,526.4 211.1,527.7 211.4,527.5 211.3,527.3 211.2,527.2 211.3,528.3 211.6,529.4 211.9,530.6 211.8,530.2 211.8,529.8 211.9,529.5 211.8,530.8 212.1,532.1 212.3,533.4 212.1,533.1 212.3,532.7 212.2,532.3 212.2,533.8 212.3,535.3 212.3,536.8 212.2,536.4 211.9,536.1 211.5,535.8 211.8,536.9 212.1,538.1 212.6,539.2 212.6,538.9 212.4,538.6 212.4,538.2 212.5,539.5 212.3,540.9 212.1,542.2 212.3,542.1 212.5,542.1 212.7,542.0 212.7,543.3 212.8,544.5 212.8,545.7 212.7,545.2 212.6,544.8 212.3,544.3 212.4,545.7 212.6,547.0 213.1,548.2 213.2,547.8 213.5,547.3 213.6,546.9 214.2,548.3 214.6,549.7 214.9,551.2 215.2,550.6 215.3,550.1 215.4,549.6 215.7,551.0 215.9,552.3 216.5,553.0 217.0,551.9 217.4,550.6 217.7,549.3 218.1,549.8 218.5,550.5 219.4,551.0 219.9,551.2 219.9,551.0 220.0,550.7 219.9,551.9 219.6,553.0 219.9,554.1 219.7,553.7 219.5,553.4 219.4,553.1 219.6,554.3 219.9,555.5 220.2,556.8 220.2,556.7 220.1,556.6 220.1,556.5 220.1,557.6 219.9,558.7 219.8,559.9 220.0,559.7 220.4,559.5 220.5,559.4 220.3,560.8 220.3,562.3 219.9,563.7 219.8,563.5 219.8,563.2 219.8,562.9 220.2,564.5 220.8,564.2 220.8,564.2 220.7,563.0 220.9,561.8 220.9,560.6 221.3,561.1 221.7,561.7 221.8,562.1 222.0,560.6 222.3,559.1 222.6,557.5 222.7,558.1 222.8,558.7 222.9,559.2 223.1,557.9 223.3,556.5 223.3,555.2 223.5,555.6 223.6,556.0 223.6,556.4 223.8,555.1 224.0,553.8 223.6,553.0 223.3,553.8 223.7,555.1 223.7,556.5 223.9,556.0 224.1,555.4 224.3,554.8 224.5,556.3 224.7,557.9 225.0,559.3 225.1,559.0 224.8,558.7 225.0,558.3 225.0,559.8 224.9,561.3 225.0,562.7 225.3,562.3 225.4,562.0 225.6,561.6 225.9,562.8 225.7,564.1 226.0,565.3 225.9,564.5 225.7,563.2 225.7,561.6 225.8,562.2 225.8,562.7 225.8,563.3 226.1,562.0 226.5,560.7 226.6,559.4 226.9,559.8 227.4,560.3 227.6,560.7 227.5,559.3 227.4,557.9 227.1,556.4 227.2,556.8 227.6,557.3 227.8,557.8 227.9,556.2 227.9,554.5 228.1,552.9 228.5,553.4 228.8,553.8 229.1,554.2 229.1,552.8 228.9,551.3 228.6,549.8 228.7,550.2 228.7,550.6 228.5,550.9 228.5,549.8 228.8,548.8 229.1,547.7 229.0,548.0 229.2,548.4 229.5,548.7 229.4,547.3 229.4,545.8 229.3,544.4 229.6,544.5 230.0,544.6 230.7,544.8 230.5,543.8 230.2,542.7 229.9,541.7 230.0,542.0 230.4,542.3 230.8,542.3 231.3,542.2 231.2,541.9 231.5,541.5 231.6,542.9 231.5,544.4 231.4,545.8 231.3,545.3 231.5,544.7 231.6,544.2 231.7,545.6 231.9,547.1 232.1,548.5 232.0,548.3 232.1,548.1 232.2,547.9 232.1,549.0 232.1,550.0 232.2,551.1 232.1,550.7 231.8,550.3 231.8,549.9 231.9,551.5 232.1,553.1 232.5,554.7 232.5,554.2 232.6,553.7 232.6,553.1 232.6,554.3 232.7,555.5 233.0,556.7 232.7,556.7 232.5,556.7 232.3,556.7 232.1,558.1 232.3,559.5 232.5,560.8 232.5,560.2 232.4,559.6 232.4,559.0 232.6,560.4 232.7,561.8 233.0,563.2 233.0,562.8 233.1,562.4 233.4,562.1 233.6,563.3 233.5,564.6 233.6,565.8 233.8,565.6 233.7,565.5 233.9,565.3 234.0,566.5 234.1,567.8 234.1,569.0 234.1,568.7 234.0,568.5 234.2,568.2 234.3,569.4 234.0,570.7 234.1,572.0 234.4,571.7 234.6,571.4 234.8,571.1 234.9,572.4 234.9,573.6 234.7,574.9 234.6,574.8 234.8,574.8 234.7,574.7 234.9,575.8 235.2,577.0 235.4,578.1 235.3,578.0 235.4,577.8 235.5,577.7 235.7,579.0 236.0,580.2 236.4,581.5 236.5,581.0 236.5,580.6 236.7,580.2 236.5,581.8 236.3,583.4 236.2,585.0 236.2,584.4 236.3,583.8 236.5,583.2 236.5,584.8 236.4,586.4 236.3,588.0 236.5,587.7 236.6,587.4 237.0,587.4 237.0,587.0 236.9,587.0 236.8,587.0 236.9,585.8 236.9,584.5 237.2,583.4 237.5,583.9 237.8,584.4 238.2,585.0 237.8,583.3 237.8,581.7 237.7,580.1 238.2,580.7 238.6,581.3 239.1,581.9 238.7,580.6 238.3,579.2 238.2,578.0 238.6,578.0 238.9,578.1 239.3,578.2 239.4,577.1 239.4,576.0 239.7,575.0 239.6,575.2 239.3,575.4 239.2,575.7 239.4,574.4 239.6,573.2 239.7,571.9 239.9,572.4 240.1,572.8 240.3,573.3 240.3,571.9 240.2,571.3 240.4,570.8 240.8,572.1 241.1,573.4 241.4,574.8 241.6,574.6 241.6,574.5 241.4,574.5 241.3,575.5 241.3,576.5 241.2,577.6 241.5,577.3 241.8,577.0 242.0,576.7 242.2,577.8 242.3,579.0 242.4,580.1 242.7,580.0 243.3,579.8 243.6,579.7 243.3,580.9 243.1,582.0 243.2,583.1 243.4,582.8 243.5,582.6 243.6,582.3 243.7,583.8 243.8,584.6 243.6,585.1 243.8,583.6 244.1,582.1 244.1,580.6 244.3,580.8 244.3,581.0 244.3,581.2 244.3,580.1 244.5,579.0 244.7,577.9 244.8,577.9 244.8,577.9 244.7,577.9 245.0,576.8 245.0,575.5 244.8,574.3 245.3,574.7 245.3,575.0 245.4,575.4 245.6,574.2 245.7,573.0 245.5,571.8 245.5,572.0 245.3,572.2 244.9,572.3 245.4,571.2 245.6,570.2 245.9,569.1 245.8,569.2 245.9,569.3 246.4,570.4 246.4,570.3 246.5,570.2 246.7,570.0 246.9,571.1 246.9,572.2 247.0,573.2 247.2,573.0 247.2,572.9 247.4,572.7 247.6,574.1 247.7,575.5 247.7,577.0 247.6,576.4 247.8,575.7 248.1,575.0 248.3,576.4 248.3,577.8 248.6,579.2 248.7,578.8 248.7,578.4 248.8,578.1 249.0,579.5 249.0,581.0 248.9,582.6 249.2,582.0 249.2,581.6 249.5,581.1 249.6,582.7 249.5,584.3 249.6,585.9 249.8,585.6 250.2,585.2 250.7,584.8 250.4,586.0 250.3,587.0 250.5,587.3 250.9,586.2 251.4,585.3 251.6,584.2 251.7,584.4 252.0,584.6 252.1,584.7 252.3,583.7 252.5,582.6 252.5,581.4 252.7,581.4 253.2,581.6 253.5,581.6 253.5,580.2 253.7,578.9 253.8,577.5 253.8,578.0 254.0,578.5 254.1,579.1 254.3,577.5 254.6,575.9 255.1,574.5 255.3,575.1 255.4,575.7 255.7,576.3 256.0,575.2 256.2,574.0 256.5,572.9 256.9,573.2 257.3,573.6 257.7,573.9 257.8,572.5 257.9,571.1 258.3,569.8 258.3,570.1 258.3,570.3 258.5,570.6 259.2,569.3 259.5,569.3 259.7,568.9 259.7,570.0 259.5,571.1 259.5,572.2 259.4,572.2 259.3,572.3 259.5,572.3 259.7,573.6 259.6,575.0 259.5,576.3 259.9,575.8 260.0,575.4 260.1,574.9 260.3,576.3 260.5,577.7 260.6,579.1 260.5,578.7 260.6,578.2 260.7,577.8 260.5,579.3 260.5,580.7 260.6,582.2 260.7,581.5 260.9,580.9 260.7,580.3 260.7,581.6 260.8,582.9 260.9,584.2 261.3,584.2 261.6,584.3 262.1,584.3 262.1,585.2 261.9,586.3 262.3,587.2 262.5,587.1 262.6,587.0 262.7,587.0 262.2,588.4 261.9,589.8 261.8,591.2 262.1,590.5 262.1,590.0 262.6,589.7 263.0,589.9 263.1,590.5 263.2,591.0 263.1,589.5 263.1,587.9 263.2,586.4 263.6,587.0 263.8,587.4 264.0,587.9 264.1,586.5 264.2,585.2 264.5,583.9 264.6,584.0 264.5,584.1 264.2,584.1 264.6,582.9 265.3,581.9 265.6,580.7 265.7,581.1 265.9,581.6 266.0,582.1 266.1,580.9 266.5,579.8 266.8,578.6 266.7,578.6 267.1,578.7 266.8,579.3 266.5,578.7 267.0,578.4 267.5,578.1 267.9,579.3 268.2,580.5 268.4,581.8 268.6,581.3 268.8,580.8 269.2,580.2 269.5,581.4 269.7,582.6 269.9,584.0 270.1,583.9 270.3,583.7 270.7,583.5 270.8,584.9 271.3,586.0 271.7,587.1 271.8,587.0 272.2,586.7 272.6,586.3 273.0,587.5 273.3,588.8 273.3,590.2 273.6,589.8 273.9,589.3 274.4,589.0 274.3,589.0 274.2,589.3 274.0,589.6 274.3,588.3 274.8,587.0 275.4,585.8 275.4,586.1 275.3,586.4 275.3,586.7 275.4,585.5 275.2,584.3 275.1,583.0 275.3,583.2 275.4,583.4 275.5,583.6 275.7,582.5 275.8,581.3 275.9,580.2 276.1,580.5 275.8,580.8 275.6,581.1 275.8,579.8 276.1,578.6 275.9,577.3 275.7,577.4 275.8,577.5 276.0,577.6 276.1,576.2 276.2,574.9 276.4,573.5 276.5,573.7 276.4,573.8 276.5,574.0 276.7,573.0 276.8,572.0 277.2,571.0 277.4,571.1 277.7,571.3 278.0,571.5 277.9,570.4 278.1,569.3 278.3,568.2 278.6,568.5 278.8,568.7 279.2,568.9 279.2,567.6 279.2,566.3 279.2,565.0 279.8,565.6 279.8,566.0 280.0,566.4 280.0,564.8 280.4,564.3 280.6,563.7 280.1,565.0 279.7,566.3 279.4,567.6 279.7,567.3 279.9,567.0 280.0,566.7 279.8,568.3 279.7,569.9 279.7,571.5 279.9,571.3 280.1,571.1 280.1,570.9 280.3,571.9 280.3,572.9 280.3,573.9 280.7,573.7 281.0,573.4 280.9,573.2 280.6,574.4 280.5,575.5 280.2,576.7 280.1,576.7 280.0,576.8 280.0,576.8 280.4,578.0 280.6,579.2 280.8,580.3 280.6,580.0 280.4,579.7 280.7,579.4 280.8,580.7 280.8,582.0 280.7,583.2 280.7,583.1 280.7,582.9 280.7,582.7 280.7,583.7 280.6,584.8 280.4,585.8 280.7,585.6 281.1,585.4 281.1,585.3 281.1,586.6 281.4,587.9 281.7,589.2 281.6,589.0 281.6,588.8 281.3,588.6 281.3,589.9 281.3,591.3 281.4,592.6 281.4,592.2 281.7,591.7 282.0,591.2 281.7,592.5 281.7,593.8 281.4,595.0 281.5,594.9 281.7,594.8 281.7,594.7 282.0,596.0 282.1,597.2 282.1,598.4 282.2,598.2 282.3,598.0 282.1,597.8 281.9,598.9 282.0,600.0 281.5,601.1 281.5,600.7 281.7,600.2 281.9,599.8 282.1,601.5 282.1,603.2 282.2,604.9 282.4,604.5 282.4,604.2 282.1,603.9 282.0,605.0 282.2,606.3 282.6,606.2 282.4,604.8 282.6,603.4 282.7,602.0 282.5,602.3 282.5,602.8 282.2,603.1 282.3,602.0 282.4,600.8 282.6,599.7 282.7,600.0 283.0,600.3 283.1,600.6 282.8,599.0 282.8,597.5 282.9,596.0 283.0,596.6 283.2,597.2 283.1,597.8 283.2,596.5 283.4,595.3 283.6,594.0 283.3,593.9 283.5,593.8 283.5,593.8 283.6,592.5 283.7,591.2 283.8,589.9 283.8,590.2 284.1,590.5 284.5,590.9 284.3,589.7 284.5,588.5 284.6,587.2 284.7,587.6 284.9,588.0 285.0,588.3 285.3,587.3 285.5,586.2 285.6,585.2 285.8,585.3 285.7,585.5 285.8,585.6 285.7,584.2 285.6,582.7 285.4,581.3 285.6,581.3 286.0,582.7 286.0,583.9 285.8,583.6 286.0,583.4 286.0,583.1 286.0,584.4 286.2,585.6 286.2,586.9 286.3,586.7 286.6,586.5 286.6,586.4 286.5,587.5 286.4,588.7 286.4,589.8 286.7,589.6 286.5,589.4 286.6,589.2 286.6,590.7 286.7,592.2 286.8,593.6 286.9,593.4 287.0,593.3 287.2,593.0 287.3,594.3 287.3,595.5 287.5,596.7 287.6,596.3 287.6,595.9 287.7,595.5 287.9,596.7 288.1,597.9 288.1,599.1 288.1,599.0 288.3,598.8 288.4,598.6 288.3,599.7 288.6,600.8 288.9,602.0 289.4,600.9 289.8,599.8 289.9,598.7 290.0,598.8 290.0,598.8 289.9,598.9 290.1,597.9 290.1,596.9 290.3,595.9 290.5,596.1 290.6,596.2 291.0,596.4 290.9,595.1 290.7,593.7 290.7,592.4 291.3,593.0 291.7,593.5 292.1,594.0 292.2,592.8 292.3,591.6 292.2,590.4 292.2,590.6 292.2,590.8 292.4,591.1 293.0,589.9 293.1,588.6 293.3,587.4 293.3,587.8 293.2,588.8 293.5,589.9 293.8,589.4 294.1,589.0 294.4,588.6 294.8,589.7 295.2,590.9 295.6,592.0 296.0,591.8 296.2,591.7 296.4,591.6 296.7,592.7 296.5,593.0 296.2,593.2 296.7,592.0 296.8,590.6 297.0,589.4 297.2,589.8 297.1,590.2 297.1,590.6 297.4,589.1 297.7,587.6 298.1,586.1 298.0,586.4 297.8,586.6 297.5,586.9 297.6,585.8 297.7,584.8 298.1,583.8 298.6,584.0 298.9,584.2 299.2,584.4 299.2,583.1 299.2,581.8 299.3,580.5 299.1,580.6 298.9,580.8 298.8,580.9 298.9,580.0 299.3,579.1 299.1,578.0 299.5,578.2 300.0,578.4 300.2,578.5 300.0,577.7 299.7,577.0 300.0,576.8 300.2,578.1 300.6,579.3 300.6,580.6 300.5,580.1 300.5,579.5 300.3,579.0 300.3,580.2 300.1,581.5 299.9,582.8 299.9,582.6 300.4,582.3 300.4,582.1 300.4,583.7 300.7,585.3 300.8,586.9 300.8,586.3 300.9,585.6 300.9,585.0 300.8,586.6 301.1,588.2 301.0,589.9 300.6,589.3 300.4,588.7 300.3,588.1 300.6,589.4 300.9,590.8 300.9,592.1 301.1,591.7 301.4,591.3 301.6,590.9 301.4,592.5 301.2,594.2 301.2,595.8 301.2,595.5 301.0,595.2 300.8,594.9 301.1,596.0 301.4,597.2 301.7,598.4 301.8,598.3 301.8,598.2 301.8,598.0 301.8,599.1 301.8,600.1 301.7,601.1 301.6,601.1 301.6,601.1 301.6,601.1 301.7,602.1 301.9,603.2 302.2,604.2 302.1,604.1 301.9,603.9 302.2,603.7 302.0,604.9 302.0,606.1 302.1,607.3 301.9,606.9 301.9,606.5 302.0,606.2 302.3,607.5 302.6,608.8 303.0,610.1 302.9,610.0 302.8,609.9 302.9,609.8 302.8,610.9 303.0,612.0 303.1,613.0 303.1,612.9 303.0,612.9 303.1,612.8 302.8,614.1 302.5,615.4 302.3,616.8 302.3,616.4 302.5,616.0 302.7,615.6 302.7,616.7 302.7,617.9 302.7,619.0 302.8,619.0 303.0,619.0 303.6,619.0 303.5,619.9 303.6,620.9 303.3,621.4 303.2,620.7 303.3,619.6 303.1,618.4 303.3,618.7 303.7,619.1 304.0,619.4 304.2,618.2 304.3,617.0 304.4,615.8 304.6,615.8 304.6,615.8 304.7,615.8 304.5,614.7 304.2,613.7 304.0,612.6 304.4,613.1 304.8,613.5 305.1,613.8 305.5,612.3 305.5,610.7 305.6,609.1 305.4,609.5 305.3,609.9 305.3,610.3 305.3,608.9 305.3,607.5 305.4,606.1 305.8,606.5 306.2,606.9 306.5,607.2 306.3,605.9 306.1,604.6 305.7,603.2 306.0,603.4 306.5,603.6 306.6,603.8 306.7,602.6 306.9,601.4 307.1,600.3 307.0,600.6 306.8,601.0 307.0,601.4 307.2,600.2 307.3,598.9 307.5,597.7 307.5,597.8 307.5,598.0 307.3,598.1 307.3,596.8 307.4,595.5 307.2,594.2 307.3,594.3 307.5,594.6 307.8,594.8 307.9,593.6 308.1,592.4 308.2,591.2 308.3,591.5 308.5,591.9 308.5,592.2 308.5,591.0 308.7,589.9 308.6,588.6 308.7,589.0 309.1,589.5 309.7,589.9 309.6,588.7 309.6,587.5 309.6,586.3 309.8,586.1 310.0,586.0 310.1,585.9 310.0,584.9 310.0,583.8 310.2,582.9 310.0,583.0 310.3,584.2 310.7,585.3 310.8,585.2 310.7,585.1 310.8,584.9 310.9,586.1 311.0,587.4 310.7,588.6 310.4,588.2 310.3,587.8 310.3,587.4 310.5,588.6 310.7,589.7 310.9,590.9 310.7,590.7 310.4,590.6 310.2,590.4 310.4,591.8 310.5,593.2 310.4,594.6 310.7,594.2 310.7,593.9 310.7,593.6 310.6,594.9 310.7,596.2 310.8,597.5 311.0,597.2 311.3,596.8 311.6,596.4 312.0,597.5 311.9,598.7 311.8,599.9 311.7,600.0 311.5,600.1 311.4,600.2 311.3,601.1 311.3,602.0 311.4,603.0 311.3,602.8 311.3,602.6 311.4,602.4 311.8,603.7 312.4,605.0 312.7,606.3 312.6,605.9 312.5,605.6 312.6,605.2 312.8,606.8 312.6,608.3 312.3,609.9 312.5,609.7 312.4,609.4 312.3,609.2 312.5,610.5 312.7,611.7 312.8,612.9 312.8,612.6 312.6,612.3 312.3,612.0 312.3,613.2 312.6,614.4 312.8,615.6 312.8,615.2 312.7,614.8 312.8,614.3 312.8,615.9 312.8,617.5 312.6,619.1 313.2,618.5 313.4,617.9 313.3,617.1 313.4,617.7 313.7,618.1 314.0,618.5 313.8,617.1 313.6,615.7 313.4,614.3 313.8,614.8 314.0,615.2 314.3,615.7 314.5,614.3 314.7,612.9 314.8,611.4 314.6,611.9 314.6,612.5 314.5,613.0 314.7,611.5 314.8,610.1 314.8,608.6 314.9,608.9 315.3,609.4 315.6,609.8 315.6,608.6 315.6,607.4 315.7,606.2 315.6,606.2 315.4,606.2 315.3,606.2 315.5,605.1 315.5,603.9 315.6,602.7 316.0,603.2 316.5,603.6 316.9,604.1 316.6,602.6 316.5,601.0 316.4,599.5 316.8,599.9 316.7,600.2 316.8,600.5 317.1,599.5 317.2,598.5 317.4,597.5 317.7,597.6 317.9,597.8 318.0,597.9 317.8,596.4 317.8,595.0 317.9,593.5 317.9,594.0 318.2,594.5 318.4,595.0 318.5,593.8 318.5,592.6 318.9,591.5 318.9,591.7 319.1,592.0 319.3,592.4 319.5,590.8 319.6,589.2 319.8,587.7 319.9,587.9 320.0,588.2 320.2,588.4 320.3,587.5 320.4,586.6 320.7,585.7 320.8,585.8 321.1,586.1 321.4,586.3 321.7,584.9 321.9,583.6 321.9,582.1 321.8,582.6 321.6,583.1 321.2,583.5 321.8,582.1 322.1,580.7 322.4,579.3 322.2,579.8 322.6,581.0 322.7,582.4 322.9,581.9 323.2,581.4 323.3,580.9 323.1,582.2 322.8,583.4 322.7,584.7 322.8,584.4 322.7,584.2 322.9,584.0 323.2,585.2 323.6,586.4 323.7,587.6 323.7,587.4 323.5,587.2 323.5,587.1 323.7,588.5 323.6,590.0 323.5,591.5 323.5,591.2 323.4,590.9 323.6,590.6 323.7,591.7 323.9,592.7 324.3,593.7 324.1,593.5 323.8,593.3 323.6,593.1 324.1,594.6 324.4,596.1 324.9,597.6 324.7,597.3 324.5,597.0 324.5,596.6 324.7,597.8 324.6,599.0 324.5,600.1 324.7,600.0 325.0,599.8 325.2,599.6 325.4,600.9 325.6,602.2 325.3,603.5 325.2,603.3 325.2,603.0 325.2,602.7 325.0,604.0 325.3,605.2 325.1,606.5 325.6,606.4 325.9,604.8 325.8,603.3 325.9,603.4 326.0,603.6 326.3,603.8 326.6,602.8 327.0,601.9 327.1,600.8 327.5,601.3 328.2,601.9 328.3,602.3 328.3,600.8 328.1,599.4 327.9,597.9 328.6,598.4 328.9,598.8 329.3,599.3 329.6,597.7 329.9,596.1 330.0,594.4 330.2,594.9 330.5,595.3 330.9,595.9 330.8,594.4 330.9,592.9 331.1,591.3 331.3,592.8 331.4,594.1 331.3,595.4 331.3,595.2 331.4,594.9 331.6,594.7 331.8,596.3 331.7,598.0 331.5,599.7 331.4,599.3 331.7,598.9 331.8,598.5 332.0,599.6 332.3,600.8 332.6,601.9 332.6,601.5 332.6,601.1 332.5,600.7 332.9,602.2 333.1,603.7 333.3,605.2 333.5,604.6 333.8,604.0 333.5,603.5 333.4,605.0 333.4,606.5 333.4,608.0 333.5,607.7 333.6,607.5 333.7,607.2 333.9,608.5 334.1,609.8 334.3,611.1 334.5,610.9 334.7,610.6 334.9,610.3 334.7,611.6 334.4,612.9 334.4,614.2 334.6,613.7 334.5,613.2 334.6,612.7 334.9,614.2 335.2,615.7 335.4,617.1 335.5,616.8 335.4,616.6 335.4,616.3 335.7,617.6 336.0,618.9 336.3,620.2 336.3,619.6 336.4,619.0 336.0,618.4 336.3,619.8 336.3,621.2 336.1,622.6 336.0,622.4 336.2,622.0 336.4,621.7 336.7,623.2 337.1,624.8 337.0,626.4 337.3,625.8 337.4,625.2 337.3,624.7 337.3,625.9 337.4,627.1 337.4,628.3 337.5,628.0 337.3,627.7 337.6,627.4 337.9,628.8 338.2,630.1 338.4,631.5 338.3,631.3 338.5,631.0 338.6,630.8 338.8,631.9 339.0,633.0 339.1,634.2 339.0,634.0 338.9,633.8 338.9,632.5 338.8,633.0 338.8,633.6 339.0,634.1 338.9,632.8 338.9,631.5 338.6,630.2 338.6,630.2 338.7,630.2 338.6,630.2 338.9,629.0 339.3,627.9 339.7,626.8 339.9,627.2 339.5,627.6 339.5,628.0 339.5,626.5 339.6,625.0 339.3,623.4 339.4,623.8 339.5,624.2 339.7,624.6 339.9,623.1 340.1,621.7 340.3,620.2 340.2,620.6 340.3,621.0 340.0,621.4 340.0,620.0 340.2,618.7 340.2,617.3 340.5,617.8 340.8,618.2 341.0,618.7 340.9,617.5 341.0,616.3 341.2,615.1 341.2,615.4 341.1,615.7 341.1,616.0 341.2,614.4 341.1,612.8 341.2,611.2 341.5,611.7 341.4,612.1 341.3,612.6 341.3,611.0 341.5,609.5 341.4,607.9 341.4,608.2 341.5,608.6 341.4,608.9 341.4,607.6 341.4,606.3 341.3,604.9 341.3,605.6 341.4,606.2 341.7,606.9 341.7,605.5 341.8,604.2 342.0,602.8 341.9,602.8 341.9,602.9 341.8,602.9 342.1,601.8 342.2,600.7 342.0,600.8 342.5,602.0 342.9,603.2 343.2,604.5 343.7,603.9 343.8,603.5 344.1,603.0 344.4,604.1 344.5,605.4 344.5,606.7 344.5,606.6 344.5,606.6 344.2,606.7 344.4,608.0 344.9,609.2 345.3,610.4 345.6,610.0 346.1,609.6 346.4,609.3 346.6,610.5 346.8,611.6 346.9,612.8 346.7,612.4 346.7,611.3 346.8,610.0 347.2,610.2 347.5,610.4 347.6,610.6 347.7,609.5 348.0,608.4 348.1,607.2 348.0,607.5 348.0,607.9 348.0,608.3 348.4,607.0 348.7,605.7 349.2,604.4 349.4,604.9 349.4,605.3 349.6,605.8 349.6,604.3 349.6,602.8 349.6,601.3 350.1,601.9 350.5,602.5 350.0,603.6 349.8,602.3 350.4,601.6 350.7,601.0 350.8,602.2 351.0,603.4 350.9,604.6 351.3,604.6 351.3,604.6 351.3,604.7 351.3,606.1 351.1,607.5 350.9,608.9 351.0,608.2 351.4,607.5 351.6,606.8 351.8,608.3 352.2,609.8 352.6,611.3 352.7,610.9 352.3,610.6 352.2,610.3 352.4,611.4 352.6,612.6 353.2,613.6 353.2,613.3 353.0,613.0 352.8,612.9 353.5,614.3 354.1,615.6 354.6,617.1 354.7,616.6 355.1,615.9 355.3,615.3 355.7,616.5 356.1,617.6 356.4,618.8 357.0,618.3 357.3,618.1 357.9,617.9 358.3,617.9 358.4,618.0 358.8,618.2 358.9,617.0 359.0,615.8 358.9,614.5 359.0,614.9 359.0,615.2 359.0,615.5 359.3,614.5 359.2,613.3 359.4,612.2 359.6,612.5 359.8,612.9 360.1,613.3 360.4,611.8 360.4,610.3 360.4,608.7 360.6,609.1 360.9,609.5 361.1,609.9 361.3,608.7 361.6,607.5 361.4,606.1 361.5,606.3 361.8,606.5 362.0,606.6 362.2,605.4 362.6,604.4 363.2,603.4 363.5,603.8 363.6,604.1 363.9,604.5 364.3,603.4 364.7,602.4 365.1,601.4 365.7,601.9 366.0,602.2 366.4,602.4 366.7,601.3 366.7,601.0 366.7,600.7 366.9,602.1 367.1,603.5 367.4,604.9 367.4,604.4 367.5,604.0 367.6,603.5 367.8,604.9 368.2,606.3 368.5,607.7 368.4,607.4 368.2,607.0 367.8,606.7 368.3,608.1 368.5,609.6 368.6,611.1 368.7,610.8 368.9,610.4 369.0,610.1 369.1,611.4 369.1,612.7 369.4,613.9 369.4,613.4 369.6,612.8 370.0,612.2 369.9,613.6 369.7,615.1 369.6,616.6 369.6,616.2 369.6,615.9 369.7,615.5 370.2,616.8 370.5,618.2 370.6,619.5 370.5,619.4 370.1,619.4 369.8,619.3 370.3,620.4 370.6,621.4 370.8,622.5 371.0,622.1 371.1,621.7 371.0,621.4 371.1,622.5 370.9,622.8 370.9,623.0 371.4,622.0 371.8,621.0 372.4,620.0 372.4,620.3 372.2,620.6 372.5,621.0 372.7,619.6 372.9,618.2 373.0,616.7 373.0,617.0 372.9,617.3 373.1,617.6 373.4,616.3 373.3,614.8 373.4,613.4 373.3,613.9 373.2,614.4 373.1,614.9 373.3,613.5 373.5,612.0 373.8,610.5 374.1,610.9 374.3,611.3 374.9,611.7 374.8,610.4 374.7,609.0 374.5,607.6 374.7,607.8 374.8,608.0 374.8,608.1 374.9,607.0 375.0,605.9 375.4,604.8 375.6,605.3 375.6,606.7 375.6,608.1 375.6,607.8 375.7,607.5 375.7,607.2 375.6,608.6 375.5,609.9 375.7,611.3 375.9,610.9 376.2,610.5 376.2,610.2 376.4,611.6 376.5,613.0 376.6,614.4 376.6,613.8 376.3,613.3 376.2,612.8 376.3,614.2 376.3,615.6 376.5,617.0 376.6,616.5 376.8,616.0 376.9,615.5 376.4,617.2 376.3,618.8 376.2,620.4 376.5,620.0 376.8,619.5 377.1,619.1 377.3,620.2 377.4,621.3 377.6,622.4 377.5,622.4 377.4,622.4 377.2,622.3 377.1,623.6 377.1,624.8 377.3,626.1 377.6,625.9 377.7,625.7 377.5,625.5 377.6,626.6 377.4,627.7 377.2,628.8 377.4,628.8 377.6,628.8 377.5,628.9 377.8,630.1 377.8,630.0 377.9,630.1 377.9,628.8 378.0,627.6 378.2,626.3 378.2,626.7 378.3,627.1 378.4,627.5 378.3,626.2 378.4,624.8 377.8,623.5 378.4,623.6 378.9,623.8 379.3,624.0 378.7,622.8 378.2,621.7 377.9,620.6 378.5,620.8 378.9,621.0 379.5,621.3 379.4,620.1 379.2,618.8 379.0,617.5 379.0,617.7 379.2,617.8 379.4,618.0 379.3,616.9 378.7,615.7 378.5,614.6 379.1,614.6 379.5,614.6 379.7,614.6 379.4,613.5 379.4,612.5 379.3,611.4 379.4,611.5 379.1,611.5 379.1,611.5 379.6,610.4 380.1,609.3 380.3,608.1 380.2,608.4 380.0,608.7 380.0,609.0 380.2,607.9 380.3,606.9 380.5,605.8 380.4,605.9 380.4,605.9 380.5,606.0 380.8,605.0 380.9,603.9 380.9,602.9 380.8,602.8 380.6,602.7 380.6,602.6 380.8,601.5 381.1,600.4 381.1,599.3 381.2,599.5 381.1,599.7 380.7,599.9 380.8,598.7 380.8,597.6 380.8,596.4 380.8,596.8 381.0,597.1 380.9,597.4 381.0,596.2 381.1,595.0 381.1,593.8 381.0,593.7 380.9,593.6 380.9,593.5 381.6,592.6 382.0,591.6 382.1,590.7 382.1,590.8 382.2,590.9 382.1,591.0 382.3,589.8 382.3,588.6 382.3,587.4 382.5,587.7 382.4,587.9 382.3,588.2 382.3,587.0 382.3,585.7 382.7,584.6 382.5,584.6 382.2,584.7 382.3,585.8 381.8,585.5 381.7,585.1 381.6,584.7 382.1,586.1 382.7,587.5 383.0,588.9 383.1,588.5 383.1,588.2 382.8,587.9 383.0,589.2 383.0,590.5 383.0,591.9 383.2,591.6 383.3,591.4 383.6,591.1 383.5,592.4 383.4,593.7 383.5,595.0 383.3,594.9 383.2,594.8 383.1,594.6 383.3,595.7 383.2,596.7 383.2,597.8 383.0,597.4 382.9,597.1 383.0,596.7 383.3,598.1 383.3,599.6 383.2,601.0 383.2,600.7 383.2,600.3 383.1,600.0 383.4,601.5 383.8,602.9 384.3,604.4 384.2,603.8 384.2,603.3 384.3,602.7 384.3,604.2 384.4,605.7 384.2,607.2 384.4,606.9 384.9,606.5 384.9,606.1 384.9,607.4 385.0,608.6 384.9,609.9 385.0,609.7 384.8,609.5 384.7,609.4 384.7,610.5 384.6,611.6 384.6,612.7 384.5,612.7 384.6,612.6 384.8,612.6 384.7,613.6 384.8,614.7 385.2,615.7 385.4,615.4 385.0,615.2 385.1,615.0 385.5,616.4 385.8,617.9 385.7,619.4 385.6,619.0 385.4,618.5 385.0,618.1 385.2,619.4 385.5,620.8 385.7,622.1 385.8,621.8 385.9,621.5 386.1,621.2 386.5,622.6 386.7,624.1 386.7,625.5 386.4,625.1 386.4,624.7 386.1,624.3 386.2,625.7 386.3,627.1 386.5,628.5 386.6,628.0 386.6,627.5 386.3,627.0 386.6,628.3 386.9,629.5 387.1,630.8 386.8,630.6 386.7,630.4 386.4,630.2 386.7,631.7 387.0,633.1 387.0,634.5 386.9,634.2 387.0,633.9 387.2,633.5 387.3,634.6 387.3,635.8 387.4,636.9 387.6,636.8 387.9,636.6 388.0,636.5 388.1,637.8 388.1,639.0 387.8,639.9 387.5,639.1 387.5,638.0 387.7,636.8 388.0,636.7 388.3,636.7 388.3,636.5 388.0,635.5 388.0,634.5 388.1,633.6 388.1,633.6 388.0,633.6 388.1,633.6 388.6,632.6 388.9,631.5 389.2,630.4 389.0,630.6 388.7,630.9 388.5,631.1 388.8,630.0 388.8,628.8 388.7,627.7 389.0,627.9 389.6,628.1 389.9,628.3 389.6,626.8 389.4,625.3 389.4,623.9 389.7,624.2 390.0,624.6 390.2,624.9 390.1,623.7 389.9,622.5 389.9,621.3 390.2,621.4 390.4,621.5 390.7,621.6 390.4,620.6 390.1,619.6 389.9,618.7 390.0,618.9 390.2,619.1 390.3,619.3 390.5,617.8 390.9,616.5 391.2,615.1 391.1,615.3 390.8,615.4 390.5,615.6 390.7,614.4 390.8,613.1 390.9,611.8 391.0,612.0 391.2,612.2 391.4,612.4 391.5,611.3 391.7,610.1 392.0,608.9 392.1,609.5 392.2,610.0 392.2,610.6 392.1,609.0 391.7,607.4 391.9,605.9 392.1,606.3 392.1,606.6 392.1,607.0 391.7,605.5 391.8,604.0 391.9,602.6 392.3,603.1 392.9,603.6 393.2,604.0 393.0,602.5 393.0,601.1 392.8,599.6 392.4,600.2 392.3,600.7 392.3,601.3 392.7,600.0 392.9,598.7 393.0,597.3 393.0,597.4 393.1,597.4 393.0,597.4 393.1,596.3 393.5,595.3 393.9,594.3 394.0,594.7 394.1,595.0 394.2,595.2 394.4,594.1 394.7,593.0 395.2,592.0 395.4,592.1 395.6,592.2 395.6,592.2 396.0,591.1 396.5,590.0 396.9,588.9 397.1,589.1 397.2,589.3 397.2,589.5 397.2,588.4 397.3,587.4 397.0,586.3 397.3,586.4 397.6,586.6 397.9,586.7 397.9,585.5 398.1,584.3 398.1,583.1 398.6,583.5 399.0,583.9 399.6,584.7 400.1,583.9 400.6,583.0 401.2,582.1 401.7,582.2 402.2,582.3 402.6,583.2 402.6,583.3 402.6,583.5 402.7,583.6 402.8,584.5 403.0,585.4 403.3,586.3 403.6,586.2 404.0,586.1 404.2,586.0 404.3,587.2 404.4,588.4 404.6,589.5 404.7,589.1 404.7,588.7 404.7,588.3 404.9,589.7 404.9,591.1 404.9,592.6 405.1,592.5 405.5,592.3 405.9,592.2 405.9,593.3 405.8,594.4 406.0,595.4 406.1,595.0 405.9,594.6 405.8,594.3 406.1,595.9 406.5,597.4 407.1,598.9 407.2,598.4 407.1,597.9 407.4,597.4 407.3,598.6 407.4,599.7 407.6,600.9 408.1,600.9 408.2,601.0 408.3,601.1 408.0,602.4 407.8,603.7 407.6,605.0 407.8,604.7 408.1,604.5 408.5,604.2 408.8,605.2 409.2,606.2 409.6,607.2 409.7,606.8 409.6,606.6 409.7,606.3 409.7,607.8 409.8,609.3 410.0,610.8 410.4,610.5 410.4,610.4 410.5,610.2 410.8,611.4 411.0,612.6 411.2,613.8 411.1,613.6 410.9,613.5 410.9,613.3 411.1,614.3 411.6,615.7 412.2,615.4 412.1,614.2 412.2,613.0 412.3,611.8 412.1,611.8 411.7,611.8 411.5,611.8 411.6,610.6 411.9,609.4 412.3,608.1 412.3,608.7 412.6,609.2 412.6,609.8 412.6,608.6 412.5,607.4 412.5,606.1 412.4,606.2 412.3,606.3 412.0,606.3 412.2,604.9 412.7,603.5 412.9,602.0 412.6,602.5 412.5,603.0 412.6,603.5 412.8,602.2 412.9,600.8 413.0,599.5 413.5,600.0 413.6,600.5 413.6,601.0 413.5,599.6 413.5,598.3 413.6,597.0 413.5,597.1 413.5,598.0 413.5,599.0 413.6,598.8 413.7,598.6 413.7,598.5 414.1,599.8 414.5,601.2 414.9,602.5 415.1,602.2 415.1,601.9 415.2,601.6 415.2,603.0 415.2,604.4 415.3,605.8 415.3,605.5 415.3,605.2 415.2,604.8 415.3,606.2 415.6,607.6 415.9,609.0 416.0,608.7 415.9,608.4 416.0,608.0 416.0,609.3 415.7,610.6 415.4,611.8 415.3,611.5 415.4,611.1 415.1,610.7 415.5,611.9 415.9,613.2 416.3,614.4 416.1,614.3 415.7,614.2 415.5,614.1 415.6,615.2 415.6,616.3 416.0,617.4 416.1,617.3 416.1,617.2 415.9,617.2 416.0,618.2 415.9,619.2 415.7,620.2 415.6,620.1 415.7,619.9 415.6,619.8 415.6,621.0 415.8,622.2 416.0,623.4 416.1,623.4 416.2,623.3 416.2,623.3 416.3,624.4 416.3,625.5 416.5,626.5 416.2,626.5 415.6,626.5 415.3,626.5 415.6,627.4 416.1,628.3 416.7,629.3 416.6,629.2 416.3,629.0 416.2,628.9 416.3,630.4 416.3,631.9 416.3,633.4 416.3,633.1 416.2,632.8 416.0,632.4 416.2,633.8 416.2,635.2 416.4,636.5 416.5,636.1 416.4,635.6 416.0,635.1 416.0,636.4 416.1,637.6 416.0,639.0 416.7,638.8 417.4,638.2 418.2,637.5 418.5,638.6 419.0,639.6 419.5,640.7 419.3,640.4 419.0,640.0 418.8,639.7 418.9,641.1 419.1,642.5 419.1,643.9 419.0,643.7 419.1,643.6 419.4,643.5 419.5,644.5 419.5,645.5 419.6,646.4 419.7,646.4 419.8,646.4 419.9,646.4 420.2,647.7 420.1,649.1 420.3,650.4 420.2,650.0 420.3,648.9 420.5,647.7 420.4,647.7 420.4,647.8 420.1,647.8 420.3,646.5 420.6,645.3 420.9,644.1 421.0,644.4 421.3,644.7 421.3,644.9 421.4,643.6 421.7,642.3 422.2,641.0 422.0,641.3 422.0,641.7 422.1,642.0 422.0,640.9 422.0,639.8 421.9,638.6 421.9,638.8 422.0,639.0 422.4,639.2 422.5,637.8 422.8,636.4 423.2,635.0 422.9,635.4 422.8,635.8 422.8,636.3 423.0,634.8 423.1,633.2 423.1,632.7 423.3,634.1 423.4,635.4 423.6,636.8 423.4,636.7 423.4,636.6 423.0,636.6 423.0,637.9 423.4,639.2 423.4,640.5 423.4,640.0 423.6,639.4 423.8,638.9 424.0,640.1 424.3,641.4 424.4,642.7 424.2,642.7 424.1,642.7 424.1,642.6 423.9,643.9 423.6,645.1 423.3,646.4 423.5,645.9 423.7,645.5 423.8,645.1 423.5,646.6 423.7,648.0 423.9,649.5 424.1,649.2 424.1,649.0 424.7,648.8 424.7,649.8 424.7,650.7 424.6,651.7 424.4,651.7 424.6,651.7 424.9,651.6 424.8,653.0 424.6,654.4 424.5,655.8 424.8,655.2 425.0,654.6 425.1,654.0 425.0,655.6 425.2,657.1 425.0,658.2 424.6,657.2 424.7,655.7 425.3,654.3 425.2,654.6 425.1,654.8 425.2,655.1 425.6,653.8 425.7,652.5 425.9,651.3 426.1,651.6 426.2,652.0 426.1,652.3 425.8,650.9 425.7,649.5 425.6,648.2 425.8,648.6 425.9,649.0 426.2,649.4 426.5,648.0 426.7,646.6 426.6,645.2 426.6,645.4 426.8,645.7 426.9,645.9 426.6,644.7 426.5,643.5 426.6,642.4 426.9,642.7 427.0,643.0 427.2,643.4 427.1,642.1 426.9,640.7 426.9,639.5 427.5,640.0 428.0,640.6 428.3,641.1 427.9,639.5 427.6,637.9 427.9,635.9 428.3,637.8 428.4,639.3 428.8,640.7 429.0,640.1 429.0,639.6 428.8,639.2 429.0,640.5 428.9,642.0 428.8,643.4 429.2,643.3 429.6,643.1 429.7,643.1 429.5,644.1 429.4,645.1 429.7,646.0 429.8,646.1 429.8,646.3 429.8,646.4 430.2,647.3 430.2,648.3 430.6,649.2 430.9,648.9 430.8,648.4 430.6,647.2 430.7,647.7 430.7,648.1 430.8,648.6 431.3,647.4 431.7,646.1 431.9,644.8 431.8,645.0 431.8,645.2 432.0,645.5 432.0,644.3 432.0,643.2 432.2,642.0 432.6,642.2 433.0,642.3 433.2,642.4 433.4,641.3 433.9,640.3 433.9,639.1 434.0,639.2 434.1,639.3 434.1,639.4 434.0,638.3 434.0,637.2 433.9,636.1 434.3,636.6 434.4,637.1 434.7,637.9 434.6,637.4 435.0,637.0 435.2,636.7 435.1,637.7 435.2,638.6 435.3,639.5 435.7,639.3 436.2,639.0 436.6,638.7 436.5,640.2 436.4,641.7 436.4,643.1 436.4,642.7 436.5,642.3 436.6,641.9 436.9,643.3 437.2,644.8 437.5,646.3 437.6,646.0 437.8,645.6 438.3,645.0 438.5,646.3 438.8,647.5 439.3,648.6 439.4,648.4 439.7,647.9 439.9,647.6 440.0,648.8 440.2,649.8 440.2,650.7 440.3,650.7 440.5,650.7 440.8,650.6 440.7,651.8 440.9,652.9 441.0,654.0 441.0,653.8 441.3,653.5 441.1,653.3 441.3,654.7 441.5,656.0 441.5,657.4 441.9,656.9 441.9,656.5 441.9,656.0 442.0,657.1 442.1,658.3 442.0,659.4 442.1,659.2 442.3,659.0 442.3,658.8 442.7,660.2 442.9,661.6 443.0,663.0 442.7,662.6 442.5,662.2 442.4,661.8 442.8,663.3 443.1,664.8 443.4,666.3 443.4,666.0 443.3,665.6 443.4,665.3 443.4,666.2 443.0,666.4 443.2,666.5 443.6,665.4 443.7,664.3 443.9,663.1 444.0,663.5 444.1,663.8 444.1,664.2 444.4,663.0 444.4,661.8 444.2,660.6 444.0,660.6 444.0,660.6 443.7,660.6 443.8,659.4 443.9,658.2 444.1,657.0 443.8,657.2 443.8,657.4 443.9,657.6 444.3,656.4 444.6,655.2 444.9,654.0 444.7,654.2 444.5,654.4 444.5,654.7 444.6,653.2 444.6,651.8 444.8,650.4 445.2,650.8 445.2,651.1 445.4,651.5 445.3,650.5 445.3,649.4 444.8,648.3 445.0,648.7 445.4,649.1 445.8,649.5 445.7,647.8 445.6,646.2 445.4,644.5 445.7,645.1 446.0,645.7 446.5,646.3 446.4,644.8 446.2,643.2 446.2,641.7 446.4,642.1 446.4,642.6 446.2,643.3 445.9,642.8 446.6,642.6 446.7,642.4 446.6,643.5 446.5,644.5 446.4,645.5 446.2,645.5 446.4,645.4 446.5,645.3 446.2,646.5 446.5,647.7 446.4,649.0 446.5,648.8 446.7,648.7 447.2,648.5 447.1,649.6 447.2,650.7 447.4,651.9 447.1,651.8 446.8,651.7 446.6,651.7 447.0,652.6 447.3,653.6 448.0,654.5 447.7,654.4 447.5,654.3 447.4,654.2 447.4,655.7 447.8,657.1 448.1,658.6 448.0,658.0 448.0,657.3 447.8,656.7 448.0,658.3 448.4,659.8 448.7,661.4 448.6,661.0 448.2,660.0 447.6,659.2 447.8,659.6 448.1,660.1 448.1,660.6 448.0,658.9 448.0,657.3 448.1,655.7 448.0,656.0 448.2,656.3 448.3,656.7 448.3,655.7 448.4,654.7 448.6,653.7 448.7,653.8 448.7,654.0 448.8,654.1 449.1,652.9 449.4,651.7 449.6,650.4 449.2,650.6 449.4,650.8 449.2,650.9 449.1,649.5 449.1,648.1 448.7,646.7 449.1,647.0 449.6,647.4 450.0,647.7 450.1,646.7 450.1,645.6 450.1,644.6 449.7,644.7 449.6,644.7 449.0,644.7 449.2,643.7 449.5,642.6 449.9,641.6 449.8,641.6 449.9,641.6 450.1,641.6 450.2,640.6 450.1,639.5 450.3,638.5 450.3,638.5 450.2,638.4 450.4,638.4 450.3,637.2 450.2,636.1 450.1,634.9 450.2,635.1 450.6,635.3 450.7,635.5 450.7,634.2 450.7,632.9 451.1,631.7 450.9,632.1 450.7,632.5 450.3,633.0 450.3,631.8 450.3,630.7 450.3,629.6 450.7,629.9 451.1,630.2 451.2,630.5 451.1,628.9 451.0,627.3 450.9,625.6 451.4,626.0 451.1,626.6 450.9,627.7 451.3,627.3 451.4,627.1 452.1,626.6 452.4,628.0 452.5,629.5 452.5,630.9 452.4,630.6 452.5,630.1 452.4,629.7 452.4,631.1 452.7,632.4 452.8,633.7 453.0,633.6 453.2,633.4 453.4,633.2 453.6,634.1 453.7,635.1 453.7,636.1 453.9,636.4 454.7,635.5 455.1,634.6 455.2,634.7 455.3,634.9 455.4,635.0 455.8,633.9 456.2,632.7 456.7,631.6 456.7,631.9 457.0,632.7 457.1,633.8 457.0,633.7 457.3,633.5 457.2,633.5 457.3,634.7 457.5,635.9 457.7,637.0 457.7,636.7 458.0,636.3 458.3,635.9 458.2,637.3 458.1,638.8 458.1,640.2 458.3,640.2 458.5,640.1 458.5,640.1 458.7,641.3 458.8,642.7 459.2,642.9 459.5,641.4 459.4,639.7 459.8,638.1 459.6,638.7 459.3,639.3 459.1,639.9 459.1,638.4 459.4,637.0 459.8,635.5 460.0,635.9 460.1,636.3 460.2,636.7 460.0,635.3 459.8,633.9 459.7,632.5 459.9,633.0 460.0,633.4 460.1,633.9 460.5,632.6 460.7,631.3 461.2,630.1 461.0,630.3 460.6,630.5 460.5,630.8 460.8,629.5 460.9,628.3 461.1,627.0 461.5,627.2 461.5,627.4 461.7,627.6 461.9,626.3 462.0,625.0 462.0,623.6 461.7,623.7 461.8,624.8 461.7,625.9 461.5,625.8 461.5,625.7 461.6,625.5 461.9,626.7 462.0,627.9 462.1,629.0 462.0,628.7 462.0,628.5 461.9,628.2 462.2,629.7 462.2,631.3 462.2,632.8 462.6,632.4 462.7,632.0 462.7,631.6 462.7,632.9 462.8,634.2 462.9,635.5 462.9,635.4 463.0,635.3 463.0,635.1 462.7,636.3 462.3,637.4 462.1,638.5 462.2,638.2 462.3,638.0 462.7,637.7 462.5,638.9 462.3,640.1 462.1,641.3 462.6,641.0 462.9,640.8 463.2,640.5 463.2,642.0 463.0,643.4 462.9,644.9 462.7,644.6 462.6,644.2 462.5,643.9 462.7,645.1 462.9,646.2 463.2,647.4 463.3,647.1 463.6,646.7 463.4,646.4 463.5,648.0 463.7,649.5 463.9,651.1 463.2,650.6 463.0,650.1 463.0,649.6 463.4,650.9 463.6,652.3 464.0,653.7 463.8,653.2 463.6,652.7 463.2,652.3 463.6,653.8 463.8,655.3 463.9,656.8 463.6,656.6 463.4,656.4 463.2,656.2 463.4,657.2 463.7,658.3 463.9,659.3 464.1,659.1 464.2,658.8 464.3,658.6 464.2,659.8 463.7,661.0 463.5,662.2 463.8,661.9 463.8,661.7 463.7,661.5 463.9,662.8 463.9,664.0 463.6,665.4 464.2,665.2 464.6,665.0 464.9,664.9 464.8,666.1 464.5,667.3 464.1,668.5 464.3,668.2 464.5,668.0 464.3,666.6 464.5,667.0 464.6,667.4 464.8,667.7 464.9,666.6 464.8,665.4 464.5,664.2 464.8,664.6 465.3,665.1 465.6,665.5 465.7,664.1 465.8,662.8 465.9,661.4 465.9,661.5 466.1,661.6 466.3,661.7 466.2,660.7 466.0,659.6 465.9,658.6 466.0,658.7 466.1,658.9 466.2,659.1 466.3,657.7 466.6,656.3 466.8,654.9 466.9,655.3 467.3,655.6 467.5,655.9 467.4,654.6 467.2,653.2 467.4,651.4 467.6,653.1 467.6,654.4 467.6,655.7 468.0,655.5 468.3,655.4 468.8,655.3 469.0,656.5 469.2,657.7 469.2,659.0 469.2,658.7 469.3,658.3 469.4,658.0 469.6,659.4 470.3,660.7 470.5,662.1 470.3,661.3 469.8,660.2 470.1,658.9 470.3,659.2 470.2,659.4 470.2,659.7 470.9,658.4 471.1,657.1 471.5,655.8 471.6,656.3 471.6,656.8 472.0,657.3 471.6,655.8 471.4,654.4 471.3,652.9 471.2,653.0 471.4,653.2 471.5,653.4 471.7,652.2 471.7,651.0 472.3,649.9 472.4,650.1 472.6,650.3 473.1,650.5 472.9,649.4 473.1,648.3 473.2,647.3 472.9,647.2 472.6,647.0 472.3,647.0 472.5,646.1 473.2,644.8 473.6,645.3 473.6,646.3 473.5,647.3 473.3,648.3 473.3,648.4 473.4,648.5 473.6,648.5 473.8,649.5 473.8,650.4 473.9,651.4 474.1,651.0 474.2,650.7 474.3,650.4 474.9,651.8 474.9,653.3 475.3,654.7 475.2,654.2 475.0,653.9 475.1,653.4 475.2,654.7 475.2,656.0 475.3,657.4 475.6,657.4 475.4,657.4 475.4,657.5 475.6,658.7 476.1,660.1 476.7,659.8 476.3,658.4 476.0,656.9 475.9,655.4 476.3,655.8 476.3,656.1 476.4,656.4 476.3,655.2 476.4,654.0 476.4,652.8 476.3,653.2 476.2,653.6 476.3,654.1 476.3,652.8 476.7,651.6 477.1,650.5 477.0,650.4 476.6,650.5 476.5,650.5 476.6,649.4 476.7,648.4 476.4,647.3 476.6,647.3 477.0,647.3 477.3,647.3 477.0,646.1 476.8,644.8 476.6,643.5 477.0,643.8 477.2,643.9 477.6,644.0 477.6,643.0 477.4,641.8 477.1,640.6 476.9,640.9 477.2,641.3 477.2,641.6 477.3,640.4 477.4,639.3 477.7,638.2 477.5,638.3 477.2,638.4 477.1,638.6 477.7,637.2 477.9,636.0 478.1,634.8 478.1,634.9 478.3,635.1 478.1,635.2 477.8,634.1 477.6,632.8 477.4,631.6 477.2,631.9 477.3,632.2 477.5,632.5 477.8,631.5 478.1,630.5 478.5,629.6 478.4,629.5 478.3,629.5 478.6,629.4 478.3,628.4 478.1,627.2 477.8,625.9 477.9,625.9 478.5,626.0 478.8,625.9 478.7,625.0 478.5,624.0 478.6,623.1 478.6,623.0 478.6,622.9 478.6,622.9 478.7,622.9 478.9,623.1 479.2,623.2 479.4,624.0 479.4,624.8 479.7,625.5 479.6,625.8 479.6,626.0 479.6,626.3 479.6,627.2 480.1,628.0 480.4,628.6 480.7,628.9 481.1,629.1 481.5,629.4 481.5,630.0 481.5,630.6 481.8,631.0 481.6,631.6 481.4,632.1 481.4,632.5 481.7,633.1 481.8,633.6 481.8,634.1 482.1,634.6 482.4,635.0 482.4,635.5 482.6,636.1 483.0,636.4 483.5,636.7 483.8,637.1 484.2,637.4 484.6,637.8 484.7,638.3 485.0,638.7 485.1,639.3 485.4,639.7 485.8,640.0 486.2,640.3 486.4,640.9 486.4,641.5 486.7,641.9 487.3,642.1 487.5,642.5 488.3,642.6 488.4,643.1 488.4,643.7 488.5,644.3 489.1,644.5 489.4,644.9 489.7,645.3 490.1,645.7 490.8,645.8 491.1,646.2 491.2,646.7 491.5,647.1 491.9,647.5 492.1,647.9 492.2,648.5 492.3,649.0 492.9,649.3 493.5,649.5 493.9,649.8 493.9,650.4 494.0,651.0 494.4,651.3 494.7,651.8 495.0,652.1 495.6,652.3 496.2,652.4 496.6,652.7 497.0,653.1 497.0,653.7 497.2,654.3 497.3,654.9 497.8,655.2 498.2,655.5 498.5,655.9 498.9,656.3 499.3,656.5 499.6,657.0 499.8,657.4 500.3,657.6 500.4,658.1 500.6,658.6 500.8,659.0 501.1,659.4 501.5,659.9 501.6,660.4 501.8,660.8 502.0,661.3 502.2,661.8 502.4,662.2 502.4,662.8 502.4,663.3 502.6,663.8 502.8,664.3 503.2,664.6 503.6,665.0 503.8,665.5 504.0,665.9 504.4,666.3 504.9,666.7 505.3,667.0 504.9,667.0 504.7,667.1 505.2,666.7 505.9,666.3 505.8,665.8 505.7,665.3 505.6,664.7 505.8,664.3 505.9,663.8 506.4,663.4 506.6,662.9 506.6,662.4 506.4,661.8 506.4,661.3 506.6,660.8 506.5,660.3 506.3,659.7 506.4,659.2 506.7,658.8 507.1,658.3 507.2,657.8 507.3,657.3 507.7,656.9 507.8,656.4 507.8,655.9 507.9,655.4 507.9,654.9 507.8,654.4 508.1,653.9 508.5,653.5 508.7,653.0 508.8,652.5 508.7,652.0 508.7,651.5 509.1,651.0 509.1,650.5 509.0,650.0 508.9,649.4 509.0,649.0 509.3,648.5 509.4,648.0 509.2,647.4 508.9,646.9 509.3,646.4 509.9,646.0 510.3,645.7 510.1,645.1 510.0,644.5 510.2,644.0 510.6,643.7 511.2,643.4 511.9,643.2 511.9,642.6 511.8,642.0 511.9,641.5 512.3,641.2 512.5,640.7 513.0,640.4 513.4,640.0 513.6,639.6 513.8,639.1 513.9,638.6 514.0,638.1 514.1,637.6 514.3,637.1 514.5,636.6 514.8,636.2 515.3,636.0 515.8,635.7 516.2,635.4 516.3,634.8 516.6,634.4 516.8,634.0 517.2,633.6 517.7,633.3 518.0,632.9 518.1,632.4 518.4,632.0 518.4,631.4 518.8,631.1 519.1,630.7 519.3,630.2 519.6,629.8 519.7,629.3 519.8,628.7 519.9,628.2 520.0,627.7 520.1,627.2 520.8,627.0 521.3,626.7 521.4,626.4 521.6,626.8 521.6,627.5 521.5,627.9 521.8,628.4 522.3,628.8 522.6,629.3 522.6,629.8 522.8,630.3 523.2,630.7 522.8,631.3 522.6,631.9 522.5,632.4 522.9,632.9 523.2,633.3 523.3,633.8 523.2,634.3 523.2,634.9 523.4,635.3 523.6,635.8 523.7,636.3 523.8,636.8 524.1,637.3 524.6,637.7 524.8,638.2 524.5,638.8 524.1,639.3 523.9,639.9 524.3,640.3 524.8,640.8 525.3,641.2 525.3,641.7 525.2,642.3 525.2,642.8 525.5,643.2 525.7,643.7 525.9,644.2 526.1,644.7 526.3,645.1 526.3,645.7 526.0,646.2 526.1,646.7 526.2,647.2 526.3,647.7 526.1,648.3 526.2,648.8 526.2,649.3 526.3,649.8 526.3,650.3 526.6,650.8 526.8,651.3 527.0,651.7 527.2,652.2 527.5,652.7 527.7,653.2 527.7,653.7 527.7,654.2 527.8,654.7 528.1,655.2 528.1,655.7 528.1,656.2 528.1,656.7 527.9,657.3 528.0,657.8 528.6,658.2 529.0,658.6 529.1,659.1 529.3,659.6 529.4,660.1 529.5,660.6 529.4,661.1 529.5,661.6 529.8,662.1 530.1,662.5 530.2,663.0 530.0,663.6 530.0,664.1 530.1,664.6 530.3,665.1 530.3,665.6 530.8,666.1 531.1,666.5 530.8,667.1 530.5,667.7 530.3,668.2 530.8,668.7 531.3,669.1 531.7,669.5 531.5,670.1 531.3,670.6 531.2,671.2 531.5,671.7 531.7,672.1 531.6,672.7 531.5,673.2 531.6,673.7 531.8,674.2 532.1,674.6 532.4,675.2 532.5,674.6 532.4,674.1 532.5,673.6 532.5,673.0 532.6,672.5 532.7,672.0 532.4,671.5 532.9,671.0 533.4,670.6 533.9,670.2 534.1,669.7 534.0,669.2 533.9,668.7 534.2,668.2 534.4,667.7 534.4,667.2 534.5,666.7 534.6,666.2 534.4,665.6 534.4,665.1 534.7,664.7 534.7,664.1 534.8,663.6 535.1,663.2 535.6,662.8 535.6,662.3 535.6,661.7 535.7,661.2 535.7,660.7 535.7,660.2 535.7,659.7 535.6,659.1 535.7,658.6 535.9,658.2 536.2,657.7 536.6,657.3 536.9,656.8 536.6,656.2 536.6,655.7 536.7,655.2 536.8,654.7 536.6,654.1 536.7,653.6 536.8,653.2 536.9,652.6 537.2,652.2 537.2,651.7 537.2,651.2 537.3,650.7 537.3,649.9 538.1,649.7 538.6,649.7 539.2,649.8 539.7,649.8 540.2,649.7 540.7,650.1 541.2,650.4 541.8,650.7 542.3,650.8 543.1,650.6 543.4,649.8 543.3,649.3 543.3,648.8 543.1,648.2 543.3,647.7 543.4,647.2 543.4,646.7 543.6,646.2 544.0,645.8 544.3,645.4 544.2,644.8 544.4,644.4 544.7,643.9 544.8,643.4 544.8,642.9 544.9,642.4 545.1,641.9 545.2,641.5 545.3,641.0 545.4,640.5 545.4,639.9 545.3,639.4 545.6,639.0 546.1,638.6 546.5,638.2 546.3,637.6 546.1,637.0 546.0,636.5 546.6,636.1 546.8,635.6 547.1,635.2 547.2,634.7 547.4,634.2 547.2,633.7 547.4,633.2 547.5,632.7 547.6,632.2 547.9,631.7 547.9,631.2 547.9,630.7 547.9,630.2 548.0,629.7 548.2,629.2 548.7,628.8 549.0,628.5 549.0,629.0 549.3,629.5 549.8,629.7 550.2,630.0 550.5,630.5 550.8,630.9 550.9,631.4 551.3,631.8 551.7,632.1 552.0,632.4 552.5,632.7 552.7,633.2 552.9,633.7 553.4,633.9 553.9,634.1 554.6,634.2 554.9,634.6 555.1,635.1 555.1,635.7 555.5,636.1 555.7,636.6 555.7,637.1 556.0,637.5 556.1,638.0 556.1,638.5 556.2,639.0 556.5,639.5 556.7,639.9 556.9,640.4 557.1,640.9 557.0,641.4 556.9,642.0 556.7,642.5 556.7,643.0 557.3,643.4 557.7,643.9 557.8,644.3 557.4,644.9 557.3,645.5 557.3,646.0 557.3,646.5 557.7,647.0 558.2,647.4 558.4,647.8 558.4,648.4 558.8,648.8 558.7,649.3 558.5,649.9 558.3,650.4 558.5,650.9 558.6,651.4 558.8,651.9 558.9,652.4 558.9,652.9 559.4,653.5 559.6,652.8 559.6,652.3 559.5,651.8 559.8,651.3 560.0,650.9 560.3,650.4 560.3,649.9 560.3,649.4 560.2,648.8 560.5,648.4 560.8,647.9 561.0,647.5 561.1,647.0 561.0,646.4 560.7,645.9 561.0,645.4 561.3,644.9 561.4,644.5 561.5,644.0 561.9,643.5 562.0,643.0 561.8,642.5 561.7,641.9 561.7,641.4 562.0,641.0 561.8,640.4 561.8,639.9 562.1,639.4 562.4,639.0 562.8,638.6 562.8,638.1 562.9,637.6 562.9,637.0 563.1,636.6 563.5,636.1 563.7,635.7 563.7,635.2 564.1,634.7 564.3,634.3 564.2,633.7 564.2,633.2 564.6,632.8 564.8,632.3 564.8,631.8 564.8,631.3 564.5,630.7 564.5,630.2 564.4,629.6 564.7,629.2 564.9,628.7 565.2,628.3 565.4,627.8 565.6,627.3 565.8,626.9 565.6,626.2 566.2,626.7 566.5,627.1 566.3,627.7 566.2,628.3 565.8,628.9 566.2,629.3 566.7,629.7 567.1,630.1 567.0,630.7 567.1,631.2 567.2,631.7 567.4,632.2 567.5,632.7 567.5,633.2 567.5,633.7 567.6,634.2 567.6,634.8 567.9,635.2 568.0,635.7 568.1,636.2 568.2,636.7 568.3,637.2 568.8,637.6 568.8,638.1 568.6,638.7 568.7,639.2 569.1,639.6 569.2,640.1 569.2,640.7 569.4,641.1 569.6,641.6 570.0,642.0 570.4,642.4 570.6,642.9 570.9,643.4 571.0,643.9 571.1,644.4 570.9,644.7 571.3,644.8 571.8,644.7 572.4,644.9 572.9,644.6 573.3,644.0 573.8,643.8 574.3,643.8 574.9,643.7 575.4,643.6 576.0,643.8 576.6,643.9 577.1,644.1 577.5,644.5 577.9,644.9 578.4,645.1 579.0,645.2 579.5,645.3 580.0,645.4 580.4,645.9 580.8,646.3 581.3,646.5 581.7,646.9 582.2,647.2 582.6,646.7 582.8,646.2 583.0,645.7 583.3,645.4 583.6,644.9 583.8,644.4 583.9,643.9 584.1,643.4 584.3,642.9 584.4,642.4 584.7,642.0 584.9,641.5 585.1,641.1 585.3,640.5 585.4,640.0 585.6,639.6 586.0,639.2 586.4,638.6 586.7,639.3 586.6,639.8 586.6,640.3 586.5,640.8 586.7,641.3 587.0,641.8 587.4,642.2 587.5,642.7 587.3,643.2 587.0,643.8 587.2,644.3 587.2,644.8 587.5,645.3 587.7,645.7 587.9,646.2 588.0,646.7 588.3,647.2 588.6,647.6 588.9,648.1 588.6,648.6 588.6,649.1 588.3,649.7 588.5,650.2 588.9,650.6 589.1,651.1 589.1,651.6 589.1,652.1 589.0,652.7 589.1,653.1 589.3,653.6 589.6,654.1 589.4,654.6 589.3,655.2 589.3,655.7 589.7,656.1 590.0,656.6 590.4,657.0 590.7,657.4 590.6,658.0 590.6,658.5 590.8,659.0 590.8,659.5 591.2,659.9 590.8,660.5 590.6,661.1 590.8,661.5 591.0,662.0 591.0,662.5 591.2,663.0 591.4,663.5 591.2,664.0 591.2,664.5 591.2,665.0 591.3,665.5 591.8,666.0 591.6,666.5 591.5,667.0 591.6,667.5 592.0,668.0 592.1,668.5 592.6,668.9 592.7,669.4 592.6,669.7 592.9,669.5 593.3,669.2 593.7,668.9 594.2,668.6 594.7,668.3 594.8,667.8 595.1,667.3 595.3,666.9 595.5,666.4 595.6,665.8 596.0,665.5 596.5,665.2 596.9,664.9 597.2,664.5 597.7,664.3 598.0,663.8 598.1,663.3 598.2,662.8 598.5,662.3 598.7,661.9 598.8,661.4 598.9,660.9 598.8,660.3 598.6,659.7 598.5,659.2 598.8,658.7 598.9,658.2 599.2,657.8 599.4,657.3 599.5,656.8 599.7,656.4 599.7,655.8 599.8,655.3 600.0,654.9 600.4,654.5 600.3,653.9 600.4,653.4 600.8,653.0 601.4,652.7 601.8,652.3 601.7,651.7 601.5,651.1 601.3,650.5 601.4,650.0 601.8,649.6 602.1,649.2 602.5,648.8 602.7,648.3 603.1,647.9 603.3,647.4 603.4,646.9 603.6,646.5 603.5,645.9 603.7,645.4 603.6,644.9 603.7,644.4 603.9,643.9 604.0,643.4 604.0,642.9 604.1,643.4 604.0,643.9 604.0,644.4 603.9,644.9 603.8,645.5 604.0,645.9 604.0,646.5 604.2,646.9 604.3,647.4 604.5,647.9 604.8,648.4 604.5,648.9 604.8,649.4 605.1,649.8 605.3,650.3 605.5,650.8 605.8,651.2 605.7,651.8 605.5,652.3 605.4,652.8 605.3,653.4 605.3,653.9 605.4,654.4 605.8,654.8 605.9,655.3 606.1,655.8 606.3,656.2 606.6,656.7 606.8,657.2 606.5,657.7 606.3,658.3 606.2,658.8 606.2,659.3 606.1,659.8 606.3,660.3 606.7,660.7 606.9,661.2 606.9,661.7 606.9,662.2 607.1,662.7 607.3,663.2 607.7,663.6 607.6,664.2 607.6,664.7 607.9,665.1 607.8,665.7 607.7,666.2 607.8,666.7 607.9,667.2 608.3,667.6 608.4,668.1 608.6,668.6 608.7,669.1 608.2,669.7 608.4,670.1 608.3,670.7 608.2,671.2 608.1,671.7 608.2,672.2 608.3,672.7 608.2,673.2 608.2,673.7 608.2,674.2 608.5,674.7 608.6,675.2 608.8,675.6 609.2,676.4 609.7,675.7 609.4,675.1 609.1,674.5 609.0,674.0 609.4,673.5 609.6,673.1 609.8,672.6 609.8,672.1 610.0,671.6 610.1,671.1 610.2,670.6 610.5,670.1 610.9,669.7 610.8,669.2 610.6,668.6 610.5,668.1 610.5,667.5 610.7,667.0 610.6,666.5 611.0,666.1 611.4,665.6 611.6,665.2 611.7,664.7 611.5,664.1 611.5,663.6 611.9,663.1 612.0,662.6 612.3,662.2 612.2,661.6 612.1,661.1 612.1,660.6 612.2,660.1 612.4,659.6 612.8,659.2 613.0,658.7 613.0,658.2 613.1,657.7 613.1,657.2 613.1,656.6 613.1,656.1 613.0,655.6 613.0,655.1 613.1,654.6 613.2,654.1 613.7,653.6 613.8,653.1 613.8,652.6 614.3,652.2 614.6,651.7 614.6,651.2 614.6,650.7 614.6,650.2 614.6,649.7 614.8,649.4 615.2,649.3 615.5,648.9 616.0,648.7 616.2,648.1 616.5,647.6 616.8,647.2 617.0,646.7 617.4,646.3 617.8,646.0 618.3,645.8 618.8,645.6 619.0,645.1 619.6,644.7 620.0,645.3 620.3,645.8 620.4,646.3 620.7,646.7 620.9,647.2 620.9,647.8 621.3,648.2 621.7,648.6 622.2,648.9 622.4,649.3 622.5,649.8 622.9,650.3 623.2,650.6 623.5,651.0 623.8,651.5 623.7,652.2 623.8,652.7 624.0,653.2 624.8,653.3 624.7,652.8 624.3,652.2 624.6,651.7 624.9,651.3 625.2,650.8 625.3,650.3 625.8,649.9 626.2,649.5 626.1,648.9 626.1,648.4 626.4,648.0 626.5,647.5 626.5,647.0 626.5,646.5 626.6,646.0 626.5,645.4 626.4,644.9 626.9,644.5 626.8,643.9 627.1,643.5 627.1,643.0 627.0,642.4 627.0,641.9 627.2,641.4 627.5,641.0 628.0,640.6 628.2,640.1 627.9,639.5 627.9,639.0 628.3,638.6 628.7,638.2 628.9,637.7 628.7,637.1 628.6,636.6 628.4,636.0 628.4,635.5 628.7,635.1 629.1,634.6 629.3,634.2 629.2,633.6 629.7,633.2 629.9,632.8 630.0,632.3 630.2,631.8 630.0,631.2 630.0,630.7 629.8,630.2 629.9,629.7 630.4,629.3 630.6,628.8 630.7,628.3 630.8,627.8 631.2,627.4 631.1,626.8 631.0,626.4 631.2,626.8 631.5,627.2 631.9,627.6 632.4,628.0 632.3,628.6 632.1,629.2 632.0,629.8 632.2,630.2 632.7,630.6 633.2,631.0 633.0,631.6 633.1,632.1 632.7,632.8 632.9,633.2 633.4,633.6 633.7,634.1 633.9,634.5 634.2,635.0 634.5,635.4 634.5,636.0 634.7,636.4 634.7,637.0 634.8,637.5 634.8,638.0 635.1,638.5 635.2,639.0 635.3,639.5 635.7,639.9 635.9,640.4 636.1,640.8 636.3,641.3 636.3,641.9 635.9,642.5 636.0,643.0 636.1,643.5 636.2,644.0 636.3,644.5 636.5,645.0 637.1,645.3 637.6,645.8 637.4,646.3 637.5,646.8 637.8,647.3 637.7,647.8 637.4,648.4 637.4,648.9 637.5,649.4 637.7,649.9 638.1,650.3 638.3,650.8 638.0,651.4 637.9,652.0 638.4,652.4 638.7,652.8 639.3,653.2 639.5,653.7 639.6,654.2 639.6,654.7 639.6,655.2 639.5,655.8 639.7,656.2 640.2,656.7 640.3,657.1 640.6,657.6 640.5,658.1 640.5,658.7 640.5,659.2 640.9,659.6 641.0,660.1 641.1,660.6 641.0,661.2 641.2,661.7 641.2,662.2 641.3,662.7 641.4,663.2 641.4,663.0 641.0,663.1 641.1,662.6 641.3,662.2 641.5,661.7 641.7,661.2 641.8,660.7 641.6,660.2 641.5,659.6 641.5,659.1 641.6,658.6 641.9,658.2 642.3,657.7 642.0,657.2 641.9,656.7 641.9,656.1 642.3,655.7 642.8,655.3 642.9,654.8 642.8,654.3 642.9,653.8 643.0,653.3 642.8,652.7 642.8,652.2 642.9,651.7 643.2,651.3 643.7,650.8 644.1,650.4 643.9,649.8 643.8,649.3 644.1,648.8 643.7,648.3 643.4,647.7 643.3,647.2 643.8,646.8 644.3,646.3 644.5,645.9 644.6,645.4 644.7,644.9 644.5,644.3 644.6,643.8 644.7,643.4 645.0,642.9 645.1,642.4 645.3,641.9 645.2,641.4 645.2,640.9 645.3,640.4 645.6,639.9 645.2,639.4 645.0,638.8 644.8,638.3 645.0,637.8 645.6,637.4 645.9,636.9 645.7,636.4 645.7,635.9 645.3,635.3 645.3,634.8 645.4,634.3 645.5,633.8 646.0,633.4 646.2,632.9 646.4,632.4 646.2,631.9 646.2,631.4 646.1,630.8 646.1,630.3 646.3,629.9 646.6,629.5 647.2,629.6 647.4,630.1 647.8,630.5 648.2,630.8 648.5,631.2 648.7,631.7 648.7,632.3 648.7,632.8 649.1,633.2 649.1,633.8 649.2,634.3 649.4,634.8 649.8,635.1 650.0,635.6 650.3,636.0 650.6,636.4 651.0,636.8 651.4,637.1 651.5,637.6 651.6,638.1 651.8,638.7 652.1,639.0 652.6,639.3 653.0,639.7 653.1,640.3 653.2,640.8 653.1,641.3 653.1,641.8 653.1,642.3 653.0,642.9 653.0,643.4 653.3,643.9 653.7,644.3 653.7,644.8 653.8,645.3 653.4,645.9 653.6,646.4 653.7,646.9 653.9,647.4 654.3,647.9 654.6,648.3 654.7,648.8 654.7,649.3 655.0,649.8 655.1,650.3 655.2,650.8 655.4,651.3 655.6,651.8 655.5,652.3 655.2,652.9 654.8,653.5 655.1,653.9 655.4,654.4 655.7,654.9 655.7,655.4 655.7,655.9 656.2,656.3"/>
<line x1="117.5" y1="518.5" x2="657" y2="738.3" stroke="#000" stroke-width="2.5" stroke-linecap="round" stroke-dasharray="3.3 6.0"/>
<line x1="117.5" y1="579" x2="557.5" y2="768" stroke="#000" stroke-width="2.5" stroke-linecap="round" stroke-dasharray="3.3 6.0"/>
<g stroke="#2f942f" stroke-width="1.10" fill="none" stroke-linecap="round" stroke-linejoin="round"><line x1="137.0" y1="553.5" x2="371.3" y2="553.5"/><polyline points="150.4,548.7 137.0,553.5 150.4,558.3"/><polyline points="357.9,548.7 371.3,553.5 357.9,558.3"/></g>
<g stroke="#ff9a40" stroke-width="1.10" fill="none" stroke-linecap="round" stroke-linejoin="round"><line x1="134.4" y1="643.0" x2="211.7" y2="643.0"/><polyline points="147.4,638.8 134.4,643.0 147.4,647.2"/><polyline points="198.7,638.8 211.7,643.0 198.7,647.2"/></g>
<g fill="#ff8000" stroke="#ff8000" stroke-linejoin="round" stroke-linecap="round"><line x1="236.7" y1="482.0" x2="236.7" y2="507.0" stroke-width="4.2"/><polygon points="230.7,507.0 242.7,507.0 236.7,528.0" stroke-width="2"/></g>
<g fill="#008000" stroke="#008000" stroke-linejoin="round" stroke-linecap="round"><line x1="400.3" y1="482.0" x2="400.3" y2="507.0" stroke-width="4.2"/><polygon points="394.3,507.0 406.3,507.0 400.3,528.0" stroke-width="2"/></g>
<line x1="233.8" y1="337.8" x2="270.3" y2="323.9" stroke="#000" stroke-width="1.90" />
<line x1="411.3" y1="333.8" x2="447.8" y2="319.7" stroke="#000" stroke-width="1.90" />
<line x1="254.7" y1="660.0" x2="214.0" y2="691.0" stroke="#000" stroke-width="1.90" />
<line x1="410.2" y1="596.9" x2="449.1" y2="565.8" stroke="#000" stroke-width="1.90" />
<rect x="117.5" y="34.5" width="539.5" height="360.0" fill="none" stroke="#3c3c3c" stroke-width="1.40"/>
<rect x="117.5" y="409.0" width="539.5" height="359.5" fill="none" stroke="#3c3c3c" stroke-width="1.40"/>
<text x="106.2" y="395.9" font-size="28.0" text-anchor="end" fill="#000" >0</text>
<text x="106.2" y="335.9" font-size="28.0" text-anchor="end" fill="#000" >1</text>
<text x="106.2" y="275.9" font-size="28.0" text-anchor="end" fill="#000" >2</text>
<text x="106.2" y="215.9" font-size="28.0" text-anchor="end" fill="#000" >3</text>
<text x="106.2" y="155.9" font-size="28.0" text-anchor="end" fill="#000" >4</text>
<text x="106.2" y="95.9" font-size="28.0" text-anchor="end" fill="#000" >5</text>
<text x="106.2" y="35.9" font-size="28.0" text-anchor="end" fill="#000" >6</text>
<text x="117.5" y="28.3" font-size="28">(x10<tspan font-size="19.5" dy="-12.5">-4</tspan><tspan dx="3" dy="12.5">)</tspan></text>
<text x="106.0" y="422.5" font-size="28.0" text-anchor="end" fill="#000" >1.0</text>
<text x="106.0" y="542.3" font-size="28.0" text-anchor="end" fill="#000" >0.5</text>
<text x="106.0" y="662.2" font-size="28.0" text-anchor="end" fill="#000" >0.0</text>
<text x="106.0" y="782.0" font-size="28.0" text-anchor="end" fill="#000" >-0.5</text>
<text x="111.0" y="800.6" font-size="27.0" text-anchor="middle" fill="#000" >0</text>
<text x="200.9" y="800.6" font-size="27.0" text-anchor="middle" fill="#000" >50</text>
<text x="290.8" y="800.6" font-size="27.0" text-anchor="middle" fill="#000" >100</text>
<text x="380.8" y="800.6" font-size="27.0" text-anchor="middle" fill="#000" >150</text>
<text x="470.7" y="800.6" font-size="27.0" text-anchor="middle" fill="#000" >200</text>
<text x="560.6" y="800.6" font-size="27.0" text-anchor="middle" fill="#000" >250</text>
<text x="650.5" y="800.6" font-size="27.0" text-anchor="middle" fill="#000" >300</text>
<text x="130.96" y="75.50" font-size="41.50" fill="#000" textLength="51.81" lengthAdjust="spacingAndGlyphs">(a)</text>
<text x="130.96" y="455.30" font-size="41.50" fill="#000" textLength="51.81" lengthAdjust="spacingAndGlyphs">(b)</text>
<text x="234.08" y="138.90" font-size="27.00" fill="#dc0c16" textLength="80.33" lengthAdjust="spacingAndGlyphs">+2.0 V</text>
<text x="127.87" y="187.30" font-size="27.00" fill="#1a0cd2" textLength="74.38" lengthAdjust="spacingAndGlyphs">-2.0 V</text>
<text x="159.08" y="243.90" font-size="27.00" fill="#dc0c16" textLength="80.33" lengthAdjust="spacingAndGlyphs">+2.0 V</text>
<text x="127.07" y="314.80" font-size="27.00" fill="#1a0cd2" textLength="74.48" lengthAdjust="spacingAndGlyphs">-2.0 V</text>
<text x="273.77" y="333.30" font-size="27.50" fill="#000" textLength="116.96" lengthAdjust="spacingAndGlyphs">sample A</text>
<text x="272.88" y="366.80" font-size="27.50" fill="#000" textLength="120.14" lengthAdjust="spacingAndGlyphs">(0.10 nm)</text>
<text x="453.88" y="329.20" font-size="27.50" fill="#000" textLength="116.97" lengthAdjust="spacingAndGlyphs">sample B</text>
<text x="452.47" y="362.30" font-size="27.50" fill="#000" textLength="120.76" lengthAdjust="spacingAndGlyphs">(0.19 nm)</text>
<text x="457.99" y="569.80" font-size="27.50" fill="#000" textLength="116.26" lengthAdjust="spacingAndGlyphs">sample B</text>
<text x="135.17" y="712.00" font-size="27.50" fill="#000" textLength="116.76" lengthAdjust="spacingAndGlyphs">sample A</text>
<text transform="translate(38.60,330.19) rotate(-90)" font-size="43.00" fill="#000" font-style="italic" textLength="39.19" lengthAdjust="spacingAndGlyphs">m</text>
<path d="M47.1 277.9 V296.4 M27.6 287.1 H47.1" stroke="#000" stroke-width="1.7" fill="none"/>
<text transform="translate(38.60,265.00) rotate(-90)" font-size="43.00" fill="#000" textLength="11.55" lengthAdjust="spacingAndGlyphs">/</text>
<text transform="translate(38.60,237.20) rotate(-90)" font-size="43.00" fill="#000" font-style="italic" textLength="28.69" lengthAdjust="spacingAndGlyphs">S</text>
<text transform="translate(48.20,212.40) rotate(-90)" font-size="33.00" fill="#000" textLength="60.94" lengthAdjust="spacingAndGlyphs">total</text>
<text transform="translate(38.60,137.44) rotate(-90)" font-size="42.50" fill="#000" textLength="55.02" lengthAdjust="spacingAndGlyphs">(A)</text>
<text transform="translate(33.80,807.74) rotate(-90)" font-size="39.00" fill="#000" font-style="italic" textLength="22.61" lengthAdjust="spacingAndGlyphs">Δ</text>
<text transform="translate(33.80,784.12) rotate(-90)" font-size="42.00" fill="#000" font-style="italic" textLength="39.38" lengthAdjust="spacingAndGlyphs">m</text>
<path d="M42.4 731.7 V750.4 M22.9 741.1 H42.4" stroke="#000" stroke-width="1.7" fill="none"/>
<text transform="translate(33.80,730.45) rotate(-90)" font-size="42.00" fill="#000" textLength="100.00" lengthAdjust="spacingAndGlyphs">(±2V)</text>
<text transform="translate(33.80,618.10) rotate(-90)" font-size="42.00" fill="#000" textLength="10.80" lengthAdjust="spacingAndGlyphs">/</text>
<text transform="translate(33.80,591.76) rotate(-90)" font-size="42.00" fill="#000" font-style="italic" textLength="29.78" lengthAdjust="spacingAndGlyphs">S</text>
<text transform="translate(43.00,567.00) rotate(-90)" font-size="33.50" fill="#000" textLength="107.97" lengthAdjust="spacingAndGlyphs">ion-film</text>
<text transform="translate(33.80,440.86) rotate(-90)" font-size="41.00" fill="#000" textLength="50.94" lengthAdjust="spacingAndGlyphs">(A)</text>
<text x="341.8" y="847.3" font-size="43.5" font-style="italic">T</text>
<text x="373.5" y="847.3" font-size="43.5">(K)</text>
</svg></body></html>
